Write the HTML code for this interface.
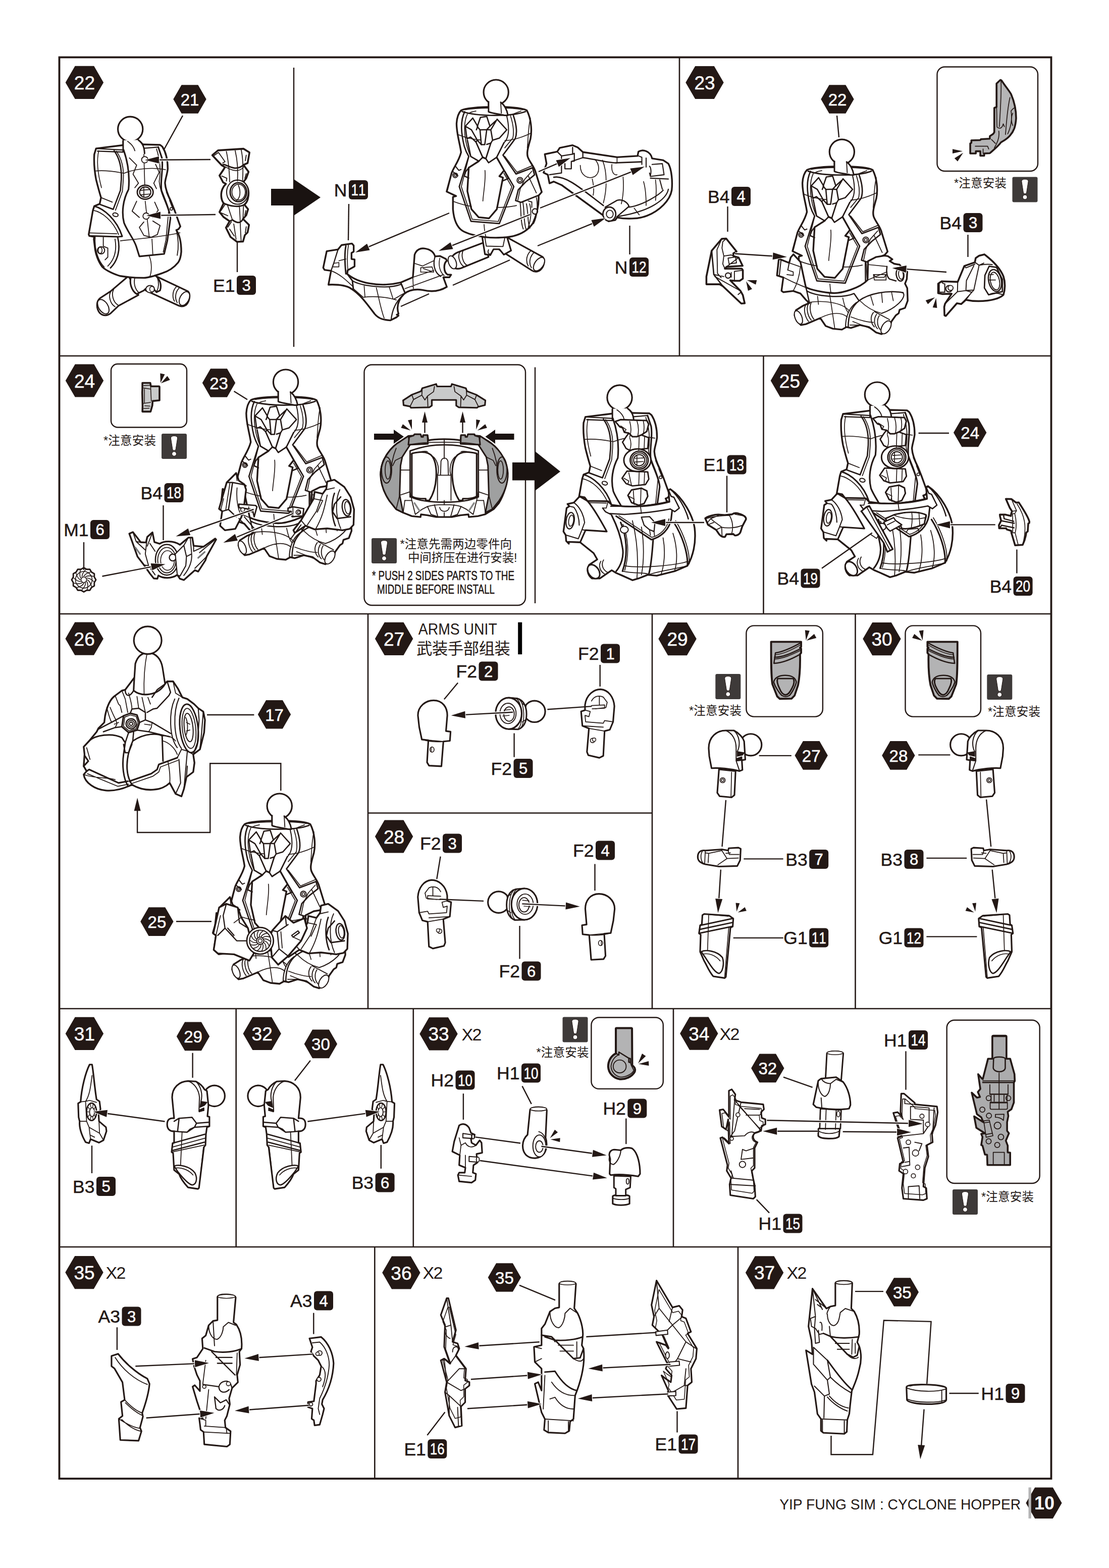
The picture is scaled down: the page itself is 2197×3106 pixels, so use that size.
<!DOCTYPE html>
<html><head><meta charset="utf-8"><title>Cyclone Hopper p10</title>
<style>html,body{margin:0;padding:0;background:#fff}svg{display:block}text{font-family:"Liberation Sans","Noto Sans CJK SC",sans-serif;stroke-width:0.5px}</style>
</head><body>
<svg width="2197" height="3106" viewBox="0 0 2197 3106">
<rect x="0" y="0" width="2197" height="3106" fill="#fff"/>
<rect x="117.5" y="113.5" width="1965.0" height="2815.5" fill="none" stroke="#231815" stroke-width="3.8"/>
<line x1="117.5" y1="705.0" x2="2082.5" y2="705.0" stroke="#231815" stroke-width="2.6" stroke-linecap="butt"/>
<line x1="117.5" y1="1216.0" x2="2082.5" y2="1216.0" stroke="#231815" stroke-width="2.6" stroke-linecap="butt"/>
<line x1="117.5" y1="1998.0" x2="2082.5" y2="1998.0" stroke="#231815" stroke-width="2.6" stroke-linecap="butt"/>
<line x1="117.5" y1="2470.0" x2="2082.5" y2="2470.0" stroke="#231815" stroke-width="2.6" stroke-linecap="butt"/>
<line x1="1346.0" y1="113.5" x2="1346.0" y2="705.0" stroke="#231815" stroke-width="2.6" stroke-linecap="butt"/>
<line x1="582.0" y1="134.0" x2="582.0" y2="687.0" stroke="#231815" stroke-width="2.4" stroke-linecap="butt"/>
<line x1="1512.5" y1="705.0" x2="1512.5" y2="1216.0" stroke="#231815" stroke-width="2.6" stroke-linecap="butt"/>
<line x1="1060.0" y1="727.5" x2="1060.0" y2="1195.0" stroke="#231815" stroke-width="2.4" stroke-linecap="butt"/>
<line x1="729.0" y1="1216.0" x2="729.0" y2="1998.0" stroke="#231815" stroke-width="2.6" stroke-linecap="butt"/>
<line x1="1292.0" y1="1216.0" x2="1292.0" y2="1998.0" stroke="#231815" stroke-width="2.6" stroke-linecap="butt"/>
<line x1="1694.5" y1="1216.0" x2="1694.5" y2="1998.0" stroke="#231815" stroke-width="2.6" stroke-linecap="butt"/>
<line x1="729.0" y1="1610.5" x2="1292.0" y2="1610.5" stroke="#231815" stroke-width="2.6" stroke-linecap="butt"/>
<line x1="467.7" y1="1998.0" x2="467.7" y2="2470.0" stroke="#231815" stroke-width="2.6" stroke-linecap="butt"/>
<line x1="818.8" y1="1998.0" x2="818.8" y2="2470.0" stroke="#231815" stroke-width="2.6" stroke-linecap="butt"/>
<line x1="1334.0" y1="1998.0" x2="1334.0" y2="2470.0" stroke="#231815" stroke-width="2.6" stroke-linecap="butt"/>
<line x1="742.3" y1="2470.0" x2="742.3" y2="2929.0" stroke="#231815" stroke-width="2.6" stroke-linecap="butt"/>
<line x1="1462.0" y1="2470.0" x2="1462.0" y2="2929.0" stroke="#231815" stroke-width="2.6" stroke-linecap="butt"/>
<g transform="translate(875.00,150.00) scale(0.17857) "><path d="M470,1850 L175,1960 C120,1985 80,2040 100,2090 C120,2140 170,2150 215,2135 L520,2010 Z" fill="#fff" stroke="#231815" stroke-width="17.7" stroke-linejoin="round" stroke-linecap="round"/><ellipse cx="118" cy="2070" rx="42" ry="75" transform="rotate(-20 118 2070)" fill="#fff" stroke="#231815" stroke-width="11.6"/><path d="M205,1950 C170,2000 200,2090 250,2120 M240,1935 C210,1990 235,2080 285,2105" fill="none" stroke="#231815" stroke-width="10.4" stroke-linejoin="round" stroke-linecap="round"/><path d="M720,1790 L1120,2010 C1150,2040 1140,2110 1100,2150 C1070,2180 1030,2180 1000,2160 L640,1930 Z" fill="#fff" stroke="#231815" stroke-width="17.7" stroke-linejoin="round" stroke-linecap="round"/><ellipse cx="1080" cy="2090" rx="48" ry="85" transform="rotate(35 1080 2090)" fill="#fff" stroke="#231815" stroke-width="11.6"/><path d="M985,1945 C940,1990 930,2060 960,2110 M1020,1965 C975,2010 965,2080 995,2130" fill="none" stroke="#231815" stroke-width="10.4" stroke-linejoin="round" stroke-linecap="round"/><path d="M450,1790 L725,1790 L770,1940 L690,1985 L640,1925 L575,1925 L540,1990 L480,1980 Z" fill="#fff" stroke="#231815" stroke-width="17.7" stroke-linejoin="round" stroke-linecap="round"/><path d="M480,1800 L495,1890 L680,1895 L700,1800 M520,1930 C505,1960 520,1985 545,1975" fill="none" stroke="#231815" stroke-width="10.4" stroke-linejoin="round" stroke-linecap="round"/><path d="M520,290 L520,400 L735,440 C725,380 700,330 655,295 Z" fill="#fff" stroke="#231815" stroke-width="16.5" stroke-linejoin="round" stroke-linecap="round"/><path d="M655,300 L660,410" fill="none" stroke="#231815" stroke-width="10.4" stroke-linejoin="round" stroke-linecap="round"/><circle cx="603" cy="183" r="138" fill="#fff" stroke="#231815" stroke-width="17.7"/><path d="M215,385 C300,335 850,330 945,385 C990,470 1005,600 985,700 C960,790 940,850 955,900 C975,960 1030,1010 1045,1080 L1110,1290 L1075,1330 C1080,1420 1060,1530 1010,1640 C960,1710 880,1760 790,1780 C700,1800 560,1800 480,1790 C380,1780 280,1750 230,1720 C170,1680 135,1600 125,1480 L125,1345 L160,1335 L55,1285 L110,1080 C130,1020 190,950 215,850 C205,760 165,650 165,530 C170,450 190,410 215,385 Z" fill="#fff" stroke="#231815" stroke-width="18.9" stroke-linejoin="round" stroke-linecap="round"/><path d="M228,398 C400,455 780,455 930,398" fill="none" stroke="#231815" stroke-width="15.3" stroke-linejoin="round" stroke-linecap="round"/><path d="M262,378 C400,352 800,350 900,378 M300,420 C320,400 360,395 380,392 M760,440 C800,420 860,400 880,392" fill="none" stroke="#231815" stroke-width="9.8" stroke-linejoin="round" stroke-linecap="round"/><path d="M520,290 L520,400 C560,420 640,425 700,440 L735,440 C725,380 700,330 655,295" fill="#fff" stroke="#231815" stroke-width="16.5" stroke-linejoin="round" stroke-linecap="round"/><path d="M655,300 L662,415" fill="none" stroke="#231815" stroke-width="10.4" stroke-linejoin="round" stroke-linecap="round"/><path d="M255,400 C215,480 205,600 250,780 C265,830 285,870 300,895 L195,1230 L325,1615 L640,1640 L800,1230 L700,1060" fill="none" stroke="#231815" stroke-width="15.3" stroke-linejoin="round" stroke-linecap="round"/><path d="M285,425 C250,500 240,600 275,760 C290,820 305,860 322,895 M300,905 L218,1230 L338,1592 L628,1617 L778,1232 L690,1082" fill="none" stroke="#231815" stroke-width="9.8" stroke-linejoin="round" stroke-linecap="round"/><path d="M795,440 C835,560 835,650 815,700 L680,880 L825,1090 L1010,1020" fill="none" stroke="#231815" stroke-width="15.3" stroke-linejoin="round" stroke-linecap="round"/><path d="M765,450 C800,560 800,640 790,690 L700,800 M700,895 L835,1070 L1000,1000" fill="none" stroke="#231815" stroke-width="9.8" stroke-linejoin="round" stroke-linecap="round"/><path d="M720,440 C760,600 740,700 690,745" fill="none" stroke="#231815" stroke-width="11.6" stroke-linejoin="round" stroke-linecap="round"/><path d="M1010,1030 L1030,1100 L930,1180 L850,1265 L820,1385 L880,1405 L1080,1325" fill="none" stroke="#231815" stroke-width="15.3" stroke-linejoin="round" stroke-linecap="round"/><path d="M1000,1060 L920,1150 L870,1260 L845,1380 M960,1110 L1050,1300" fill="none" stroke="#231815" stroke-width="9.8" stroke-linejoin="round" stroke-linecap="round"/><circle cx="868" cy="1160" r="32" fill="#fff" stroke="#231815" stroke-width="11.6"/><circle cx="868" cy="1160" r="16" fill="#fff" stroke="#231815" stroke-width="9.2"/><circle cx="150" cy="1105" r="26" fill="#fff" stroke="#231815" stroke-width="11.6"/><circle cx="150" cy="1105" r="12" fill="#fff" stroke="#231815" stroke-width="9.2"/><path d="M150,1000 L190,1050 L215,1040 M120,1060 L180,1110 M110,1085 L60,1285" fill="none" stroke="#231815" stroke-width="11.6" stroke-linejoin="round" stroke-linecap="round"/><path d="M870,1410 C885,1500 870,1620 905,1700 M940,1420 C965,1540 950,1640 980,1690 M900,1400 C920,1500 905,1600 935,1700 M960,1390 L1000,1400 L1000,1460" fill="none" stroke="#231815" stroke-width="10.4" stroke-linejoin="round" stroke-linecap="round"/><circle cx="1035" cy="1505" r="30" fill="#fff" stroke="#231815" stroke-width="11.6"/><path d="M975,1420 C1000,1500 990,1600 960,1680 M1050,1350 C1070,1450 1060,1560 1020,1640" fill="none" stroke="#231815" stroke-width="9.8" stroke-linejoin="round" stroke-linecap="round"/><path d="M172,650 C300,705 430,715 480,716 M700,720 C800,715 900,680 985,640 M130,1395 C220,1430 300,1445 330,1450 M610,1460 C700,1465 780,1450 830,1440 M480,1050 C492,1150 462,1300 457,1390 M470,1650 C475,1720 480,1760 492,1790 M985,470 C960,560 960,700 950,800" fill="none" stroke="#231815" stroke-width="9.2" stroke-linejoin="round" stroke-linecap="round"/><path d="M430,462 L500,452 L535,560 L500,598 L425,600 L395,565 Z M425,600 L440,765 L478,765 L500,598" fill="#fff" stroke="#231815" stroke-width="14.1" stroke-linejoin="round" stroke-linecap="round"/><path d="M345,470 L262,560 L280,700 L320,680 L380,735 L395,715 L440,765 M345,470 L400,562 L385,600 M262,560 L330,600 L395,715" fill="none" stroke="#231815" stroke-width="14.1" stroke-linejoin="round" stroke-linecap="round"/><path d="M615,482 L722,600 L640,692 L565,715 L545,748 L500,762 M615,482 L545,600 L500,598 M545,600 L565,715 M535,560 L600,500" fill="none" stroke="#231815" stroke-width="14.1" stroke-linejoin="round" stroke-linecap="round"/><path d="M380,735 L455,905 L412,948 L322,895 L285,715" fill="none" stroke="#231815" stroke-width="15.3" stroke-linejoin="round" stroke-linecap="round"/><path d="M545,748 L490,920 L520,965 L610,905 L690,745" fill="none" stroke="#231815" stroke-width="15.3" stroke-linejoin="round" stroke-linecap="round"/><path d="M455,905 L490,920 M412,948 L300,1020 L285,1280 L330,1480 L410,1570 L525,1582 L612,1480 L680,1130 L640,1115 L692,1050 L610,905" fill="none" stroke="#231815" stroke-width="18.9" stroke-linejoin="round" stroke-linecap="round"/><path d="M300,1020 L268,1062 L250,1112 L300,1135 M692,1050 L740,1140 L680,1165" fill="none" stroke="#231815" stroke-width="14.1" stroke-linejoin="round" stroke-linecap="round"/></g>
<g transform="translate(1560.18,268.03) scale(0.17857) "><path d="M520,290 L520,400 L735,440 C725,380 700,330 655,295 Z" fill="#fff" stroke="#231815" stroke-width="16.5" stroke-linejoin="round" stroke-linecap="round"/><path d="M655,300 L660,410" fill="none" stroke="#231815" stroke-width="10.4" stroke-linejoin="round" stroke-linecap="round"/><circle cx="603" cy="183" r="138" fill="#fff" stroke="#231815" stroke-width="17.7"/><path d="M215,385 C300,335 850,330 945,385 C990,470 1005,600 985,700 C960,790 940,850 955,900 C975,960 1030,1010 1045,1080 L1110,1290 L1075,1330 C1080,1420 1060,1530 1010,1640 C960,1710 880,1760 790,1780 C700,1800 560,1800 480,1790 C380,1780 280,1750 230,1720 C170,1680 135,1600 125,1480 L125,1345 L160,1335 L55,1285 L110,1080 C130,1020 190,950 215,850 C205,760 165,650 165,530 C170,450 190,410 215,385 Z" fill="#fff" stroke="#231815" stroke-width="18.9" stroke-linejoin="round" stroke-linecap="round"/><path d="M228,398 C400,455 780,455 930,398" fill="none" stroke="#231815" stroke-width="15.3" stroke-linejoin="round" stroke-linecap="round"/><path d="M262,378 C400,352 800,350 900,378 M300,420 C320,400 360,395 380,392 M760,440 C800,420 860,400 880,392" fill="none" stroke="#231815" stroke-width="9.8" stroke-linejoin="round" stroke-linecap="round"/><path d="M520,290 L520,400 C560,420 640,425 700,440 L735,440 C725,380 700,330 655,295" fill="#fff" stroke="#231815" stroke-width="16.5" stroke-linejoin="round" stroke-linecap="round"/><path d="M655,300 L662,415" fill="none" stroke="#231815" stroke-width="10.4" stroke-linejoin="round" stroke-linecap="round"/><path d="M255,400 C215,480 205,600 250,780 C265,830 285,870 300,895 L195,1230 L325,1615 L640,1640 L800,1230 L700,1060" fill="none" stroke="#231815" stroke-width="15.3" stroke-linejoin="round" stroke-linecap="round"/><path d="M285,425 C250,500 240,600 275,760 C290,820 305,860 322,895 M300,905 L218,1230 L338,1592 L628,1617 L778,1232 L690,1082" fill="none" stroke="#231815" stroke-width="9.8" stroke-linejoin="round" stroke-linecap="round"/><path d="M795,440 C835,560 835,650 815,700 L680,880 L825,1090 L1010,1020" fill="none" stroke="#231815" stroke-width="15.3" stroke-linejoin="round" stroke-linecap="round"/><path d="M765,450 C800,560 800,640 790,690 L700,800 M700,895 L835,1070 L1000,1000" fill="none" stroke="#231815" stroke-width="9.8" stroke-linejoin="round" stroke-linecap="round"/><path d="M720,440 C760,600 740,700 690,745" fill="none" stroke="#231815" stroke-width="11.6" stroke-linejoin="round" stroke-linecap="round"/><path d="M1010,1030 L1030,1100 L930,1180 L850,1265 L820,1385 L880,1405 L1080,1325" fill="none" stroke="#231815" stroke-width="15.3" stroke-linejoin="round" stroke-linecap="round"/><path d="M1000,1060 L920,1150 L870,1260 L845,1380 M960,1110 L1050,1300" fill="none" stroke="#231815" stroke-width="9.8" stroke-linejoin="round" stroke-linecap="round"/><circle cx="868" cy="1160" r="32" fill="#fff" stroke="#231815" stroke-width="11.6"/><circle cx="868" cy="1160" r="16" fill="#fff" stroke="#231815" stroke-width="9.2"/><circle cx="150" cy="1105" r="26" fill="#fff" stroke="#231815" stroke-width="11.6"/><circle cx="150" cy="1105" r="12" fill="#fff" stroke="#231815" stroke-width="9.2"/><path d="M150,1000 L190,1050 L215,1040 M120,1060 L180,1110 M110,1085 L60,1285" fill="none" stroke="#231815" stroke-width="11.6" stroke-linejoin="round" stroke-linecap="round"/><path d="M870,1410 C885,1500 870,1620 905,1700 M940,1420 C965,1540 950,1640 980,1690 M900,1400 C920,1500 905,1600 935,1700 M960,1390 L1000,1400 L1000,1460" fill="none" stroke="#231815" stroke-width="10.4" stroke-linejoin="round" stroke-linecap="round"/><circle cx="1035" cy="1505" r="30" fill="#fff" stroke="#231815" stroke-width="11.6"/><path d="M975,1420 C1000,1500 990,1600 960,1680 M1050,1350 C1070,1450 1060,1560 1020,1640" fill="none" stroke="#231815" stroke-width="9.8" stroke-linejoin="round" stroke-linecap="round"/><path d="M172,650 C300,705 430,715 480,716 M700,720 C800,715 900,680 985,640 M130,1395 C220,1430 300,1445 330,1450 M610,1460 C700,1465 780,1450 830,1440 M480,1050 C492,1150 462,1300 457,1390 M470,1650 C475,1720 480,1760 492,1790 M985,470 C960,560 960,700 950,800" fill="none" stroke="#231815" stroke-width="9.2" stroke-linejoin="round" stroke-linecap="round"/><path d="M430,462 L500,452 L535,560 L500,598 L425,600 L395,565 Z M425,600 L440,765 L478,765 L500,598" fill="#fff" stroke="#231815" stroke-width="14.1" stroke-linejoin="round" stroke-linecap="round"/><path d="M345,470 L262,560 L280,700 L320,680 L380,735 L395,715 L440,765 M345,470 L400,562 L385,600 M262,560 L330,600 L395,715" fill="none" stroke="#231815" stroke-width="14.1" stroke-linejoin="round" stroke-linecap="round"/><path d="M615,482 L722,600 L640,692 L565,715 L545,748 L500,762 M615,482 L545,600 L500,598 M545,600 L565,715 M535,560 L600,500" fill="none" stroke="#231815" stroke-width="14.1" stroke-linejoin="round" stroke-linecap="round"/><path d="M380,735 L455,905 L412,948 L322,895 L285,715" fill="none" stroke="#231815" stroke-width="15.3" stroke-linejoin="round" stroke-linecap="round"/><path d="M545,748 L490,920 L520,965 L610,905 L690,745" fill="none" stroke="#231815" stroke-width="15.3" stroke-linejoin="round" stroke-linecap="round"/><path d="M455,905 L490,920 M412,948 L300,1020 L285,1280 L330,1480 L410,1570 L525,1582 L612,1480 L680,1130 L640,1115 L692,1050 L610,905" fill="none" stroke="#231815" stroke-width="18.9" stroke-linejoin="round" stroke-linecap="round"/><path d="M300,1020 L268,1062 L250,1112 L300,1135 M692,1050 L740,1140 L680,1165" fill="none" stroke="#231815" stroke-width="14.1" stroke-linejoin="round" stroke-linecap="round"/></g>
<g transform="translate(1525.00,260.00) scale(0.17857) "><path d="M262,1365 L232,1400 L215,1460 L100,1415 L80,1600 L150,1622 L130,1770 L150,1785 L260,1772 L340,1800 L400,1870 L440,1905 L370,1935 L290,1985 L275,2040 L300,2105 L345,2150 L400,2140 L560,2072 L620,2160 L700,2190 L800,2200 L850,2172 L900,2182 L1000,2150 L1100,2172 L1180,2232 L1240,2250 L1320,2200 L1350,2110 L1400,2040 L1430,2020 L1440,1980 L1500,1960 L1530,1880 L1525,1740 L1500,1690 L1520,1640 L1525,1560 L1490,1540 L1440,1480 L1380,1470 L1330,1440 L1360,1420 L1310,1385 L1272,1380 L1180,1395 L1090,1440 L1085,1650 C1000,1740 800,1800 700,1795 C600,1790 450,1760 400,1730 L340,1450 Z" fill="#fff" stroke="#231815" stroke-width="18.9" stroke-linejoin="round" stroke-linecap="round"/><path d="M410,1770 C500,1830 800,1860 935,1800 L990,1880 M870,2170 C870,2050 900,1950 990,1880 C1100,1800 1300,1760 1480,1790 M400,1730 L410,1770 L440,1905 M1060,1450 L1062,1660" fill="none" stroke="#231815" stroke-width="14.1" stroke-linejoin="round" stroke-linecap="round"/><path d="M1470,1790 C1500,1800 1490,1850 1440,1900 C1380,1960 1300,2000 1240,2020 M840,2180 C840,2060 880,1960 960,1900" fill="none" stroke="#231815" stroke-width="11.6" stroke-linejoin="round" stroke-linecap="round"/><path d="M1160,2000 L1330,2090 M1150,2010 C1110,2060 1120,2130 1160,2170 M1185,2030 C1150,2080 1155,2150 1195,2190 M1215,2045 C1185,2090 1190,2160 1225,2200" fill="none" stroke="#231815" stroke-width="10.4" stroke-linejoin="round" stroke-linecap="round"/><ellipse cx="1290" cy="2175" rx="45" ry="80" transform="rotate(32 1290 2175)" fill="#fff" stroke="#231815" stroke-width="11.6"/><path d="M400,1925 C370,1970 390,2060 430,2110 M430,1912 C400,1960 420,2050 460,2095 M460,1900 C435,1950 450,2040 490,2085" fill="none" stroke="#231815" stroke-width="10.4" stroke-linejoin="round" stroke-linecap="round"/><ellipse cx="318" cy="2065" rx="38" ry="78" transform="rotate(-22 318 2065)" fill="#fff" stroke="#231815" stroke-width="11.6"/><path d="M150,1620 C300,1700 380,1720 410,1740 M215,1460 L330,1500 M200,1540 L260,1560 L260,1600 L190,1590 M1150,1590 L1290,1590 L1290,1650 L1160,1650 Z M1150,1590 L1180,1620 L1270,1620 L1290,1590" fill="none" stroke="#231815" stroke-width="9.8" stroke-linejoin="round" stroke-linecap="round"/><path d="M660,1790 C680,1900 700,2050 720,2180 M530,1830 L540,1920 M810,1850 C830,1950 850,1990 870,2010 M420,1900 C600,1870 800,1900 880,1990 M560,2070 C700,2000 800,2010 860,2060 M1240,1790 L1250,1900 M1350,1780 L1370,1880 M1000,1880 C1100,1980 1200,2010 1240,2020 M900,2060 C1000,2100 1100,2120 1150,2120 M1120,1830 L1150,1930 M260,1772 C300,1700 330,1600 340,1500 M1085,1650 L1300,1560 M1100,1480 L1300,1500 M920,2110 L1120,2190 M890,2150 L1000,2150" fill="none" stroke="#231815" stroke-width="9.2" stroke-linejoin="round" stroke-linecap="round"/><path d="M1300,1500 C1290,1560 1300,1620 1330,1640 L1400,1660" fill="none" stroke="#231815" stroke-width="14.1" stroke-linejoin="round" stroke-linecap="round"/><ellipse cx="1445" cy="1590" rx="42" ry="72" transform="rotate(-8 1445 1590)" fill="#fff" stroke="#231815" stroke-width="14.1"/><ellipse cx="1455" cy="1590" rx="26" ry="52" transform="rotate(-8 1455 1590)" fill="#fff" stroke="#231815" stroke-width="9.8"/><path d="M100,1415 L80,1600 M125,1425 L105,1605 M215,1460 L200,1540" fill="none" stroke="#231815" stroke-width="11.6" stroke-linejoin="round" stroke-linecap="round"/></g>
<g transform="translate(458.39,723.93) scale(0.17857) "><path d="M520,290 L520,400 L735,440 C725,380 700,330 655,295 Z" fill="#fff" stroke="#231815" stroke-width="16.5" stroke-linejoin="round" stroke-linecap="round"/><path d="M655,300 L660,410" fill="none" stroke="#231815" stroke-width="10.4" stroke-linejoin="round" stroke-linecap="round"/><circle cx="603" cy="183" r="138" fill="#fff" stroke="#231815" stroke-width="17.7"/><path d="M215,385 C300,335 850,330 945,385 C990,470 1005,600 985,700 C960,790 940,850 955,900 C975,960 1030,1010 1045,1080 L1110,1290 L1075,1330 C1080,1420 1060,1530 1010,1640 C960,1710 880,1760 790,1780 C700,1800 560,1800 480,1790 C380,1780 280,1750 230,1720 C170,1680 135,1600 125,1480 L125,1345 L160,1335 L55,1285 L110,1080 C130,1020 190,950 215,850 C205,760 165,650 165,530 C170,450 190,410 215,385 Z" fill="#fff" stroke="#231815" stroke-width="18.9" stroke-linejoin="round" stroke-linecap="round"/><path d="M228,398 C400,455 780,455 930,398" fill="none" stroke="#231815" stroke-width="15.3" stroke-linejoin="round" stroke-linecap="round"/><path d="M262,378 C400,352 800,350 900,378 M300,420 C320,400 360,395 380,392 M760,440 C800,420 860,400 880,392" fill="none" stroke="#231815" stroke-width="9.8" stroke-linejoin="round" stroke-linecap="round"/><path d="M520,290 L520,400 C560,420 640,425 700,440 L735,440 C725,380 700,330 655,295" fill="#fff" stroke="#231815" stroke-width="16.5" stroke-linejoin="round" stroke-linecap="round"/><path d="M655,300 L662,415" fill="none" stroke="#231815" stroke-width="10.4" stroke-linejoin="round" stroke-linecap="round"/><path d="M255,400 C215,480 205,600 250,780 C265,830 285,870 300,895 L195,1230 L325,1615 L640,1640 L800,1230 L700,1060" fill="none" stroke="#231815" stroke-width="15.3" stroke-linejoin="round" stroke-linecap="round"/><path d="M285,425 C250,500 240,600 275,760 C290,820 305,860 322,895 M300,905 L218,1230 L338,1592 L628,1617 L778,1232 L690,1082" fill="none" stroke="#231815" stroke-width="9.8" stroke-linejoin="round" stroke-linecap="round"/><path d="M795,440 C835,560 835,650 815,700 L680,880 L825,1090 L1010,1020" fill="none" stroke="#231815" stroke-width="15.3" stroke-linejoin="round" stroke-linecap="round"/><path d="M765,450 C800,560 800,640 790,690 L700,800 M700,895 L835,1070 L1000,1000" fill="none" stroke="#231815" stroke-width="9.8" stroke-linejoin="round" stroke-linecap="round"/><path d="M720,440 C760,600 740,700 690,745" fill="none" stroke="#231815" stroke-width="11.6" stroke-linejoin="round" stroke-linecap="round"/><path d="M1010,1030 L1030,1100 L930,1180 L850,1265 L820,1385 L880,1405 L1080,1325" fill="none" stroke="#231815" stroke-width="15.3" stroke-linejoin="round" stroke-linecap="round"/><path d="M1000,1060 L920,1150 L870,1260 L845,1380 M960,1110 L1050,1300" fill="none" stroke="#231815" stroke-width="9.8" stroke-linejoin="round" stroke-linecap="round"/><circle cx="868" cy="1160" r="32" fill="#fff" stroke="#231815" stroke-width="11.6"/><circle cx="868" cy="1160" r="16" fill="#fff" stroke="#231815" stroke-width="9.2"/><circle cx="150" cy="1105" r="26" fill="#fff" stroke="#231815" stroke-width="11.6"/><circle cx="150" cy="1105" r="12" fill="#fff" stroke="#231815" stroke-width="9.2"/><path d="M150,1000 L190,1050 L215,1040 M120,1060 L180,1110 M110,1085 L60,1285" fill="none" stroke="#231815" stroke-width="11.6" stroke-linejoin="round" stroke-linecap="round"/><path d="M870,1410 C885,1500 870,1620 905,1700 M940,1420 C965,1540 950,1640 980,1690 M900,1400 C920,1500 905,1600 935,1700 M960,1390 L1000,1400 L1000,1460" fill="none" stroke="#231815" stroke-width="10.4" stroke-linejoin="round" stroke-linecap="round"/><circle cx="1035" cy="1505" r="30" fill="#fff" stroke="#231815" stroke-width="11.6"/><path d="M975,1420 C1000,1500 990,1600 960,1680 M1050,1350 C1070,1450 1060,1560 1020,1640" fill="none" stroke="#231815" stroke-width="9.8" stroke-linejoin="round" stroke-linecap="round"/><path d="M172,650 C300,705 430,715 480,716 M700,720 C800,715 900,680 985,640 M130,1395 C220,1430 300,1445 330,1450 M610,1460 C700,1465 780,1450 830,1440 M480,1050 C492,1150 462,1300 457,1390 M470,1650 C475,1720 480,1760 492,1790 M985,470 C960,560 960,700 950,800" fill="none" stroke="#231815" stroke-width="9.2" stroke-linejoin="round" stroke-linecap="round"/><path d="M430,462 L500,452 L535,560 L500,598 L425,600 L395,565 Z M425,600 L440,765 L478,765 L500,598" fill="#fff" stroke="#231815" stroke-width="14.1" stroke-linejoin="round" stroke-linecap="round"/><path d="M345,470 L262,560 L280,700 L320,680 L380,735 L395,715 L440,765 M345,470 L400,562 L385,600 M262,560 L330,600 L395,715" fill="none" stroke="#231815" stroke-width="14.1" stroke-linejoin="round" stroke-linecap="round"/><path d="M615,482 L722,600 L640,692 L565,715 L545,748 L500,762 M615,482 L545,600 L500,598 M545,600 L565,715 M535,560 L600,500" fill="none" stroke="#231815" stroke-width="14.1" stroke-linejoin="round" stroke-linecap="round"/><path d="M380,735 L455,905 L412,948 L322,895 L285,715" fill="none" stroke="#231815" stroke-width="15.3" stroke-linejoin="round" stroke-linecap="round"/><path d="M545,748 L490,920 L520,965 L610,905 L690,745" fill="none" stroke="#231815" stroke-width="15.3" stroke-linejoin="round" stroke-linecap="round"/><path d="M455,905 L490,920 M412,948 L300,1020 L285,1280 L330,1480 L410,1570 L525,1582 L612,1480 L680,1130 L640,1115 L692,1050 L610,905" fill="none" stroke="#231815" stroke-width="18.9" stroke-linejoin="round" stroke-linecap="round"/><path d="M300,1020 L268,1062 L250,1112 L300,1135 M692,1050 L740,1140 L680,1165" fill="none" stroke="#231815" stroke-width="14.1" stroke-linejoin="round" stroke-linecap="round"/></g>
<g transform="translate(423.21,715.90) scale(0.17857) "><path d="M262,1365 L232,1400 L215,1460 L100,1415 L80,1600 L150,1622 L130,1770 L150,1785 L260,1772 L340,1800 L400,1870 L440,1905 L370,1935 L290,1985 L275,2040 L300,2105 L345,2150 L400,2140 L560,2072 L620,2160 L700,2190 L800,2200 L850,2172 L900,2182 L1000,2150 L1100,2172 L1180,2232 L1240,2250 L1320,2200 L1350,2110 L1400,2040 L1430,2020 L1440,1980 L1500,1960 L1530,1880 L1525,1740 L1500,1690 L1520,1640 L1525,1560 L1490,1540 L1440,1480 L1380,1470 L1330,1440 L1360,1420 L1310,1385 L1272,1380 L1180,1395 L1090,1440 L1085,1650 C1000,1740 800,1800 700,1795 C600,1790 450,1760 400,1730 L340,1450 Z" fill="#fff" stroke="#231815" stroke-width="18.9" stroke-linejoin="round" stroke-linecap="round"/><path d="M410,1770 C500,1830 800,1860 935,1800 L990,1880 M870,2170 C870,2050 900,1950 990,1880 C1100,1800 1300,1760 1480,1790 M400,1730 L410,1770 L440,1905 M1060,1450 L1062,1660" fill="none" stroke="#231815" stroke-width="14.1" stroke-linejoin="round" stroke-linecap="round"/><path d="M1470,1790 C1500,1800 1490,1850 1440,1900 C1380,1960 1300,2000 1240,2020 M840,2180 C840,2060 880,1960 960,1900" fill="none" stroke="#231815" stroke-width="11.6" stroke-linejoin="round" stroke-linecap="round"/><path d="M1160,2000 L1330,2090 M1150,2010 C1110,2060 1120,2130 1160,2170 M1185,2030 C1150,2080 1155,2150 1195,2190 M1215,2045 C1185,2090 1190,2160 1225,2200" fill="none" stroke="#231815" stroke-width="10.4" stroke-linejoin="round" stroke-linecap="round"/><ellipse cx="1290" cy="2175" rx="45" ry="80" transform="rotate(32 1290 2175)" fill="#fff" stroke="#231815" stroke-width="11.6"/><path d="M400,1925 C370,1970 390,2060 430,2110 M430,1912 C400,1960 420,2050 460,2095 M460,1900 C435,1950 450,2040 490,2085" fill="none" stroke="#231815" stroke-width="10.4" stroke-linejoin="round" stroke-linecap="round"/><ellipse cx="318" cy="2065" rx="38" ry="78" transform="rotate(-22 318 2065)" fill="#fff" stroke="#231815" stroke-width="11.6"/><path d="M150,1620 C300,1700 380,1720 410,1740 M215,1460 L330,1500 M200,1540 L260,1560 L260,1600 L190,1590 M1150,1590 L1290,1590 L1290,1650 L1160,1650 Z M1150,1590 L1180,1620 L1270,1620 L1290,1590" fill="none" stroke="#231815" stroke-width="9.8" stroke-linejoin="round" stroke-linecap="round"/><path d="M660,1790 C680,1900 700,2050 720,2180 M530,1830 L540,1920 M810,1850 C830,1950 850,1990 870,2010 M420,1900 C600,1870 800,1900 880,1990 M560,2070 C700,2000 800,2010 860,2060 M1240,1790 L1250,1900 M1350,1780 L1370,1880 M1000,1880 C1100,1980 1200,2010 1240,2020 M900,2060 C1000,2100 1100,2120 1150,2120 M1120,1830 L1150,1930 M260,1772 C300,1700 330,1600 340,1500 M1085,1650 L1300,1560 M1100,1480 L1300,1500 M920,2110 L1120,2190 M890,2150 L1000,2150" fill="none" stroke="#231815" stroke-width="9.2" stroke-linejoin="round" stroke-linecap="round"/><path d="M1300,1500 C1290,1560 1300,1620 1330,1640 L1400,1660" fill="none" stroke="#231815" stroke-width="14.1" stroke-linejoin="round" stroke-linecap="round"/><ellipse cx="1445" cy="1590" rx="42" ry="72" transform="rotate(-8 1445 1590)" fill="#fff" stroke="#231815" stroke-width="14.1"/><ellipse cx="1455" cy="1590" rx="26" ry="52" transform="rotate(-8 1455 1590)" fill="#fff" stroke="#231815" stroke-width="9.8"/><path d="M100,1415 L80,1600 M125,1425 L105,1605 M215,1460 L200,1540" fill="none" stroke="#231815" stroke-width="11.6" stroke-linejoin="round" stroke-linecap="round"/></g>
<g transform="translate(425.00,720.00) scale(0.17857) "><path d="M1250,1310 L1330,1290 L1440,1370 L1510,1480 L1548,1620 L1542,1790 L1500,1835 L1420,1850 L1250,1830 L1110,1840 L1010,1800 L890,1880 L875,1850 L960,1740 L1100,1500 L1110,1425 L1200,1445 L1240,1390 Z" fill="#fff" stroke="#231815" stroke-width="18.9" stroke-linejoin="round" stroke-linecap="round"/><ellipse cx="1465" cy="1600" rx="48" ry="92" transform="rotate(-8 1465 1600)" fill="#fff" stroke="#231815" stroke-width="14.1"/><ellipse cx="1475" cy="1600" rx="30" ry="70" transform="rotate(-8 1475 1600)" fill="#fff" stroke="#231815" stroke-width="10.4"/><path d="M1330,1440 C1290,1550 1300,1700 1340,1800 M1310,1645 L1360,1720 L1510,1700 M1310,1645 L1330,1560 L1400,1480" fill="none" stroke="#231815" stroke-width="15.3" stroke-linejoin="round" stroke-linecap="round"/><path d="M1390,1400 C1340,1500 1340,1700 1400,1830 M1200,1445 L1130,1640 L1030,1790 M1240,1400 L1330,1380 M1100,1500 L1200,1520 L1140,1650 M1250,1460 C1220,1600 1200,1700 1120,1840 M960,1740 L1010,1800" fill="none" stroke="#231815" stroke-width="10.4" stroke-linejoin="round" stroke-linecap="round"/><path d="M240,1215 L135,1320 L50,1612 L85,1640 L62,1800 L115,1850 L230,1835 L300,1700 L330,1560 L350,1400 L330,1340 L270,1300 Z" fill="#fff" stroke="#231815" stroke-width="18.9" stroke-linejoin="round" stroke-linecap="round"/><path d="M200,1320 L155,1620 L240,1700 M135,1320 L200,1320 L330,1345 M155,1620 L85,1640" fill="none" stroke="#231815" stroke-width="14.1" stroke-linejoin="round" stroke-linecap="round"/><path d="M250,1380 C240,1500 250,1600 300,1700 M100,1500 L70,1620 M170,1330 L125,1620 M240,1215 L250,1300" fill="none" stroke="#231815" stroke-width="9.8" stroke-linejoin="round" stroke-linecap="round"/><path d="M270,1560 L455,1575 L470,1590 L440,1700 L420,1620 L270,1600 Z" fill="#fff" stroke="#231815" stroke-width="15.3" stroke-linejoin="round" stroke-linecap="round"/><circle cx="312" cy="1622" r="22" fill="#fff" stroke="#231815" stroke-width="10.4"/><path d="M380,1590 L380,1640 L430,1650" fill="none" stroke="#231815" stroke-width="9.8" stroke-linejoin="round" stroke-linecap="round"/><path d="M815,1605 L870,1590 L990,1610 L980,1690 L860,1700 L850,1640 L815,1640 Z" fill="#fff" stroke="#231815" stroke-width="15.3" stroke-linejoin="round" stroke-linecap="round"/><circle cx="930" cy="1650" r="26" fill="#fff" stroke="#231815" stroke-width="10.4"/><circle cx="935" cy="1650" r="14" fill="#fff" stroke="#231815" stroke-width="8.0"/><path d="M870,1590 L870,1700" fill="none" stroke="#231815" stroke-width="9.8" stroke-linejoin="round" stroke-linecap="round"/><path d="M330,1700 L440,1830 M270,1720 L420,1870 M1010,1800 L880,1980 M960,1790 L850,1940" fill="none" stroke="#231815" stroke-width="11.6" stroke-linejoin="round" stroke-linecap="round"/></g>
<g transform="translate(446.07,1563.93) scale(0.17857) "><path d="M520,290 L520,400 L735,440 C725,380 700,330 655,295 Z" fill="#fff" stroke="#231815" stroke-width="16.5" stroke-linejoin="round" stroke-linecap="round"/><path d="M655,300 L660,410" fill="none" stroke="#231815" stroke-width="10.4" stroke-linejoin="round" stroke-linecap="round"/><circle cx="603" cy="183" r="138" fill="#fff" stroke="#231815" stroke-width="17.7"/><path d="M215,385 C300,335 850,330 945,385 C990,470 1005,600 985,700 C960,790 940,850 955,900 C975,960 1030,1010 1045,1080 L1110,1290 L1075,1330 C1080,1420 1060,1530 1010,1640 C960,1710 880,1760 790,1780 C700,1800 560,1800 480,1790 C380,1780 280,1750 230,1720 C170,1680 135,1600 125,1480 L125,1345 L160,1335 L55,1285 L110,1080 C130,1020 190,950 215,850 C205,760 165,650 165,530 C170,450 190,410 215,385 Z" fill="#fff" stroke="#231815" stroke-width="18.9" stroke-linejoin="round" stroke-linecap="round"/><path d="M228,398 C400,455 780,455 930,398" fill="none" stroke="#231815" stroke-width="15.3" stroke-linejoin="round" stroke-linecap="round"/><path d="M262,378 C400,352 800,350 900,378 M300,420 C320,400 360,395 380,392 M760,440 C800,420 860,400 880,392" fill="none" stroke="#231815" stroke-width="9.8" stroke-linejoin="round" stroke-linecap="round"/><path d="M520,290 L520,400 C560,420 640,425 700,440 L735,440 C725,380 700,330 655,295" fill="#fff" stroke="#231815" stroke-width="16.5" stroke-linejoin="round" stroke-linecap="round"/><path d="M655,300 L662,415" fill="none" stroke="#231815" stroke-width="10.4" stroke-linejoin="round" stroke-linecap="round"/><path d="M255,400 C215,480 205,600 250,780 C265,830 285,870 300,895 L195,1230 L325,1615 L640,1640 L800,1230 L700,1060" fill="none" stroke="#231815" stroke-width="15.3" stroke-linejoin="round" stroke-linecap="round"/><path d="M285,425 C250,500 240,600 275,760 C290,820 305,860 322,895 M300,905 L218,1230 L338,1592 L628,1617 L778,1232 L690,1082" fill="none" stroke="#231815" stroke-width="9.8" stroke-linejoin="round" stroke-linecap="round"/><path d="M795,440 C835,560 835,650 815,700 L680,880 L825,1090 L1010,1020" fill="none" stroke="#231815" stroke-width="15.3" stroke-linejoin="round" stroke-linecap="round"/><path d="M765,450 C800,560 800,640 790,690 L700,800 M700,895 L835,1070 L1000,1000" fill="none" stroke="#231815" stroke-width="9.8" stroke-linejoin="round" stroke-linecap="round"/><path d="M720,440 C760,600 740,700 690,745" fill="none" stroke="#231815" stroke-width="11.6" stroke-linejoin="round" stroke-linecap="round"/><path d="M1010,1030 L1030,1100 L930,1180 L850,1265 L820,1385 L880,1405 L1080,1325" fill="none" stroke="#231815" stroke-width="15.3" stroke-linejoin="round" stroke-linecap="round"/><path d="M1000,1060 L920,1150 L870,1260 L845,1380 M960,1110 L1050,1300" fill="none" stroke="#231815" stroke-width="9.8" stroke-linejoin="round" stroke-linecap="round"/><circle cx="868" cy="1160" r="32" fill="#fff" stroke="#231815" stroke-width="11.6"/><circle cx="868" cy="1160" r="16" fill="#fff" stroke="#231815" stroke-width="9.2"/><circle cx="150" cy="1105" r="26" fill="#fff" stroke="#231815" stroke-width="11.6"/><circle cx="150" cy="1105" r="12" fill="#fff" stroke="#231815" stroke-width="9.2"/><path d="M150,1000 L190,1050 L215,1040 M120,1060 L180,1110 M110,1085 L60,1285" fill="none" stroke="#231815" stroke-width="11.6" stroke-linejoin="round" stroke-linecap="round"/><path d="M870,1410 C885,1500 870,1620 905,1700 M940,1420 C965,1540 950,1640 980,1690 M900,1400 C920,1500 905,1600 935,1700 M960,1390 L1000,1400 L1000,1460" fill="none" stroke="#231815" stroke-width="10.4" stroke-linejoin="round" stroke-linecap="round"/><circle cx="1035" cy="1505" r="30" fill="#fff" stroke="#231815" stroke-width="11.6"/><path d="M975,1420 C1000,1500 990,1600 960,1680 M1050,1350 C1070,1450 1060,1560 1020,1640" fill="none" stroke="#231815" stroke-width="9.8" stroke-linejoin="round" stroke-linecap="round"/><path d="M172,650 C300,705 430,715 480,716 M700,720 C800,715 900,680 985,640 M130,1395 C220,1430 300,1445 330,1450 M610,1460 C700,1465 780,1450 830,1440 M480,1050 C492,1150 462,1300 457,1390 M470,1650 C475,1720 480,1760 492,1790 M985,470 C960,560 960,700 950,800" fill="none" stroke="#231815" stroke-width="9.2" stroke-linejoin="round" stroke-linecap="round"/><path d="M430,462 L500,452 L535,560 L500,598 L425,600 L395,565 Z M425,600 L440,765 L478,765 L500,598" fill="#fff" stroke="#231815" stroke-width="14.1" stroke-linejoin="round" stroke-linecap="round"/><path d="M345,470 L262,560 L280,700 L320,680 L380,735 L395,715 L440,765 M345,470 L400,562 L385,600 M262,560 L330,600 L395,715" fill="none" stroke="#231815" stroke-width="14.1" stroke-linejoin="round" stroke-linecap="round"/><path d="M615,482 L722,600 L640,692 L565,715 L545,748 L500,762 M615,482 L545,600 L500,598 M545,600 L565,715 M535,560 L600,500" fill="none" stroke="#231815" stroke-width="14.1" stroke-linejoin="round" stroke-linecap="round"/><path d="M380,735 L455,905 L412,948 L322,895 L285,715" fill="none" stroke="#231815" stroke-width="15.3" stroke-linejoin="round" stroke-linecap="round"/><path d="M545,748 L490,920 L520,965 L610,905 L690,745" fill="none" stroke="#231815" stroke-width="15.3" stroke-linejoin="round" stroke-linecap="round"/><path d="M455,905 L490,920 M412,948 L300,1020 L285,1280 L330,1480 L410,1570 L525,1582 L612,1480 L680,1130 L640,1115 L692,1050 L610,905" fill="none" stroke="#231815" stroke-width="18.9" stroke-linejoin="round" stroke-linecap="round"/><path d="M300,1020 L268,1062 L250,1112 L300,1135 M692,1050 L740,1140 L680,1165" fill="none" stroke="#231815" stroke-width="14.1" stroke-linejoin="round" stroke-linecap="round"/></g>
<g transform="translate(410.89,1555.90) scale(0.17857) "><path d="M262,1365 L232,1400 L215,1460 L100,1415 L80,1600 L150,1622 L130,1770 L150,1785 L260,1772 L340,1800 L400,1870 L440,1905 L370,1935 L290,1985 L275,2040 L300,2105 L345,2150 L400,2140 L560,2072 L620,2160 L700,2190 L800,2200 L850,2172 L900,2182 L1000,2150 L1100,2172 L1180,2232 L1240,2250 L1320,2200 L1350,2110 L1400,2040 L1430,2020 L1440,1980 L1500,1960 L1530,1880 L1525,1740 L1500,1690 L1520,1640 L1525,1560 L1490,1540 L1440,1480 L1380,1470 L1330,1440 L1360,1420 L1310,1385 L1272,1380 L1180,1395 L1090,1440 L1085,1650 C1000,1740 800,1800 700,1795 C600,1790 450,1760 400,1730 L340,1450 Z" fill="#fff" stroke="#231815" stroke-width="18.9" stroke-linejoin="round" stroke-linecap="round"/><path d="M410,1770 C500,1830 800,1860 935,1800 L990,1880 M870,2170 C870,2050 900,1950 990,1880 C1100,1800 1300,1760 1480,1790 M400,1730 L410,1770 L440,1905 M1060,1450 L1062,1660" fill="none" stroke="#231815" stroke-width="14.1" stroke-linejoin="round" stroke-linecap="round"/><path d="M1470,1790 C1500,1800 1490,1850 1440,1900 C1380,1960 1300,2000 1240,2020 M840,2180 C840,2060 880,1960 960,1900" fill="none" stroke="#231815" stroke-width="11.6" stroke-linejoin="round" stroke-linecap="round"/><path d="M1160,2000 L1330,2090 M1150,2010 C1110,2060 1120,2130 1160,2170 M1185,2030 C1150,2080 1155,2150 1195,2190 M1215,2045 C1185,2090 1190,2160 1225,2200" fill="none" stroke="#231815" stroke-width="10.4" stroke-linejoin="round" stroke-linecap="round"/><ellipse cx="1290" cy="2175" rx="45" ry="80" transform="rotate(32 1290 2175)" fill="#fff" stroke="#231815" stroke-width="11.6"/><path d="M400,1925 C370,1970 390,2060 430,2110 M430,1912 C400,1960 420,2050 460,2095 M460,1900 C435,1950 450,2040 490,2085" fill="none" stroke="#231815" stroke-width="10.4" stroke-linejoin="round" stroke-linecap="round"/><ellipse cx="318" cy="2065" rx="38" ry="78" transform="rotate(-22 318 2065)" fill="#fff" stroke="#231815" stroke-width="11.6"/><path d="M150,1620 C300,1700 380,1720 410,1740 M215,1460 L330,1500 M200,1540 L260,1560 L260,1600 L190,1590 M1150,1590 L1290,1590 L1290,1650 L1160,1650 Z M1150,1590 L1180,1620 L1270,1620 L1290,1590" fill="none" stroke="#231815" stroke-width="9.8" stroke-linejoin="round" stroke-linecap="round"/><path d="M660,1790 C680,1900 700,2050 720,2180 M530,1830 L540,1920 M810,1850 C830,1950 850,1990 870,2010 M420,1900 C600,1870 800,1900 880,1990 M560,2070 C700,2000 800,2010 860,2060 M1240,1790 L1250,1900 M1350,1780 L1370,1880 M1000,1880 C1100,1980 1200,2010 1240,2020 M900,2060 C1000,2100 1100,2120 1150,2120 M1120,1830 L1150,1930 M260,1772 C300,1700 330,1600 340,1500 M1085,1650 L1300,1560 M1100,1480 L1300,1500 M920,2110 L1120,2190 M890,2150 L1000,2150" fill="none" stroke="#231815" stroke-width="9.2" stroke-linejoin="round" stroke-linecap="round"/><path d="M1300,1500 C1290,1560 1300,1620 1330,1640 L1400,1660" fill="none" stroke="#231815" stroke-width="14.1" stroke-linejoin="round" stroke-linecap="round"/><ellipse cx="1445" cy="1590" rx="42" ry="72" transform="rotate(-8 1445 1590)" fill="#fff" stroke="#231815" stroke-width="14.1"/><ellipse cx="1455" cy="1590" rx="26" ry="52" transform="rotate(-8 1455 1590)" fill="#fff" stroke="#231815" stroke-width="9.8"/><path d="M100,1415 L80,1600 M125,1425 L105,1605 M215,1460 L200,1540" fill="none" stroke="#231815" stroke-width="11.6" stroke-linejoin="round" stroke-linecap="round"/></g>
<g transform="translate(412.68,1560.00) scale(0.17857) "><path d="M1250,1310 L1330,1290 L1440,1370 L1510,1480 L1548,1620 L1542,1790 L1500,1835 L1420,1850 L1250,1830 L1110,1840 L1010,1800 L890,1880 L875,1850 L960,1740 L1100,1500 L1110,1425 L1200,1445 L1240,1390 Z" fill="#fff" stroke="#231815" stroke-width="18.9" stroke-linejoin="round" stroke-linecap="round"/><ellipse cx="1465" cy="1600" rx="48" ry="92" transform="rotate(-8 1465 1600)" fill="#fff" stroke="#231815" stroke-width="14.1"/><ellipse cx="1475" cy="1600" rx="30" ry="70" transform="rotate(-8 1475 1600)" fill="#fff" stroke="#231815" stroke-width="10.4"/><path d="M1330,1440 C1290,1550 1300,1700 1340,1800 M1310,1645 L1360,1720 L1510,1700 M1310,1645 L1330,1560 L1400,1480" fill="none" stroke="#231815" stroke-width="15.3" stroke-linejoin="round" stroke-linecap="round"/><path d="M1390,1400 C1340,1500 1340,1700 1400,1830 M1200,1445 L1130,1640 L1030,1790 M1240,1400 L1330,1380 M1100,1500 L1200,1520 L1140,1650 M1250,1460 C1220,1600 1200,1700 1120,1840 M960,1740 L1010,1800" fill="none" stroke="#231815" stroke-width="10.4" stroke-linejoin="round" stroke-linecap="round"/><path d="M240,1215 L135,1320 L50,1612 L85,1640 L62,1800 L115,1850 L230,1835 L300,1700 L330,1560 L350,1400 L330,1340 L270,1300 Z" fill="#fff" stroke="#231815" stroke-width="18.9" stroke-linejoin="round" stroke-linecap="round"/><path d="M200,1320 L155,1620 L240,1700 M135,1320 L200,1320 L330,1345 M155,1620 L85,1640" fill="none" stroke="#231815" stroke-width="14.1" stroke-linejoin="round" stroke-linecap="round"/><path d="M250,1380 C240,1500 250,1600 300,1700 M100,1500 L70,1620 M170,1330 L125,1620 M240,1215 L250,1300" fill="none" stroke="#231815" stroke-width="9.8" stroke-linejoin="round" stroke-linecap="round"/></g>
<g transform="translate(410.00,1560.00) scale(0.17857) "><path d="M215,1290 L135,1330 L70,1620 L100,1640 L75,1800 L120,1840 L300,1850 L470,1920 L520,1840 L455,1560 L380,1440 L340,1330 Z" fill="#fff" stroke="#231815" stroke-width="18.9" stroke-linejoin="round" stroke-linecap="round"/><path d="M180,1420 L200,1560 L330,1700 L470,1700 M200,1560 L120,1640 M230,1560 L300,1640 M215,1290 L180,1420 M340,1330 L360,1500 L455,1560" fill="none" stroke="#231815" stroke-width="12.8" stroke-linejoin="round" stroke-linecap="round"/><path d="M230,1590 L295,1655 M150,1420 L100,1640 M380,1440 L300,1500" fill="none" stroke="#231815" stroke-width="9.8" stroke-linejoin="round" stroke-linecap="round"/><path d="M870,1425 L725,1585 L700,1650 L720,1885 L790,1965 L900,1870 L1045,1700 L1110,1560 L1080,1450 L960,1500 Z" fill="#fff" stroke="#231815" stroke-width="18.9" stroke-linejoin="round" stroke-linecap="round"/><path d="M780,1600 L800,1790 L900,1870 M725,1585 L780,1600 L900,1520 M800,1790 L720,1885 M940,1640 L1010,1590 L1025,1610 L955,1660 Z M870,1425 L880,1520" fill="none" stroke="#231815" stroke-width="12.8" stroke-linejoin="round" stroke-linecap="round"/><path d="M820,1600 L835,1780 M1045,1700 L960,1660" fill="none" stroke="#231815" stroke-width="9.8" stroke-linejoin="round" stroke-linecap="round"/><circle cx="590" cy="1700" r="148" fill="#fff" stroke="#231815" stroke-width="15.3"/><circle cx="590" cy="1700" r="118" fill="#fff" stroke="#231815" stroke-width="11.6"/><circle cx="590" cy="1700" r="40" fill="#fff" stroke="#231815" stroke-width="10.4"/><circle cx="590" cy="1700" r="22" fill="#fff" stroke="#231815" stroke-width="9.2"/><path d="M634,1700 Q670,1708 688,1754 M630,1719 Q658,1742 655,1791 M617,1734 Q633,1767 609,1810 M600,1743 Q600,1779 560,1808 M580,1743 Q565,1776 516,1784 M563,1734 Q534,1757 487,1743 M550,1719 Q515,1727 478,1694 M546,1700 Q510,1692 492,1646 M550,1681 Q522,1658 525,1609 M563,1666 Q547,1633 571,1590 M580,1657 Q580,1621 620,1592 M600,1657 Q615,1624 664,1616 M617,1666 Q646,1643 693,1657 M630,1681 Q665,1673 702,1706" fill="none" stroke="#231815" stroke-width="9.2" stroke-linejoin="round" stroke-linecap="round"/></g>
<g transform="translate(159.99,219.99) scale(0.17857) "><path d="M530,1830 L330,2000 L215,2075 C170,2110 170,2190 210,2240 C250,2280 300,2270 330,2245 L420,2160 L640,2040 Z" fill="#fff" stroke="#231815" stroke-width="17.7" stroke-linejoin="round" stroke-linecap="round"/><ellipse cx="250" cy="2170" rx="52" ry="88" transform="rotate(-32 250 2170)" fill="#fff" stroke="#231815" stroke-width="11.6"/><path d="M335,2000 C300,2050 330,2140 380,2170 M365,1980 C335,2030 360,2120 410,2150" fill="none" stroke="#231815" stroke-width="10.4" stroke-linejoin="round" stroke-linecap="round"/><path d="M830,1830 L1190,2000 C1220,2030 1210,2110 1170,2150 C1140,2170 1110,2170 1090,2160 L720,1990 Z" fill="#fff" stroke="#231815" stroke-width="17.7" stroke-linejoin="round" stroke-linecap="round"/><ellipse cx="1150" cy="2080" rx="50" ry="82" transform="rotate(28 1150 2080)" fill="#fff" stroke="#231815" stroke-width="11.6"/><path d="M1060,1950 C1020,1990 1010,2060 1040,2110 M1090,1965 C1050,2005 1040,2075 1070,2125" fill="none" stroke="#231815" stroke-width="10.4" stroke-linejoin="round" stroke-linecap="round"/><path d="M560,1835 C535,1900 560,1990 620,2030 L700,1990 C730,1950 800,1950 840,2010 L880,1990 C900,1930 880,1860 820,1820 Z" fill="#fff" stroke="#231815" stroke-width="17.7" stroke-linejoin="round" stroke-linecap="round"/><path d="M600,1850 C585,1910 600,1970 640,2010 M850,1850 C870,1900 865,1960 845,1995" fill="none" stroke="#231815" stroke-width="10.4" stroke-linejoin="round" stroke-linecap="round"/><ellipse cx="770" cy="1975" rx="48" ry="40" transform="rotate(0 770 1975)" fill="#fff" stroke="#231815" stroke-width="11.6"/><ellipse cx="790" cy="1975" rx="25" ry="30" transform="rotate(0 790 1975)" fill="#fff" stroke="#231815" stroke-width="9.2"/><path d="M470,330 L470,440 L720,420 C700,380 680,350 640,325 Z" fill="#fff" stroke="#231815" stroke-width="16.5" stroke-linejoin="round" stroke-linecap="round"/><path d="M520,340 C560,370 590,400 600,430" fill="none" stroke="#231815" stroke-width="10.4" stroke-linejoin="round" stroke-linecap="round"/><circle cx="550" cy="200" r="138" fill="#fff" stroke="#231815" stroke-width="17.7"/><path d="M170,415 L470,378 L680,370 L880,375 L905,395 C940,450 965,540 965,640 C960,700 935,760 935,800 C940,880 980,960 1000,1000 L1040,1100 L1105,1280 L1085,1310 L1060,1320 C1100,1380 1115,1450 1115,1560 C1110,1620 1095,1660 1080,1680 C1040,1730 980,1775 900,1800 C830,1825 760,1850 700,1850 C600,1850 500,1840 440,1830 C380,1815 280,1770 240,1730 C200,1680 170,1600 160,1540 L145,1420 L150,1395 L95,1385 L88,1370 L135,1100 L150,1055 L210,1030 L225,960 C200,880 180,800 170,760 C155,680 145,560 150,480 Z" fill="#fff" stroke="#231815" stroke-width="18.9" stroke-linejoin="round" stroke-linecap="round"/><path d="M470,325 L470,450 L705,450 C700,400 680,350 640,320 Z" fill="#fff" stroke="#fff" stroke-width="0.1" stroke-linejoin="round" stroke-linecap="round"/><path d="M470,328 L470,448 M640,322 C690,360 705,400 708,470" fill="none" stroke="#231815" stroke-width="16.5" stroke-linejoin="round" stroke-linecap="round"/><path d="M520,336 C570,370 590,400 600,440" fill="none" stroke="#231815" stroke-width="10.4" stroke-linejoin="round" stroke-linecap="round"/><path d="M170,415 L470,432 M705,412 L860,400 M185,445 L470,455" fill="none" stroke="#231815" stroke-width="12.8" stroke-linejoin="round" stroke-linecap="round"/><path d="M370,440 C430,520 455,640 450,760 L440,880 L360,1090 L210,1035" fill="none" stroke="#231815" stroke-width="15.3" stroke-linejoin="round" stroke-linecap="round"/><path d="M395,445 C455,530 480,640 472,760 L462,890 L385,1100 M225,960 L350,1010" fill="none" stroke="#231815" stroke-width="9.8" stroke-linejoin="round" stroke-linecap="round"/><path d="M200,440 C170,560 190,700 230,850" fill="none" stroke="#231815" stroke-width="9.2" stroke-linejoin="round" stroke-linecap="round"/><path d="M475,430 C520,560 545,720 530,870 C470,980 450,1120 480,1240 C520,1340 590,1420 615,1500 L650,1612 L925,1585 L960,1440 L995,1190 C990,1100 930,980 895,880 C880,760 920,640 900,520 L860,400" fill="none" stroke="#231815" stroke-width="17.7" stroke-linejoin="round" stroke-linecap="round"/><path d="M840,420 C880,540 890,660 870,780 C880,900 940,1000 975,1110 L945,1430 L915,1565" fill="none" stroke="#231815" stroke-width="9.8" stroke-linejoin="round" stroke-linecap="round"/><path d="M155,665 C300,650 420,680 480,690 C600,640 800,620 940,650 M440,1440 C600,1420 900,1400 1100,1350 M790,1420 L800,1600 M760,1610 C790,1680 790,1780 765,1840" fill="none" stroke="#231815" stroke-width="9.2" stroke-linejoin="round" stroke-linecap="round"/><path d="M150,1055 C250,1080 400,1200 460,1390 L410,1395 L95,1385" fill="none" stroke="#231815" stroke-width="16.5" stroke-linejoin="round" stroke-linecap="round"/><path d="M135,1100 C240,1120 360,1220 420,1370 M100,1352 L400,1362" fill="none" stroke="#231815" stroke-width="9.8" stroke-linejoin="round" stroke-linecap="round"/><ellipse cx="385" cy="1150" rx="30" ry="20" transform="rotate(15 385 1150)" fill="#fff" stroke="#231815" stroke-width="11.6"/><path d="M410,1400 C440,1520 420,1650 330,1740" fill="none" stroke="#231815" stroke-width="15.3" stroke-linejoin="round" stroke-linecap="round"/><path d="M380,1420 C400,1530 380,1640 300,1720 M250,1400 L250,1500 L300,1520 L300,1620 L270,1650 M160,1400 C150,1500 180,1650 260,1730" fill="none" stroke="#231815" stroke-width="10.4" stroke-linejoin="round" stroke-linecap="round"/><circle cx="225" cy="1545" r="40" fill="#fff" stroke="#231815" stroke-width="11.6"/><ellipse cx="215" cy="1545" rx="22" ry="35" transform="rotate(0 215 1545)" fill="#fff" stroke="#231815" stroke-width="9.2"/><path d="M1060,1320 C1080,1400 1090,1500 1070,1600 M985,990 L1020,1080 M950,900 L990,990" fill="none" stroke="#231815" stroke-width="10.4" stroke-linejoin="round" stroke-linecap="round"/><circle cx="1005" cy="1085" r="15" fill="#fff" stroke="#231815" stroke-width="9.2"/><path d="M700,480 L710,820 M715,1000 L760,1400" fill="none" stroke="#231815" stroke-width="9.2" stroke-linejoin="round" stroke-linecap="round"/><circle cx="710" cy="540" r="35" fill="#fff" stroke="#231815" stroke-width="10.4"/><circle cx="725" cy="1165" r="35" fill="#fff" stroke="#231815" stroke-width="10.4"/><ellipse cx="715" cy="900" rx="88" ry="78" transform="rotate(0 715 900)" fill="#fff" stroke="#231815" stroke-width="15.3"/><ellipse cx="715" cy="900" rx="62" ry="58" transform="rotate(0 715 900)" fill="#fff" stroke="#231815" stroke-width="11.6"/><path d="M660,880 L770,870 M660,930 L770,920 M700,845 L700,955" fill="none" stroke="#231815" stroke-width="9.2" stroke-linejoin="round" stroke-linecap="round"/><path d="M540,520 L620,600 L580,700 L640,800 L600,850 M830,590 L870,680 L810,800 L840,860 M620,1000 L570,1110 L650,1180 M820,1010 L860,1100 L800,1180 M700,1230 L650,1290 L700,1380 L780,1400 L850,1370 L880,1270 L800,1220" fill="none" stroke="#231815" stroke-width="10.4" stroke-linejoin="round" stroke-linecap="round"/></g>
<g transform="translate(1639.69,745.89) scale(0.17857) "><path d="M470,330 L470,440 L720,420 C700,380 680,350 640,325 Z" fill="#fff" stroke="#231815" stroke-width="16.5" stroke-linejoin="round" stroke-linecap="round"/><path d="M520,340 C560,370 590,400 600,430" fill="none" stroke="#231815" stroke-width="10.4" stroke-linejoin="round" stroke-linecap="round"/><circle cx="550" cy="200" r="138" fill="#fff" stroke="#231815" stroke-width="17.7"/><path d="M170,415 L470,378 L680,370 L880,375 L905,395 C940,450 965,540 965,640 C960,700 935,760 935,800 C940,880 980,960 1000,1000 L1040,1100 L1105,1280 L1085,1310 L1060,1320 C1100,1380 1115,1450 1115,1560 C1110,1620 1095,1660 1080,1680 C1040,1730 980,1775 900,1800 C830,1825 760,1850 700,1850 C600,1850 500,1840 440,1830 C380,1815 280,1770 240,1730 C200,1680 170,1600 160,1540 L145,1420 L150,1395 L95,1385 L88,1370 L135,1100 L150,1055 L210,1030 L225,960 C200,880 180,800 170,760 C155,680 145,560 150,480 Z" fill="#fff" stroke="#231815" stroke-width="18.9" stroke-linejoin="round" stroke-linecap="round"/><path d="M470,325 L470,450 L705,450 C700,400 680,350 640,320 Z" fill="#fff" stroke="#fff" stroke-width="0.1" stroke-linejoin="round" stroke-linecap="round"/><path d="M470,328 L470,448 M640,322 C690,360 705,400 708,470" fill="none" stroke="#231815" stroke-width="16.5" stroke-linejoin="round" stroke-linecap="round"/><path d="M520,336 C570,370 590,400 600,440" fill="none" stroke="#231815" stroke-width="10.4" stroke-linejoin="round" stroke-linecap="round"/><path d="M170,415 L470,432 M705,412 L860,400 M185,445 L470,455" fill="none" stroke="#231815" stroke-width="12.8" stroke-linejoin="round" stroke-linecap="round"/><path d="M370,440 C430,520 455,640 450,760 L440,880 L360,1090 L210,1035" fill="none" stroke="#231815" stroke-width="15.3" stroke-linejoin="round" stroke-linecap="round"/><path d="M395,445 C455,530 480,640 472,760 L462,890 L385,1100 M225,960 L350,1010" fill="none" stroke="#231815" stroke-width="9.8" stroke-linejoin="round" stroke-linecap="round"/><path d="M200,440 C170,560 190,700 230,850" fill="none" stroke="#231815" stroke-width="9.2" stroke-linejoin="round" stroke-linecap="round"/><path d="M475,430 C520,560 545,720 530,870 C470,980 450,1120 480,1240 C520,1340 590,1420 615,1500 L650,1612 L925,1585 L960,1440 L995,1190 C990,1100 930,980 895,880 C880,760 920,640 900,520 L860,400" fill="none" stroke="#231815" stroke-width="17.7" stroke-linejoin="round" stroke-linecap="round"/><path d="M840,420 C880,540 890,660 870,780 C880,900 940,1000 975,1110 L945,1430 L915,1565" fill="none" stroke="#231815" stroke-width="9.8" stroke-linejoin="round" stroke-linecap="round"/><path d="M155,665 C300,650 420,680 480,690 C600,640 800,620 940,650 M440,1440 C600,1420 900,1400 1100,1350 M790,1420 L800,1600 M760,1610 C790,1680 790,1780 765,1840" fill="none" stroke="#231815" stroke-width="9.2" stroke-linejoin="round" stroke-linecap="round"/><path d="M150,1055 C250,1080 400,1200 460,1390 L410,1395 L95,1385" fill="none" stroke="#231815" stroke-width="16.5" stroke-linejoin="round" stroke-linecap="round"/><path d="M135,1100 C240,1120 360,1220 420,1370 M100,1352 L400,1362" fill="none" stroke="#231815" stroke-width="9.8" stroke-linejoin="round" stroke-linecap="round"/><ellipse cx="385" cy="1150" rx="30" ry="20" transform="rotate(15 385 1150)" fill="#fff" stroke="#231815" stroke-width="11.6"/><path d="M410,1400 C440,1520 420,1650 330,1740" fill="none" stroke="#231815" stroke-width="15.3" stroke-linejoin="round" stroke-linecap="round"/><path d="M380,1420 C400,1530 380,1640 300,1720 M250,1400 L250,1500 L300,1520 L300,1620 L270,1650 M160,1400 C150,1500 180,1650 260,1730" fill="none" stroke="#231815" stroke-width="10.4" stroke-linejoin="round" stroke-linecap="round"/><circle cx="225" cy="1545" r="40" fill="#fff" stroke="#231815" stroke-width="11.6"/><ellipse cx="215" cy="1545" rx="22" ry="35" transform="rotate(0 215 1545)" fill="#fff" stroke="#231815" stroke-width="9.2"/><path d="M1060,1320 C1080,1400 1090,1500 1070,1600 M985,990 L1020,1080 M950,900 L990,990" fill="none" stroke="#231815" stroke-width="10.4" stroke-linejoin="round" stroke-linecap="round"/><circle cx="1005" cy="1085" r="15" fill="#fff" stroke="#231815" stroke-width="9.2"/><path d="M502,465 L562,445 L852,455 L872,495 L852,575 L792,615 L742,635 L692,635 L652,595 L602,585 L582,535 L552,525 Z" fill="#fff" stroke="#231815" stroke-width="16.5" stroke-linejoin="round" stroke-linecap="round"/><path d="M622,635 L582,695 L622,765 L662,785 L862,765 L872,645 L792,615 L742,635 L692,635 L652,595 Z" fill="#fff" stroke="#231815" stroke-width="15.3" stroke-linejoin="round" stroke-linecap="round"/><path d="M632,1015 L577,1095 L622,1155 L692,1180 L837,1165 L874,1105 L862,1025 Z" fill="#fff" stroke="#231815" stroke-width="15.3" stroke-linejoin="round" stroke-linecap="round"/><path d="M682,1225 L642,1285 L682,1365 L762,1395 L822,1375 L862,1295 L852,1235 L792,1205 Z" fill="#fff" stroke="#231815" stroke-width="16.5" stroke-linejoin="round" stroke-linecap="round"/><ellipse cx="747" cy="895" rx="150" ry="125" transform="rotate(0 747 895)" fill="#fff" stroke="#231815" stroke-width="16.5"/><circle cx="767" cy="895" r="100" fill="#fff" stroke="#231815" stroke-width="15.3"/><circle cx="767" cy="895" r="82" fill="#fff" stroke="#231815" stroke-width="10.4"/><circle cx="767" cy="895" r="62" fill="#fff" stroke="#231815" stroke-width="11.6"/><path d="M722,875 L812,870 M722,915 L812,910 M742,840 L742,950" fill="none" stroke="#231815" stroke-width="9.2" stroke-linejoin="round" stroke-linecap="round"/><path d="M662,465 C682,535 677,595 662,635 M742,457 C762,515 762,575 752,625 M812,457 C827,515 822,565 812,605 M562,515 L622,555 L602,585 M662,785 C682,735 677,685 662,645 M762,785 L767,635 M822,775 L827,635 M682,1175 L652,1035 M762,1175 L767,1025 M822,1170 L827,1030 M712,1385 L702,1235 M782,1390 L787,1210 M652,1295 L712,1325 L702,1365 M597,1095 L652,1125 L642,1155" fill="none" stroke="#231815" stroke-width="9.2" stroke-linejoin="round" stroke-linecap="round"/></g>
<g transform="translate(1615.04,954.10) scale(0.17857) "><path d="M245,130 L330,180 L560,185 L600,225 L720,240 C900,250 1100,230 1240,190 L1230,60 L1250,50 C1400,150 1500,350 1520,480 C1540,650 1500,800 1440,900 L1300,960 L1100,1010 L1000,1000 L900,1040 L830,1060 L720,1010 L650,980 L600,950 L470,1040 L380,1040 C330,1000 320,940 350,890 L440,830 L400,760 L250,640 L120,635 L125,655 L95,625 L90,560 L65,520 L100,260 L130,240 L110,215 L180,200 Z" fill="#fff" stroke="#231815" stroke-width="18.9" stroke-linejoin="round" stroke-linecap="round"/><path d="M245,130 L300,140 L330,180 C400,260 480,400 545,520 L310,505 L250,640" fill="none" stroke="#231815" stroke-width="17.7" stroke-linejoin="round" stroke-linecap="round"/><ellipse cx="140" cy="400" rx="45" ry="92" transform="rotate(8 140 400)" fill="#fff" stroke="#231815" stroke-width="12.8"/><ellipse cx="150" cy="400" rx="27" ry="62" transform="rotate(8 150 400)" fill="#fff" stroke="#231815" stroke-width="9.8"/><path d="M180,200 C240,240 290,330 300,420 L270,500 M130,240 L180,250 C220,300 240,380 240,450 M310,505 L270,500 L230,600 L95,560 M120,635 L250,640" fill="none" stroke="#231815" stroke-width="11.6" stroke-linejoin="round" stroke-linecap="round"/><path d="M330,180 L560,185 L600,225 M500,260 L530,300 L590,330 M590,240 L720,240 C800,250 1000,240 1240,190 M580,320 L740,330 C900,320 1100,300 1250,270" fill="none" stroke="#231815" stroke-width="14.1" stroke-linejoin="round" stroke-linecap="round"/><path d="M350,200 L540,205 M560,185 L540,260 L500,260 M920,245 L930,320" fill="none" stroke="#231815" stroke-width="9.8" stroke-linejoin="round" stroke-linecap="round"/><path d="M600,340 C640,420 700,560 720,700 C740,800 700,900 650,960 M700,420 C760,560 790,760 720,960 M1060,610 C1050,750 1040,900 1010,1000 M650,350 L1040,610 C1150,580 1240,500 1260,380 L1270,290 M1290,420 C1380,560 1450,760 1440,900" fill="none" stroke="#231815" stroke-width="17.7" stroke-linejoin="round" stroke-linecap="round"/><path d="M680,345 L1045,585 C1140,560 1215,490 1235,380 M1310,400 C1400,550 1470,740 1460,880 M725,440 C780,580 800,760 745,950" fill="none" stroke="#231815" stroke-width="9.8" stroke-linejoin="round" stroke-linecap="round"/><path d="M830,400 C880,600 900,800 880,1040 M930,470 C960,650 960,850 930,1000 M1170,590 C1200,750 1180,900 1150,990 M1280,540 C1330,700 1330,850 1300,950 M720,960 C850,990 1000,970 1010,1000 M1010,1000 C1100,960 1300,940 1440,900 M740,900 C900,930 1300,900 1450,850" fill="none" stroke="#231815" stroke-width="9.8" stroke-linejoin="round" stroke-linecap="round"/><path d="M1230,60 L1260,130 L1290,140 L1350,260 L1300,300 L1250,270 M1250,50 C1340,130 1420,260 1450,380" fill="none" stroke="#231815" stroke-width="14.1" stroke-linejoin="round" stroke-linecap="round"/><ellipse cx="740" cy="500" rx="44" ry="38" transform="rotate(0 740 500)" fill="#fff" stroke="#231815" stroke-width="11.6"/><ellipse cx="400" cy="965" rx="58" ry="85" transform="rotate(-35 400 965)" fill="#fff" stroke="#231815" stroke-width="16.5"/><path d="M480,850 C450,900 470,960 520,990 M510,835 C480,885 500,945 550,970" fill="none" stroke="#231815" stroke-width="10.4" stroke-linejoin="round" stroke-linecap="round"/><path d="M780,409 L870,369 C1000,329 1150,329 1230,369 L1210,469 C1100,519 1000,529 960,519 L940,469 L800,449 Z" fill="#fff" stroke="#231815" stroke-width="16.5" stroke-linejoin="round" stroke-linecap="round"/><path d="M1070,339 C1080,399 1075,459 1065,514 M870,369 C950,409 1100,429 1225,399 M1150,339 L1160,489" fill="none" stroke="#231815" stroke-width="9.2" stroke-linejoin="round" stroke-linecap="round"/><path d="M760,449 L870,399 L890,429 L960,479 L830,549 L800,519 Z" fill="#fff" stroke="#231815" stroke-width="14.1" stroke-linejoin="round" stroke-linecap="round"/><path d="M800,479 L880,439 M1010,559 L1030,529 L1140,519 L1150,549" fill="none" stroke="#231815" stroke-width="10.4" stroke-linejoin="round" stroke-linecap="round"/><path d="M510,329 L570,279 L600,269 L860,749 L800,779 L760,679 L520,339 Z" fill="#fff" stroke="#231815" stroke-width="17.7" stroke-linejoin="round" stroke-linecap="round"/><path d="M570,279 L830,759 M620,589 L680,629 L700,599" fill="none" stroke="#231815" stroke-width="10.4" stroke-linejoin="round" stroke-linecap="round"/></g>
<g transform="translate(1129.29,751.79) scale(0.17857) "><path d="M470,330 L470,440 L720,420 C700,380 680,350 640,325 Z" fill="#fff" stroke="#231815" stroke-width="16.5" stroke-linejoin="round" stroke-linecap="round"/><path d="M520,340 C560,370 590,400 600,430" fill="none" stroke="#231815" stroke-width="10.4" stroke-linejoin="round" stroke-linecap="round"/><circle cx="550" cy="200" r="138" fill="#fff" stroke="#231815" stroke-width="17.7"/><path d="M170,415 L470,378 L680,370 L880,375 L905,395 C940,450 965,540 965,640 C960,700 935,760 935,800 C940,880 980,960 1000,1000 L1040,1100 L1105,1280 L1085,1310 L1060,1320 C1100,1380 1115,1450 1115,1560 C1110,1620 1095,1660 1080,1680 C1040,1730 980,1775 900,1800 C830,1825 760,1850 700,1850 C600,1850 500,1840 440,1830 C380,1815 280,1770 240,1730 C200,1680 170,1600 160,1540 L145,1420 L150,1395 L95,1385 L88,1370 L135,1100 L150,1055 L210,1030 L225,960 C200,880 180,800 170,760 C155,680 145,560 150,480 Z" fill="#fff" stroke="#231815" stroke-width="18.9" stroke-linejoin="round" stroke-linecap="round"/><path d="M470,325 L470,450 L705,450 C700,400 680,350 640,320 Z" fill="#fff" stroke="#fff" stroke-width="0.1" stroke-linejoin="round" stroke-linecap="round"/><path d="M470,328 L470,448 M640,322 C690,360 705,400 708,470" fill="none" stroke="#231815" stroke-width="16.5" stroke-linejoin="round" stroke-linecap="round"/><path d="M520,336 C570,370 590,400 600,440" fill="none" stroke="#231815" stroke-width="10.4" stroke-linejoin="round" stroke-linecap="round"/><path d="M170,415 L470,432 M705,412 L860,400 M185,445 L470,455" fill="none" stroke="#231815" stroke-width="12.8" stroke-linejoin="round" stroke-linecap="round"/><path d="M370,440 C430,520 455,640 450,760 L440,880 L360,1090 L210,1035" fill="none" stroke="#231815" stroke-width="15.3" stroke-linejoin="round" stroke-linecap="round"/><path d="M395,445 C455,530 480,640 472,760 L462,890 L385,1100 M225,960 L350,1010" fill="none" stroke="#231815" stroke-width="9.8" stroke-linejoin="round" stroke-linecap="round"/><path d="M200,440 C170,560 190,700 230,850" fill="none" stroke="#231815" stroke-width="9.2" stroke-linejoin="round" stroke-linecap="round"/><path d="M475,430 C520,560 545,720 530,870 C470,980 450,1120 480,1240 C520,1340 590,1420 615,1500 L650,1612 L925,1585 L960,1440 L995,1190 C990,1100 930,980 895,880 C880,760 920,640 900,520 L860,400" fill="none" stroke="#231815" stroke-width="17.7" stroke-linejoin="round" stroke-linecap="round"/><path d="M840,420 C880,540 890,660 870,780 C880,900 940,1000 975,1110 L945,1430 L915,1565" fill="none" stroke="#231815" stroke-width="9.8" stroke-linejoin="round" stroke-linecap="round"/><path d="M155,665 C300,650 420,680 480,690 C600,640 800,620 940,650 M440,1440 C600,1420 900,1400 1100,1350 M790,1420 L800,1600 M760,1610 C790,1680 790,1780 765,1840" fill="none" stroke="#231815" stroke-width="9.2" stroke-linejoin="round" stroke-linecap="round"/><path d="M150,1055 C250,1080 400,1200 460,1390 L410,1395 L95,1385" fill="none" stroke="#231815" stroke-width="16.5" stroke-linejoin="round" stroke-linecap="round"/><path d="M135,1100 C240,1120 360,1220 420,1370 M100,1352 L400,1362" fill="none" stroke="#231815" stroke-width="9.8" stroke-linejoin="round" stroke-linecap="round"/><ellipse cx="385" cy="1150" rx="30" ry="20" transform="rotate(15 385 1150)" fill="#fff" stroke="#231815" stroke-width="11.6"/><path d="M410,1400 C440,1520 420,1650 330,1740" fill="none" stroke="#231815" stroke-width="15.3" stroke-linejoin="round" stroke-linecap="round"/><path d="M380,1420 C400,1530 380,1640 300,1720 M250,1400 L250,1500 L300,1520 L300,1620 L270,1650 M160,1400 C150,1500 180,1650 260,1730" fill="none" stroke="#231815" stroke-width="10.4" stroke-linejoin="round" stroke-linecap="round"/><circle cx="225" cy="1545" r="40" fill="#fff" stroke="#231815" stroke-width="11.6"/><ellipse cx="215" cy="1545" rx="22" ry="35" transform="rotate(0 215 1545)" fill="#fff" stroke="#231815" stroke-width="9.2"/><path d="M1060,1320 C1080,1400 1090,1500 1070,1600 M985,990 L1020,1080 M950,900 L990,990" fill="none" stroke="#231815" stroke-width="10.4" stroke-linejoin="round" stroke-linecap="round"/><circle cx="1005" cy="1085" r="15" fill="#fff" stroke="#231815" stroke-width="9.2"/><path d="M502,465 L562,445 L852,455 L872,495 L852,575 L792,615 L742,635 L692,635 L652,595 L602,585 L582,535 L552,525 Z" fill="#fff" stroke="#231815" stroke-width="16.5" stroke-linejoin="round" stroke-linecap="round"/><path d="M622,635 L582,695 L622,765 L662,785 L862,765 L872,645 L792,615 L742,635 L692,635 L652,595 Z" fill="#fff" stroke="#231815" stroke-width="15.3" stroke-linejoin="round" stroke-linecap="round"/><path d="M632,1015 L577,1095 L622,1155 L692,1180 L837,1165 L874,1105 L862,1025 Z" fill="#fff" stroke="#231815" stroke-width="15.3" stroke-linejoin="round" stroke-linecap="round"/><path d="M682,1225 L642,1285 L682,1365 L762,1395 L822,1375 L862,1295 L852,1235 L792,1205 Z" fill="#fff" stroke="#231815" stroke-width="16.5" stroke-linejoin="round" stroke-linecap="round"/><ellipse cx="747" cy="895" rx="150" ry="125" transform="rotate(0 747 895)" fill="#fff" stroke="#231815" stroke-width="16.5"/><circle cx="767" cy="895" r="100" fill="#fff" stroke="#231815" stroke-width="15.3"/><circle cx="767" cy="895" r="82" fill="#fff" stroke="#231815" stroke-width="10.4"/><circle cx="767" cy="895" r="62" fill="#fff" stroke="#231815" stroke-width="11.6"/><path d="M722,875 L812,870 M722,915 L812,910 M742,840 L742,950" fill="none" stroke="#231815" stroke-width="9.2" stroke-linejoin="round" stroke-linecap="round"/><path d="M662,465 C682,535 677,595 662,635 M742,457 C762,515 762,575 752,625 M812,457 C827,515 822,565 812,605 M562,515 L622,555 L602,585 M662,785 C682,735 677,685 662,645 M762,785 L767,635 M822,775 L827,635 M682,1175 L652,1035 M762,1175 L767,1025 M822,1170 L827,1030 M712,1385 L702,1235 M782,1390 L787,1210 M652,1295 L712,1325 L702,1365 M597,1095 L652,1125 L642,1155" fill="none" stroke="#231815" stroke-width="9.2" stroke-linejoin="round" stroke-linecap="round"/></g>
<g transform="translate(1104.64,960.00) scale(0.17857) "><path d="M245,130 L330,180 L560,185 L600,225 L720,240 C900,250 1100,230 1240,190 L1230,60 L1250,50 C1400,150 1500,350 1520,480 C1540,650 1500,800 1440,900 L1300,960 L1100,1010 L1000,1000 L900,1040 L830,1060 L720,1010 L650,980 L600,950 L470,1040 L380,1040 C330,1000 320,940 350,890 L440,830 L400,760 L250,640 L120,635 L125,655 L95,625 L90,560 L65,520 L100,260 L130,240 L110,215 L180,200 Z" fill="#fff" stroke="#231815" stroke-width="18.9" stroke-linejoin="round" stroke-linecap="round"/><path d="M245,130 L300,140 L330,180 C400,260 480,400 545,520 L310,505 L250,640" fill="none" stroke="#231815" stroke-width="17.7" stroke-linejoin="round" stroke-linecap="round"/><ellipse cx="140" cy="400" rx="45" ry="92" transform="rotate(8 140 400)" fill="#fff" stroke="#231815" stroke-width="12.8"/><ellipse cx="150" cy="400" rx="27" ry="62" transform="rotate(8 150 400)" fill="#fff" stroke="#231815" stroke-width="9.8"/><path d="M180,200 C240,240 290,330 300,420 L270,500 M130,240 L180,250 C220,300 240,380 240,450 M310,505 L270,500 L230,600 L95,560 M120,635 L250,640" fill="none" stroke="#231815" stroke-width="11.6" stroke-linejoin="round" stroke-linecap="round"/><path d="M330,180 L560,185 L600,225 M500,260 L530,300 L590,330 M590,240 L720,240 C800,250 1000,240 1240,190 M580,320 L740,330 C900,320 1100,300 1250,270" fill="none" stroke="#231815" stroke-width="14.1" stroke-linejoin="round" stroke-linecap="round"/><path d="M350,200 L540,205 M560,185 L540,260 L500,260 M920,245 L930,320" fill="none" stroke="#231815" stroke-width="9.8" stroke-linejoin="round" stroke-linecap="round"/><path d="M600,340 C640,420 700,560 720,700 C740,800 700,900 650,960 M700,420 C760,560 790,760 720,960 M1060,610 C1050,750 1040,900 1010,1000 M650,350 L1040,610 C1150,580 1240,500 1260,380 L1270,290 M1290,420 C1380,560 1450,760 1440,900" fill="none" stroke="#231815" stroke-width="17.7" stroke-linejoin="round" stroke-linecap="round"/><path d="M680,345 L1045,585 C1140,560 1215,490 1235,380 M1310,400 C1400,550 1470,740 1460,880 M725,440 C780,580 800,760 745,950" fill="none" stroke="#231815" stroke-width="9.8" stroke-linejoin="round" stroke-linecap="round"/><path d="M830,400 C880,600 900,800 880,1040 M930,470 C960,650 960,850 930,1000 M1170,590 C1200,750 1180,900 1150,990 M1280,540 C1330,700 1330,850 1300,950 M720,960 C850,990 1000,970 1010,1000 M1010,1000 C1100,960 1300,940 1440,900 M740,900 C900,930 1300,900 1450,850" fill="none" stroke="#231815" stroke-width="9.8" stroke-linejoin="round" stroke-linecap="round"/><path d="M1230,60 L1260,130 L1290,140 L1350,260 L1300,300 L1250,270 M1250,50 C1340,130 1420,260 1450,380" fill="none" stroke="#231815" stroke-width="14.1" stroke-linejoin="round" stroke-linecap="round"/><ellipse cx="740" cy="500" rx="44" ry="38" transform="rotate(0 740 500)" fill="#fff" stroke="#231815" stroke-width="11.6"/><ellipse cx="400" cy="965" rx="58" ry="85" transform="rotate(-35 400 965)" fill="#fff" stroke="#231815" stroke-width="16.5"/><path d="M480,850 C450,900 470,960 520,990 M510,835 C480,885 500,945 550,970" fill="none" stroke="#231815" stroke-width="10.4" stroke-linejoin="round" stroke-linecap="round"/><path d="M930,360 L1020,355 L1080,420 L1070,520 L1020,500 L960,450 Z" fill="#fff" stroke="#231815" stroke-width="12.8" stroke-linejoin="round" stroke-linecap="round"/><path d="M1020,500 L1030,560 M1070,520 L1075,570" fill="none" stroke="#231815" stroke-width="9.8" stroke-linejoin="round" stroke-linecap="round"/></g><g transform="translate(400.00,280.00) scale(0.09147) "><path d="M225,300 L350,195 L900,160 L1030,240 L990,470 L900,510 L1010,660 L960,800 L900,880 C990,960 1030,1080 1000,1220 C990,1290 960,1340 920,1370 L1000,1470 L960,1600 L890,1680 L1020,1810 L990,1970 L930,2030 L890,2170 L760,2175 L620,2070 L520,1870 L600,1730 L470,1640 L380,1530 L470,1340 C410,1260 400,1120 450,1020 C470,970 500,940 520,920 L460,890 L380,740 L500,560 L430,520 Z" fill="#fff" stroke="#231815" stroke-width="39.2" stroke-linejoin="round" stroke-linecap="round"/><ellipse cx="770" cy="1100" rx="235" ry="262" transform="rotate(0 770 1100)" fill="#fff" stroke="#231815" stroke-width="22.7"/><ellipse cx="790" cy="1100" rx="178" ry="205" transform="rotate(0 790 1100)" fill="#fff" stroke="#231815" stroke-width="32.2"/><ellipse cx="795" cy="1100" rx="145" ry="172" transform="rotate(0 795 1100)" fill="#fff" stroke="#231815" stroke-width="19.2"/><path d="M740,1290 C830,1230 850,1100 790,950" fill="none" stroke="#231815" stroke-width="19.2" stroke-linejoin="round" stroke-linecap="round"/><path d="M430,520 L480,500 C620,560 760,640 900,510 M470,1340 C600,1400 800,1440 920,1370 M600,1730 L660,1700 C740,1760 830,1800 890,1680" fill="none" stroke="#231815" stroke-width="32.2" stroke-linejoin="round" stroke-linecap="round"/><path d="M530,220 C590,500 600,800 600,880 M720,200 C780,450 780,700 770,860 M850,180 C900,400 890,700 880,860 M550,1370 L660,1700 M810,1390 C830,1600 830,1900 850,2160 M900,1380 L890,1680 M690,1790 L740,2120 M520,560 C640,620 780,690 900,560" fill="none" stroke="#231815" stroke-width="19.2" stroke-linejoin="round" stroke-linecap="round"/><path d="M260,310 L360,240 L500,440 L450,470 M400,730 L480,610 M430,750 L540,800 L530,860 M400,1520 L500,1370 M420,1550 L560,1610 M560,1860 L640,1740 M600,1900 L700,2050 M940,420 L960,300 M930,800 L960,700 M930,1600 L950,1500 M940,1980 L960,1850" fill="none" stroke="#231815" stroke-width="20.4" stroke-linejoin="round" stroke-linecap="round"/></g>
<g transform="translate(630.00,470.00) scale(0.17241) "><path d="M60,350 L100,160 L230,140 L270,90 L390,72 L410,95 L410,165 L385,180 L385,250 L420,255 L420,335 L340,380 L335,420 C450,520 700,580 950,520 L1090,460 L1110,200 C1130,140 1180,120 1230,130 C1290,140 1330,170 1345,220 L1400,215 L1470,250 L1480,270 C1440,300 1440,400 1490,430 L1530,430 L1510,460 L1440,460 L1480,570 C1400,620 1300,630 1200,605 C1100,590 1040,610 990,650 C920,720 900,800 925,880 L905,890 L925,900 L900,920 L830,955 C760,950 700,940 650,880 C560,760 480,650 380,590 C320,550 240,540 120,545 L150,385 L75,375 Z" fill="#fff" stroke="#231815" stroke-width="19.6" stroke-linejoin="round" stroke-linecap="round"/><path d="M335,420 L395,500 L405,590 M950,520 L1000,640 M320,100 C300,200 310,320 320,420" fill="none" stroke="#231815" stroke-width="17.1" stroke-linejoin="round" stroke-linecap="round"/><path d="M395,500 C500,560 800,600 955,540 M840,950 C850,850 880,760 960,680 M230,140 L180,300 L150,385 M1345,220 C1320,300 1330,400 1410,450" fill="none" stroke="#231815" stroke-width="13.3" stroke-linejoin="round" stroke-linecap="round"/><path d="M530,560 L540,690 M670,580 C700,700 720,820 760,930 M820,575 L860,700 M520,690 C650,670 800,690 900,720 M405,590 L520,690 M1000,640 C950,660 900,700 870,710 M180,300 L240,290 L240,340 L175,340 M240,270 L320,250 M350,90 C330,200 335,300 345,400 M1110,300 L1200,330 L1330,270 M1180,350 L1310,340 L1330,400 L1180,400 Z M1210,360 L1300,390 M1090,460 L1330,380 M1000,590 L1440,430 M1090,460 L1095,590 M1400,240 C1380,320 1400,400 1450,440 M150,385 C250,420 330,500 395,560" fill="none" stroke="#231815" stroke-width="9.5" stroke-linejoin="round" stroke-linecap="round"/></g>
<g transform="translate(1070.00,275.00) scale(0.16935) "><path d="M55,180 L200,150 L230,105 L380,75 L440,100 L500,155 L900,215 L1140,200 L1150,150 C1200,120 1290,140 1310,230 L1440,250 L1500,290 C1540,360 1550,500 1540,600 C1520,720 1400,840 1250,900 C1150,940 1000,940 900,920 L880,950 L800,965 L730,890 L250,540 L160,500 L110,520 L90,420 L40,395 L75,290 Z" fill="#fff" stroke="#231815" stroke-width="19.9" stroke-linejoin="round" stroke-linecap="round"/><path d="M200,150 L250,200 L380,180 L380,100 M380,180 L400,170 L400,260 L365,265 L365,350 L290,350 L290,290 M250,200 L250,400 L110,420 M365,265 L500,220 L500,155" fill="none" stroke="#231815" stroke-width="13.5" stroke-linejoin="round" stroke-linecap="round"/><path d="M500,220 C700,250 850,290 900,280 L1180,270 M160,450 C300,420 500,600 740,780 M250,540 L730,890" fill="none" stroke="#231815" stroke-width="16.1" stroke-linejoin="round" stroke-linecap="round"/><path d="M470,310 C470,430 560,480 640,440 C700,400 700,300 640,240 M840,300 C830,380 860,430 900,420 M730,250 C790,400 780,600 740,750 M970,440 C980,560 970,680 950,760 M1210,500 C1240,600 1240,700 1240,780 M1350,480 C1360,560 1360,650 1350,720 M610,470 C630,560 630,620 620,660 M900,215 L900,280 M1100,810 L1160,890" fill="none" stroke="#231815" stroke-width="9.7" stroke-linejoin="round" stroke-linecap="round"/><path d="M760,800 L900,720 C960,700 1020,740 1040,790 L900,910" fill="none" stroke="#231815" stroke-width="14.8" stroke-linejoin="round" stroke-linecap="round"/><ellipse cx="810" cy="880" rx="75" ry="82" transform="rotate(0 810 880)" fill="#fff" stroke="#231815" stroke-width="16.1"/><ellipse cx="815" cy="880" rx="40" ry="45" transform="rotate(0 815 880)" fill="#fff" stroke="#231815" stroke-width="11.0"/><path d="M1440,600 C1400,650 1200,780 1040,800 M1500,590 C1480,700 1300,850 900,910" fill="none" stroke="#231815" stroke-width="13.5" stroke-linejoin="round" stroke-linecap="round"/><path d="M1150,200 L1190,215 L1190,300 M1240,225 L1240,330 M1310,300 L1430,290 L1450,420 L1290,440 L1280,400 M1280,320 C1300,340 1300,400 1290,430 M1290,460 L1500,470 M1400,480 L1430,590" fill="none" stroke="#231815" stroke-width="12.3" stroke-linejoin="round" stroke-linecap="round"/></g>
<g transform="translate(1390.00,460.00) scale(0.10468) "><path d="M90,985 L90,840 L190,350 L380,125 L465,120 L660,365 L600,400 L600,450 L700,480 L775,635 L470,655 L440,690 L760,690 L780,720 L780,880 L720,920 L620,920 L540,910 L735,1110 L780,1190 L815,1345 L750,1350 L400,1020 L340,985 Z" fill="#fff" stroke="#231815" stroke-width="34.3" stroke-linejoin="round" stroke-linecap="round"/><path d="M190,350 L230,800 L400,1020" fill="none" stroke="#231815" stroke-width="26.0" stroke-linejoin="round" stroke-linecap="round"/><path d="M380,125 L290,330 L300,780 L370,860 M465,120 L400,180 L385,300 L420,450 L560,430 L600,450 M420,450 L400,600 L440,690 M500,490 L640,470 L660,580 L520,600 Z M230,800 L420,840 M250,840 L735,1110 M470,655 L700,480 M620,740 L780,720 M620,740 L620,920 M560,760 L560,850 M690,1180 L750,1130" fill="none" stroke="#231815" stroke-width="17.8" stroke-linejoin="round" stroke-linecap="round"/><circle cx="500" cy="820" r="50" fill="#fff" stroke="#231815" stroke-width="21.9"/></g>
<g transform="translate(1835.00,495.00) scale(0.10468) "><path d="M225,640 L290,595 L595,605 L720,305 L920,235 L935,155 L1000,110 L1100,85 C1250,200 1400,350 1460,500 C1500,620 1490,760 1460,850 C1350,960 1000,1000 750,945 L660,1025 L580,1010 L370,1250 L345,1240 L340,1080 L355,1020 L480,830 L310,835 L225,820 Z" fill="#fff" stroke="#231815" stroke-width="34.3" stroke-linejoin="round" stroke-linecap="round"/><path d="M1190,310 L1330,330 L1440,560 L1440,790 L1180,850 L1100,720 L1110,480 Z" fill="none" stroke="#231815" stroke-width="26.0" stroke-linejoin="round" stroke-linecap="round"/><ellipse cx="1300" cy="580" rx="120" ry="210" transform="rotate(-12 1300 580)" fill="#fff" stroke="#231815" stroke-width="24.0"/><ellipse cx="1300" cy="590" rx="85" ry="170" transform="rotate(-12 1300 590)" fill="#fff" stroke="#231815" stroke-width="17.8"/><path d="M1200,470 L1270,465 M1190,570 L1310,570" fill="none" stroke="#231815" stroke-width="15.7" stroke-linejoin="round" stroke-linecap="round"/><path d="M920,235 L1000,290 L1090,250 M1000,290 L900,760 L750,770 L760,580 L900,300 M720,305 L750,340 L920,270 M1000,290 C1100,270 1200,270 1250,280 M750,770 L590,790 L355,1020 M900,760 L660,1025 M750,770 L860,800 L750,945 M590,790 L595,605 M1460,850 C1300,800 1250,810 1180,850" fill="none" stroke="#231815" stroke-width="18.8" stroke-linejoin="round" stroke-linecap="round"/><path d="M245,650 L245,800 L350,800 L350,640 M300,620 L330,640" fill="none" stroke="#231815" stroke-width="19.9" stroke-linejoin="round" stroke-linecap="round"/><circle cx="430" cy="735" r="60" fill="#fff" stroke="#231815" stroke-width="21.9"/><circle cx="460" cy="720" r="48" fill="#fff" stroke="#231815" stroke-width="17.8"/></g>
<g transform="translate(1870.00,140.00) scale(0.11084) "><path d="M940,230 L1010,165 L1030,175 C1100,280 1180,380 1200,420 C1260,560 1290,700 1290,850 C1280,1000 1250,1080 1180,1160 C1120,1230 1050,1260 1020,1280 C980,1340 930,1380 820,1475 L720,1480 L720,1520 L650,1520 L650,1440 L570,1440 L570,1480 L470,1480 L470,1300 L490,1290 L490,1245 L650,1240 L660,1225 L820,1215 L820,1170 L880,1130 L900,1100 L900,665 L940,650 Z" fill="#b5b5b6" stroke="#231815" stroke-width="32.4" stroke-linejoin="round" stroke-linecap="round"/><path d="M1020,180 C1030,400 1010,700 990,1000 M1180,480 C1130,700 1120,900 1100,1140 M1140,1130 C1200,1000 1220,850 1200,720 C1230,680 1260,660 1280,660 M1230,760 C1200,820 1200,920 1230,980 M950,1010 C990,1040 1040,1040 1060,950 L1080,1000 M980,1080 C1000,1200 950,1300 900,1380 M850,1230 L920,1300 M560,1350 L780,1350 L800,1400 M700,1400 L700,1480 M940,650 C950,800 940,950 950,1010" fill="none" stroke="#231815" stroke-width="14.9" stroke-linejoin="round" stroke-linecap="round"/></g>
<g transform="translate(240.00,1030.00) scale(0.12932) "><path d="M125,210 L180,185 L300,340 L380,345 L400,260 L480,190 L510,340 L590,365 C650,320 800,310 900,380 L1030,270 L1090,270 L1110,395 L1260,410 L1440,285 L1455,300 L1310,560 L1290,620 L1180,790 L1130,770 L960,920 L900,900 L860,840 C780,900 640,900 570,850 L555,900 L500,895 L440,820 L350,690 L250,560 Z" fill="#fff" stroke="#231815" stroke-width="26.1" stroke-linejoin="round" stroke-linecap="round"/><ellipse cx="700" cy="610" rx="175" ry="235" transform="rotate(0 700 610)" fill="#fff" stroke="#231815" stroke-width="19.4"/><ellipse cx="700" cy="615" rx="140" ry="195" transform="rotate(0 700 615)" fill="#fff" stroke="#231815" stroke-width="14.4"/><ellipse cx="710" cy="620" rx="105" ry="150" transform="rotate(0 710 620)" fill="#fff" stroke="#231815" stroke-width="12.7"/><circle cx="790" cy="575" r="52" fill="#fff" stroke="#231815" stroke-width="17.7"/><path d="M180,185 L230,330 L370,460 M230,330 L340,350 M400,260 L370,520 L420,700 M480,190 L400,400 M440,360 L520,480 M350,690 L420,700 L520,840" fill="none" stroke="#231815" stroke-width="15.2" stroke-linejoin="round" stroke-linecap="round"/><path d="M215,420 L290,520 M1180,580 L1280,490" fill="none" stroke="#777" stroke-width="24.4" stroke-linejoin="round" stroke-linecap="round"/><path d="M830,520 L960,390 L1030,270 M960,390 L1000,560 L1080,520 L1060,280 M1000,560 L990,700 L900,860 M1080,520 C1090,650 1040,750 960,850 M1110,395 L1110,480 L1260,410 M1130,740 L1310,560 M1200,500 L1440,300 M860,840 L830,520" fill="none" stroke="#231815" stroke-width="15.2" stroke-linejoin="round" stroke-linecap="round"/><path d="M830,520 L960,390 L1000,560 L990,700 L900,860 L860,840 Z" fill="#fff" stroke="#231815" stroke-width="15.2" stroke-linejoin="round" stroke-linecap="round"/></g>
<g transform="translate(0.00,0.00) scale(1.00000) "><path d="M190.0,1148.5 L186.8,1154.1 L186.8,1160.5 L181.2,1163.7 L178.0,1169.3 L171.6,1169.3 L166.0,1172.5 L160.4,1169.3 L154.0,1169.3 L150.8,1163.7 L145.2,1160.5 L145.2,1154.1 L142.0,1148.5 L145.2,1142.9 L145.2,1136.5 L150.8,1133.3 L154.0,1127.7 L160.4,1127.7 L166.0,1124.5 L171.6,1127.7 L178.0,1127.7 L181.2,1133.3 L186.8,1136.5 L186.8,1142.9 Z" fill="#fff" stroke="#231815" stroke-width="2.9" stroke-linejoin="round" stroke-linecap="round"/><circle cx="166" cy="1148.5" r="16.5" fill="#fff" stroke="#231815" stroke-width="1.6"/><circle cx="166" cy="1148.5" r="5.5" fill="#fff" stroke="#231815" stroke-width="1.6"/><path d="M173.0,1148.5 Q178.6,1151.7 181.3,1161.4 M172.1,1152.0 Q175.3,1157.6 172.8,1167.3 M169.5,1154.6 Q169.5,1161.0 162.5,1168.2 M166.0,1155.5 Q162.8,1161.1 153.1,1163.8 M162.5,1154.6 Q156.9,1157.8 147.2,1155.3 M159.9,1152.0 Q153.5,1152.0 146.3,1145.0 M159.0,1148.5 Q153.4,1145.3 150.7,1135.6 M159.9,1145.0 Q156.7,1139.4 159.2,1129.7 M162.5,1142.4 Q162.5,1136.0 169.5,1128.8 M166.0,1141.5 Q169.2,1135.9 178.9,1133.2 M169.5,1142.4 Q175.1,1139.2 184.8,1141.7 M172.1,1145.0 Q178.5,1145.0 185.7,1152.0" fill="none" stroke="#231815" stroke-width="1.6" stroke-linejoin="round" stroke-linecap="round"/></g>
<g transform="translate(255.00,730.00) scale(0.06775) "><path d="M400,420 L630,420 L650,520 L880,520 Q900,520 900,545 L900,930 L700,950 L690,1080 L640,1260 L400,1260 L405,1100 L395,700 L400,580 Z" fill="#c9caca" stroke="#231815" stroke-width="53.0" stroke-linejoin="round" stroke-linecap="round"/><path d="M640,520 L660,950 M440,500 L620,490 M440,570 L640,600 M440,1020 L640,990 M470,1090 L620,1100 M440,1170 L600,1160 M460,600 L460,1000" fill="none" stroke="#231815" stroke-width="22.7" stroke-linejoin="round" stroke-linecap="round"/></g>
<g transform="translate(740.00,750.00) scale(0.17241) "><path d="M340,250 L440,185 L545,145 L560,110 L720,62 L730,90 L890,90 L900,62 L1060,110 L1075,145 L1180,185 L1285,250 L1280,305 L1200,325 L1190,335 L980,330 L950,310 L950,245 L670,245 L670,310 L640,330 L430,335 L420,320 L345,305 Z" fill="#c9caca" stroke="#231815" stroke-width="18.3" stroke-linejoin="round" stroke-linecap="round"/><path d="M560,110 L555,190 L590,245 L620,200 L690,150 L700,90 M440,185 L460,240 L420,320 M460,240 L555,190 M620,200 L625,330 M1065,110 L1070,190 L1035,245 L1005,200 L935,150 L925,90 M1185,185 L1165,240 L1205,320 M1165,240 L1070,190 M1005,200 L1000,330" fill="none" stroke="#231815" stroke-width="10.2" stroke-linejoin="round" stroke-linecap="round"/><path d="M400,660 L460,655 L470,640 L540,640 L550,670 L570,670 L570,650 L620,650 L630,710 C700,690 920,690 1000,710 L1005,650 L1050,650 L1060,670 L1080,670 L1085,640 L1160,640 L1165,655 L1220,660 L1320,720 C1440,800 1530,950 1540,1080 C1540,1200 1500,1330 1440,1430 L1380,1500 L1280,1560 L1200,1580 L1095,1590 L1090,1560 L1000,1570 L900,1590 L720,1590 L620,1570 L545,1560 L540,1590 L440,1580 L340,1540 L260,1500 L180,1400 C100,1280 70,1150 85,1050 C100,920 200,780 310,720 Z" fill="#fff" stroke="#231815" stroke-width="19.6" stroke-linejoin="round" stroke-linecap="round"/><path d="M400,660 L310,720 C200,780 100,920 85,1050 C70,1150 100,1280 180,1400 L260,1500 L340,1540 L300,1340 L310,1000 L330,900 L420,760 Z" fill="#9fa0a0" stroke="#231815" stroke-width="17.1" stroke-linejoin="round" stroke-linecap="round"/><path d="M1225,660 L1315,720 C1425,780 1525,920 1540,1050 C1555,1150 1525,1280 1445,1400 L1365,1500 L1285,1540 L1325,1340 L1315,1000 L1295,900 L1205,760 Z" fill="#9fa0a0" stroke="#231815" stroke-width="17.1" stroke-linejoin="round" stroke-linecap="round"/><path d="M410,670 L460,655 L470,640 L540,640 L550,670 L570,670 L570,650 L620,650 L625,750 L400,760 Z" fill="#9fa0a0" stroke="#231815" stroke-width="17.1" stroke-linejoin="round" stroke-linecap="round"/><path d="M1215,670 L1165,655 L1155,640 L1085,640 L1075,670 L1055,670 L1055,650 L1005,650 L1000,750 L1225,760 Z" fill="#9fa0a0" stroke="#231815" stroke-width="17.1" stroke-linejoin="round" stroke-linecap="round"/><path d="M260,800 C220,900 200,1000 200,1100 M330,900 L250,940 L220,1000 M300,1340 L360,1320 L420,1300 M340,1540 L360,1400 M260,1500 L300,1340 M1365,800 C1405,900 1425,1000 1425,1100 M1295,900 L1375,940 L1405,1000 M1325,1340 L1265,1320 L1205,1300 M1285,1540 L1265,1400 M1365,1500 L1325,1340" fill="none" stroke="#231815" stroke-width="10.2" stroke-linejoin="round" stroke-linecap="round"/><ellipse cx="150" cy="1050" rx="58" ry="150" transform="rotate(0 150 1050)" fill="none" stroke="#231815" stroke-width="12.1"/><ellipse cx="165" cy="1050" rx="32" ry="105" transform="rotate(0 165 1050)" fill="none" stroke="#231815" stroke-width="10.2"/><ellipse cx="1475" cy="1050" rx="58" ry="150" transform="rotate(0 1475 1050)" fill="none" stroke="#231815" stroke-width="12.1"/><ellipse cx="1460" cy="1050" rx="32" ry="105" transform="rotate(0 1460 1050)" fill="none" stroke="#231815" stroke-width="10.2"/><path d="M420,830 L420,1360 M1205,830 L1205,1360 M420,830 C600,770 700,760 812,760 C930,760 1030,770 1205,830" fill="none" stroke="#231815" stroke-width="15.8" stroke-linejoin="round" stroke-linecap="round"/><path d="M400,760 C600,720 1030,720 1225,760 M430,870 C550,830 600,830 620,840 M1195,870 C1075,830 1025,830 1005,840 M310,1050 L420,1050 M1205,1050 L1315,1050" fill="none" stroke="#231815" stroke-width="10.2" stroke-linejoin="round" stroke-linecap="round"/><path d="M440,860 C560,830 640,840 680,900 C740,1000 740,1250 640,1400 L600,1400 L600,1380 C520,1380 460,1370 440,1350 Z" fill="#fff" stroke="#231815" stroke-width="18.3" stroke-linejoin="round" stroke-linecap="round"/><path d="M1185,860 C1065,830 985,840 945,900 C885,1000 885,1250 985,1400 L1025,1400 L1025,1380 C1105,1380 1165,1370 1185,1350 Z" fill="#fff" stroke="#231815" stroke-width="18.3" stroke-linejoin="round" stroke-linecap="round"/><path d="M735,1110 L735,1400 M890,1110 L890,1400 M735,1110 L890,1110 M770,1110 L775,950 C790,900 840,900 855,950 L860,1110 M812,700 L812,920 M690,900 C740,950 760,1050 735,1110 M935,900 C885,950 865,1050 890,1110" fill="none" stroke="#231815" stroke-width="10.8" stroke-linejoin="round" stroke-linecap="round"/><path d="M430,1360 C600,1440 1030,1440 1200,1360" fill="none" stroke="#231815" stroke-width="17.1" stroke-linejoin="round" stroke-linecap="round"/><path d="M440,1400 L480,1560 L560,1500 L620,1470 L660,1560 M700,1450 L740,1590 M420,1300 L440,1400 M360,1400 L440,1400 M1185,1400 L1145,1560 L1065,1500 L1005,1470 L965,1560 M925,1450 L885,1590 M1205,1300 L1185,1400 M1265,1400 L1185,1400" fill="none" stroke="#231815" stroke-width="10.8" stroke-linejoin="round" stroke-linecap="round"/><path d="M620,1470 C700,1440 930,1440 1005,1470 M660,1560 L750,1590 L880,1590 L965,1560 M760,1480 C770,1540 860,1540 870,1480 M812,1400 L812,1450 M812,1540 L812,1590" fill="none" stroke="#231815" stroke-width="10.8" stroke-linejoin="round" stroke-linecap="round"/><path d="M470,1430 L530,1520 M1155,1430 L1095,1520" fill="none" stroke="#888" stroke-width="19.6" stroke-linejoin="round" stroke-linecap="round"/></g>
<g transform="translate(1385.00,1005.00) scale(0.06775) "><path d="M180,320 C250,260 450,210 560,210 L750,225 L960,205 C1020,160 1100,160 1180,190 C1300,220 1380,280 1370,350 L1260,560 L1210,720 C1180,800 1100,830 1040,820 L1000,780 L800,785 L760,860 C700,880 640,850 580,780 L500,660 L260,510 Z" fill="#fff" stroke="#231815" stroke-width="53.0" stroke-linejoin="round" stroke-linecap="round"/><path d="M200,330 C300,300 450,250 880,235 M340,330 L420,400 L660,580 C800,620 1100,600 1250,530 M890,240 C980,400 1000,600 950,780 M250,440 L340,330 M300,490 L430,440 M530,640 L660,580 L670,820 M340,330 L560,240 M1050,200 L1300,250" fill="none" stroke="#231815" stroke-width="25.9" stroke-linejoin="round" stroke-linecap="round"/></g>
<g transform="translate(1965.00,975.00) scale(0.05543) "><path d="M500,240 L700,245 L860,370 L960,365 C1150,650 1300,900 1340,1050 L1335,1100 L1300,1120 L1280,1400 L1230,1440 C1200,1650 1150,1780 1100,1880 L830,1900 L700,1460 L690,1380 L530,1330 L510,1290 L260,1290 L250,1180 L330,1020 L290,860 L285,800 L470,800 L680,850 L690,770 L720,680 L640,560 Z" fill="#fff" stroke="#231815" stroke-width="64.8" stroke-linejoin="round" stroke-linecap="round"/><path d="M700,245 L880,660 L820,760 L740,770 M880,660 L720,680 M900,420 C1150,800 1280,1200 1100,1880 M820,780 C880,1000 880,1300 830,1450 L940,1880 M740,1450 L830,1450 M740,770 L745,1450" fill="none" stroke="#231815" stroke-width="29.7" stroke-linejoin="round" stroke-linecap="round"/><path d="M420,840 L440,950 L780,1040 M330,1020 L800,1110 M350,1180 L790,1270 M300,1250 L350,1180" fill="none" stroke="#231815" stroke-width="45.3" stroke-linejoin="round" stroke-linecap="round"/></g>
<g transform="translate(155.00,1235.00) scale(0.16625) "><path d="M665,650 L560,790 L520,800 L440,860 C380,900 340,1000 320,1100 L310,1180 L240,1250 L220,1290 L130,1400 L65,1470 L75,1560 L65,1700 L100,1760 L65,1800 C80,1900 200,1980 330,1990 C450,2000 560,1960 640,1920 C700,1960 800,1990 900,1980 C980,1975 1050,1940 1090,1900 L1160,2030 L1230,2060 L1260,1970 L1290,1830 L1370,1770 L1385,1660 L1370,1560 L1450,1500 L1500,1300 L1510,1150 L1490,1050 L1430,1010 L1380,960 L1300,900 L1240,880 L1190,780 L1130,690 L1060,690 L1030,720 Z" fill="#fff" stroke="#231815" stroke-width="20.3" stroke-linejoin="round" stroke-linecap="round"/><path d="M665,700 L680,480 C710,380 770,350 830,350 C930,350 990,430 1005,530 L1035,720 C950,860 760,880 660,800 Z" fill="#fff" stroke="#231815" stroke-width="19.0" stroke-linejoin="round" stroke-linecap="round"/><path d="M820,355 C790,500 780,700 785,850" fill="none" stroke="#231815" stroke-width="9.9" stroke-linejoin="round" stroke-linecap="round"/><circle cx="828" cy="200" r="165" fill="#fff" stroke="#231815" stroke-width="19.0"/><path d="M560,790 C560,850 600,900 660,800 M1035,720 L940,790 L880,880 M1060,690 L1100,820 L1080,860 L940,1010 L890,1020 L820,1060" fill="none" stroke="#231815" stroke-width="15.1" stroke-linejoin="round" stroke-linecap="round"/><path d="M600,830 C620,900 640,960 640,1020 M700,870 L720,1010 M760,880 L800,1060 M830,880 L860,960 M440,860 L480,960 L500,980 L520,1060 M520,800 L560,900 L590,1060 M380,1000 C400,1050 420,1100 450,1150 M340,1000 C360,1080 380,1150 400,1180 M1130,690 L1160,830 L1240,880" fill="none" stroke="#231815" stroke-width="10.6" stroke-linejoin="round" stroke-linecap="round"/><path d="M130,1400 C200,1330 400,1300 520,1360 L560,1420 L540,1560 C520,1700 540,1850 590,1930 M650,1400 C800,1300 950,1310 1000,1340 L1010,1640 M640,1920 C560,1800 560,1600 650,1400" fill="none" stroke="#231815" stroke-width="17.7" stroke-linejoin="round" stroke-linecap="round"/><path d="M100,1760 L130,1740 L480,1900 L590,1880 M65,1700 L120,1640 L80,1580 M610,1880 L870,1790 L940,1740 L960,1680 L1180,1600" fill="none" stroke="#231815" stroke-width="19.0" stroke-linejoin="round" stroke-linecap="round"/><path d="M110,1790 L470,1940 L600,1915 M630,1910 L890,1820 L960,1770 L980,1710 L1190,1630 M1090,1900 C1100,1800 1080,1700 1070,1650 M65,1800 C200,1850 350,1830 440,1860 M100,1480 L140,1620 M1010,1400 C1080,1420 1150,1480 1180,1560 M1000,1340 C1060,1330 1120,1350 1160,1400" fill="none" stroke="#231815" stroke-width="10.6" stroke-linejoin="round" stroke-linecap="round"/><path d="M540,1100 L620,1070 L700,1090 L730,1180 L700,1270 L600,1300 L520,1230 Z" fill="#fff" stroke="#231815" stroke-width="19.0" stroke-linejoin="round" stroke-linecap="round"/><path d="M555,1115 L620,1090 L690,1108 L712,1180 L688,1255 L605,1280 L540,1225 Z" fill="none" stroke="#231815" stroke-width="9.9" stroke-linejoin="round" stroke-linecap="round"/><circle cx="630" cy="1195" r="60" fill="#fff" stroke="#231815" stroke-width="15.1"/><circle cx="630" cy="1195" r="40" fill="#fff" stroke="#231815" stroke-width="11.2"/><circle cx="630" cy="1195" r="20" fill="#fff" stroke="#231815" stroke-width="12.5"/><path d="M540,1100 L450,1150 L240,1260 M520,1230 L440,1240 L300,1290 M730,1180 L800,1150 L880,1180 L1100,1310 M700,1270 L840,1290 L1090,1350 M600,1300 L560,1420 M660,1290 L650,1400 M540,1440 L560,1540 L600,1540 L640,1440 M620,1070 L640,1020 L720,1010 L800,1060 L800,1150" fill="none" stroke="#231815" stroke-width="15.1" stroke-linejoin="round" stroke-linecap="round"/><path d="M450,1150 L460,1200 L440,1240 M880,1180 L870,1240 L840,1290 M790,1200 L860,1210 M480,1180 L430,1200" fill="none" stroke="#231815" stroke-width="10.6" stroke-linejoin="round" stroke-linecap="round"/><path d="M1150,900 C1080,1050 1080,1350 1180,1480 M1200,890 C1130,1050 1130,1350 1230,1490" fill="none" stroke="#231815" stroke-width="12.5" stroke-linejoin="round" stroke-linecap="round"/><ellipse cx="1320" cy="1250" rx="108" ry="290" transform="rotate(-6 1320 1250)" fill="#fff" stroke="#231815" stroke-width="17.7"/><ellipse cx="1320" cy="1250" rx="80" ry="240" transform="rotate(-6 1320 1250)" fill="#fff" stroke="#231815" stroke-width="11.2"/><ellipse cx="1315" cy="1240" rx="52" ry="170" transform="rotate(-6 1315 1240)" fill="#fff" stroke="#231815" stroke-width="12.5"/><path d="M1280,1120 C1310,1180 1310,1280 1280,1340 M1290,1180 L1330,1200 M1290,1280 L1330,1270" fill="none" stroke="#231815" stroke-width="10.6" stroke-linejoin="round" stroke-linecap="round"/><path d="M1430,1010 L1440,1150 L1420,1420 L1370,1560 M1490,1050 L1470,1300 L1450,1500 M1230,1500 L1300,1520 L1260,1970 M1180,1600 L1230,1500 M1200,1620 L1220,1900 L1160,2030 M1300,1520 L1370,1560 M1290,1830 L1300,1700" fill="none" stroke="#231815" stroke-width="12.5" stroke-linejoin="round" stroke-linecap="round"/></g><g transform="translate(815.00,1355.00) scale(0.25860) "><path d="M50,240 C50,170 110,125 170,125 C240,125 275,180 275,240 L265,360 L300,365 L295,435 L245,440 L230,630 L135,625 L120,600 L130,430 L80,425 L60,330 Z" fill="#fff" stroke="#231815" stroke-width="12.2" stroke-linejoin="round" stroke-linecap="round"/><path d="M80,425 C150,445 200,445 245,440 M130,430 L245,440" fill="none" stroke="#231815" stroke-width="6.8" stroke-linejoin="round" stroke-linecap="round"/><ellipse cx="158" cy="502" rx="16" ry="20" transform="rotate(0 158 502)" fill="#fff" stroke="#231815" stroke-width="6.4"/><path d="M152,485 L152,520" fill="none" stroke="#231815" stroke-width="5.5" stroke-linejoin="round" stroke-linecap="round"/></g>
<g transform="translate(815.00,1355.00) scale(0.25860) "><circle cx="943" cy="210" r="82" fill="#fff" stroke="#231815" stroke-width="12.2"/><path d="M790,108 C850,108 882,160 882,230 C882,290 860,330 820,347 L745,345 L745,105 Z" fill="#fff" stroke="#231815" stroke-width="11.4" stroke-linejoin="round" stroke-linecap="round"/><path d="M850,150 L880,170 M850,290 L880,270 M805,112 C850,140 860,300 820,340 M825,118 C868,150 872,300 838,335" fill="none" stroke="#231815" stroke-width="6.4" stroke-linejoin="round" stroke-linecap="round"/><ellipse cx="745" cy="225" rx="100" ry="120" transform="rotate(0 745 225)" fill="#fff" stroke="#231815" stroke-width="12.2"/><ellipse cx="740" cy="225" rx="62" ry="78" transform="rotate(0 740 225)" fill="#fff" stroke="#231815" stroke-width="7.2"/><ellipse cx="748" cy="230" rx="40" ry="55" transform="rotate(0 748 230)" fill="#fff" stroke="#231815" stroke-width="7.2"/><path d="M700,245 L750,240 M710,200 L760,195" fill="none" stroke="#231815" stroke-width="5.5" stroke-linejoin="round" stroke-linecap="round"/></g>
<g transform="translate(815.00,1355.00) scale(0.25860) "><path d="M1330,160 C1340,80 1400,40 1450,40 C1510,45 1550,100 1555,170 L1545,290 L1520,350 L1480,360 L1470,550 L1440,565 L1355,545 L1345,520 L1360,340 L1310,320 L1300,210 L1330,200 Z" fill="#fff" stroke="#231815" stroke-width="12.2" stroke-linejoin="round" stroke-linecap="round"/><path d="M1380,130 C1400,90 1440,85 1470,100 L1500,140 L1490,180 L1410,190 M1330,200 L1370,210 L1360,250 L1330,240 L1335,290 L1470,300 L1480,280 L1545,290 M1360,340 L1480,360 M1310,320 L1470,330 M1380,165 L1480,160 L1480,185 L1385,190 M1440,95 L1440,160" fill="none" stroke="#231815" stroke-width="6.8" stroke-linejoin="round" stroke-linecap="round"/><circle cx="1388" cy="432" r="17" fill="#fff" stroke="#231815" stroke-width="6.4"/><circle cx="1400" cy="426" r="13" fill="#fff" stroke="#231815" stroke-width="5.5"/></g>
<g transform="translate(2044.90,377.80) scale(-1,1)"><g transform="translate(815.00,1355.00) scale(0.25860) "><path d="M1330,160 C1340,80 1400,40 1450,40 C1510,45 1550,100 1555,170 L1545,290 L1520,350 L1480,360 L1470,550 L1440,565 L1355,545 L1345,520 L1360,340 L1310,320 L1300,210 L1330,200 Z" fill="#fff" stroke="#231815" stroke-width="12.2" stroke-linejoin="round" stroke-linecap="round"/><path d="M1380,130 C1400,90 1440,85 1470,100 L1500,140 L1490,180 L1410,190 M1330,200 L1370,210 L1360,250 L1330,240 L1335,290 L1470,300 L1480,280 L1545,290 M1360,340 L1480,360 M1310,320 L1470,330 M1380,165 L1480,160 L1480,185 L1385,190 M1440,95 L1440,160" fill="none" stroke="#231815" stroke-width="6.8" stroke-linejoin="round" stroke-linecap="round"/><circle cx="1388" cy="432" r="17" fill="#fff" stroke="#231815" stroke-width="6.4"/><circle cx="1400" cy="426" r="13" fill="#fff" stroke="#231815" stroke-width="5.5"/></g></g>
<g transform="translate(2045.60,383.30) scale(-1,1)"><g transform="translate(815.00,1355.00) scale(0.25860) "><path d="M50,240 C50,170 110,125 170,125 C240,125 275,180 275,240 L265,360 L300,365 L295,435 L245,440 L230,630 L135,625 L120,600 L130,430 L80,425 L60,330 Z" fill="#fff" stroke="#231815" stroke-width="12.2" stroke-linejoin="round" stroke-linecap="round"/><path d="M80,425 C150,445 200,445 245,440 M130,430 L245,440" fill="none" stroke="#231815" stroke-width="6.8" stroke-linejoin="round" stroke-linecap="round"/><ellipse cx="158" cy="502" rx="16" ry="20" transform="rotate(0 158 502)" fill="#fff" stroke="#231815" stroke-width="6.4"/><path d="M152,485 L152,520" fill="none" stroke="#231815" stroke-width="5.5" stroke-linejoin="round" stroke-linecap="round"/></g></g>
<g transform="translate(2046.70,377.80) scale(-1,1)"><g transform="translate(815.00,1355.00) scale(0.25860) "><circle cx="943" cy="210" r="82" fill="#fff" stroke="#231815" stroke-width="12.2"/><path d="M790,108 C850,108 882,160 882,230 C882,290 860,330 820,347 L745,345 L745,105 Z" fill="#fff" stroke="#231815" stroke-width="11.4" stroke-linejoin="round" stroke-linecap="round"/><path d="M850,150 L880,170 M850,290 L880,270 M805,112 C850,140 860,300 820,340 M825,118 C868,150 872,300 838,335" fill="none" stroke="#231815" stroke-width="6.4" stroke-linejoin="round" stroke-linecap="round"/><ellipse cx="745" cy="225" rx="100" ry="120" transform="rotate(0 745 225)" fill="#fff" stroke="#231815" stroke-width="12.2"/><ellipse cx="740" cy="225" rx="62" ry="78" transform="rotate(0 740 225)" fill="#fff" stroke="#231815" stroke-width="7.2"/><ellipse cx="748" cy="230" rx="40" ry="55" transform="rotate(0 748 230)" fill="#fff" stroke="#231815" stroke-width="7.2"/><path d="M700,245 L750,240 M710,200 L760,195" fill="none" stroke="#231815" stroke-width="5.5" stroke-linejoin="round" stroke-linecap="round"/></g></g>
<g transform="translate(1370.00,1430.00) scale(0.22650) "><circle cx="518" cy="200" r="95" fill="#fff" stroke="#231815" stroke-width="13.9"/><path d="M240,415 L225,620 L245,650 L350,660 L375,640 L385,430 Z" fill="#fff" stroke="#231815" stroke-width="13.9" stroke-linejoin="round" stroke-linecap="round"/><path d="M350,440 L345,655" fill="none" stroke="#231815" stroke-width="7.3" stroke-linejoin="round" stroke-linecap="round"/><circle cx="272" cy="510" r="22" fill="#fff" stroke="#231815" stroke-width="7.7"/><circle cx="272" cy="510" r="11" fill="#fff" stroke="#231815" stroke-width="6.3"/><path d="M150,230 C150,130 220,75 300,75 L370,75 C420,100 450,140 460,170 L470,330 L440,335 L445,420 L420,430 C340,410 240,400 175,405 L155,300 Z" fill="#fff" stroke="#231815" stroke-width="13.9" stroke-linejoin="round" stroke-linecap="round"/><path d="M300,75 C360,100 390,160 390,230 L390,340 L440,335 M390,340 L420,430 M370,75 C420,120 430,200 400,260" fill="none" stroke="#231815" stroke-width="9.2" stroke-linejoin="round" stroke-linecap="round"/><path d="M400,260 L460,270 L445,290 L400,300 Z M395,320 L440,305 L440,335 L395,340 Z" fill="#231815" stroke="#231815" stroke-width="7.3" stroke-linejoin="round" stroke-linecap="round"/></g>
<g transform="translate(1370.00,1430.00) scale(0.22650) "><path d="M55,1170 C60,1130 90,1120 120,1125 L265,1115 L320,1125 L325,1105 L410,1100 L430,1110 L425,1210 L400,1260 L240,1265 L120,1245 C70,1230 50,1210 55,1170 Z" fill="#fff" stroke="#231815" stroke-width="13.9" stroke-linejoin="round" stroke-linecap="round"/><path d="M120,1125 L115,1240 M120,1145 L150,1150 L145,1230 M150,1150 L265,1125 L310,1195 L230,1250 M310,1195 L410,1190 M320,1125 L330,1160 L415,1160 M95,1130 C75,1160 80,1210 100,1235 M300,1150 L340,1145" fill="none" stroke="#231815" stroke-width="7.7" stroke-linejoin="round" stroke-linecap="round"/></g>
<g transform="translate(1370.00,1430.00) scale(0.22650) "><path d="M95,1690 L110,1680 L330,1695 L365,1720 L360,1790 L340,1800 L300,2230 L290,2240 L190,2225 C150,2180 130,2120 110,2090 L75,2010 L80,1860 L65,1850 L75,1780 L90,1770 Z" fill="#fff" stroke="#231815" stroke-width="13.9" stroke-linejoin="round" stroke-linecap="round"/><path d="M75,1780 L355,1720 M70,1815 L355,1755 M68,1848 L350,1790" fill="none" stroke="#231815" stroke-width="12.0" stroke-linejoin="round" stroke-linecap="round"/><path d="M150,1690 L140,2000 M325,1800 L290,2230 M100,2030 C150,2020 210,2040 250,2090 M160,1685 L320,1700" fill="none" stroke="#231815" stroke-width="7.3" stroke-linejoin="round" stroke-linecap="round"/><path d="M85,2010 C120,1990 220,2000 270,2060 C290,2120 270,2190 240,2200 C200,2190 160,2120 120,2060 Z" fill="none" stroke="#231815" stroke-width="12.0" stroke-linejoin="round" stroke-linecap="round"/></g>
<g transform="translate(1500.00,1245.00) scale(0.08621) "><path d="M320,305 L1010,305 L1010,420 L985,440 L1010,460 L1010,560 L985,590 C990,800 980,1100 940,1300 L860,1540 L790,1610 L520,1615 L460,1560 L350,1280 C320,1100 320,800 320,305 Z" fill="#b3b3b4" stroke="#231815" stroke-width="44.1" stroke-linejoin="round" stroke-linecap="round"/><path d="M420,560 C600,540 800,440 1000,330 M400,660 C600,660 800,560 1005,460 M385,800 C600,790 800,700 990,590 M420,560 L385,800" fill="none" stroke="#231815" stroke-width="29.1" stroke-linejoin="round" stroke-linecap="round"/><path d="M430,600 C600,590 800,490 1005,370 M410,700 C600,690 800,600 1005,500" fill="none" stroke="#231815" stroke-width="19.1" stroke-linejoin="round" stroke-linecap="round"/><path d="M380,1230 C400,1120 520,1075 640,1075 C770,1075 880,1120 900,1230 C880,1330 800,1480 740,1540 C690,1570 620,1570 570,1540 C500,1480 410,1330 380,1230 Z" fill="none" stroke="#231815" stroke-width="29.1" stroke-linejoin="round" stroke-linecap="round"/><path d="M470,1150 L830,1150 C860,1200 850,1280 800,1370 C760,1450 720,1520 650,1525 C590,1520 540,1450 510,1370 C470,1290 450,1200 470,1150 Z" fill="none" stroke="#231815" stroke-width="34.1" stroke-linejoin="round" stroke-linecap="round"/></g>
<g transform="translate(3391.50,0.00) scale(-1,1)"><g transform="translate(1370.00,1430.00) scale(0.22650) "><circle cx="518" cy="200" r="95" fill="#fff" stroke="#231815" stroke-width="13.9"/><path d="M240,415 L225,620 L245,650 L350,660 L375,640 L385,430 Z" fill="#fff" stroke="#231815" stroke-width="13.9" stroke-linejoin="round" stroke-linecap="round"/><path d="M350,440 L345,655" fill="none" stroke="#231815" stroke-width="7.3" stroke-linejoin="round" stroke-linecap="round"/><circle cx="272" cy="510" r="22" fill="#fff" stroke="#231815" stroke-width="7.7"/><circle cx="272" cy="510" r="11" fill="#fff" stroke="#231815" stroke-width="6.3"/><path d="M150,230 C150,130 220,75 300,75 L370,75 C420,100 450,140 460,170 L470,330 L440,335 L445,420 L420,430 C340,410 240,400 175,405 L155,300 Z" fill="#fff" stroke="#231815" stroke-width="13.9" stroke-linejoin="round" stroke-linecap="round"/><path d="M300,75 C360,100 390,160 390,230 L390,340 L440,335 M390,340 L420,430 M370,75 C420,120 430,200 400,260" fill="none" stroke="#231815" stroke-width="9.2" stroke-linejoin="round" stroke-linecap="round"/><path d="M400,260 L460,270 L445,290 L400,300 Z M395,320 L440,305 L440,335 L395,340 Z" fill="#231815" stroke="#231815" stroke-width="7.3" stroke-linejoin="round" stroke-linecap="round"/></g></g>
<g transform="translate(3391.50,0.00) scale(-1,1)"><g transform="translate(1370.00,1430.00) scale(0.22650) "><path d="M55,1170 C60,1130 90,1120 120,1125 L265,1115 L320,1125 L325,1105 L410,1100 L430,1110 L425,1210 L400,1260 L240,1265 L120,1245 C70,1230 50,1210 55,1170 Z" fill="#fff" stroke="#231815" stroke-width="13.9" stroke-linejoin="round" stroke-linecap="round"/><path d="M120,1125 L115,1240 M120,1145 L150,1150 L145,1230 M150,1150 L265,1125 L310,1195 L230,1250 M310,1195 L410,1190 M320,1125 L330,1160 L415,1160 M95,1130 C75,1160 80,1210 100,1235 M300,1150 L340,1145" fill="none" stroke="#231815" stroke-width="7.7" stroke-linejoin="round" stroke-linecap="round"/></g></g>
<g transform="translate(3391.50,0.00) scale(-1,1)"><g transform="translate(1370.00,1430.00) scale(0.22650) "><path d="M95,1690 L110,1680 L330,1695 L365,1720 L360,1790 L340,1800 L300,2230 L290,2240 L190,2225 C150,2180 130,2120 110,2090 L75,2010 L80,1860 L65,1850 L75,1780 L90,1770 Z" fill="#fff" stroke="#231815" stroke-width="13.9" stroke-linejoin="round" stroke-linecap="round"/><path d="M75,1780 L355,1720 M70,1815 L355,1755 M68,1848 L350,1790" fill="none" stroke="#231815" stroke-width="12.0" stroke-linejoin="round" stroke-linecap="round"/><path d="M150,1690 L140,2000 M325,1800 L290,2230 M100,2030 C150,2020 210,2040 250,2090 M160,1685 L320,1700" fill="none" stroke="#231815" stroke-width="7.3" stroke-linejoin="round" stroke-linecap="round"/><path d="M85,2010 C120,1990 220,2000 270,2060 C290,2120 270,2190 240,2200 C200,2190 160,2120 120,2060 Z" fill="none" stroke="#231815" stroke-width="12.0" stroke-linejoin="round" stroke-linecap="round"/></g></g>
<g transform="translate(3424.40,0.00) scale(-1,1)"><g transform="translate(1500.00,1245.00) scale(0.08621) "><path d="M320,305 L1010,305 L1010,420 L985,440 L1010,460 L1010,560 L985,590 C990,800 980,1100 940,1300 L860,1540 L790,1610 L520,1615 L460,1560 L350,1280 C320,1100 320,800 320,305 Z" fill="#b3b3b4" stroke="#231815" stroke-width="44.1" stroke-linejoin="round" stroke-linecap="round"/><path d="M420,560 C600,540 800,440 1000,330 M400,660 C600,660 800,560 1005,460 M385,800 C600,790 800,700 990,590 M420,560 L385,800" fill="none" stroke="#231815" stroke-width="29.1" stroke-linejoin="round" stroke-linecap="round"/><path d="M430,600 C600,590 800,490 1005,370 M410,700 C600,690 800,600 1005,500" fill="none" stroke="#231815" stroke-width="19.1" stroke-linejoin="round" stroke-linecap="round"/><path d="M380,1230 C400,1120 520,1075 640,1075 C770,1075 880,1120 900,1230 C880,1330 800,1480 740,1540 C690,1570 620,1570 570,1540 C500,1480 410,1330 380,1230 Z" fill="none" stroke="#231815" stroke-width="29.1" stroke-linejoin="round" stroke-linecap="round"/><path d="M470,1150 L830,1150 C860,1200 850,1280 800,1370 C760,1450 720,1520 650,1525 C590,1520 540,1450 510,1370 C470,1290 450,1200 470,1150 Z" fill="none" stroke="#231815" stroke-width="34.1" stroke-linejoin="round" stroke-linecap="round"/></g></g>
<g transform="translate(140.00,2095.00) scale(0.19704) "><path d="M190,70 L215,70 C230,150 240,300 260,420 L290,440 L300,520 L280,560 L285,640 L355,700 L360,740 L330,830 L285,855 L200,820 L185,860 L150,850 C110,780 85,700 90,640 L80,600 L75,460 L100,445 C110,300 150,150 190,70 Z" fill="#fff" stroke="#231815" stroke-width="16.0" stroke-linejoin="round" stroke-linecap="round"/><path d="M215,180 C200,300 190,380 150,440 M100,445 L150,440 L160,640 L90,640 M150,440 L190,430 L260,450 M160,640 L185,700 L200,820 M185,700 L290,760 L330,830 M285,640 L290,760 M240,800 L200,780" fill="none" stroke="#231815" stroke-width="8.9" stroke-linejoin="round" stroke-linecap="round"/><ellipse cx="210" cy="545" rx="50" ry="88" transform="rotate(0 210 545)" fill="#fff" stroke="#231815" stroke-width="13.8"/><ellipse cx="215" cy="548" rx="25" ry="45" transform="rotate(0 215 548)" fill="#fff" stroke="#231815" stroke-width="9.4"/><path d="M243,546 L257,545 M237,577 L248,593 M222,595 L225,623 M204,595 L197,623 M189,577 L174,593 M183,546 L165,545 M189,515 L174,497 M204,497 L197,467 M222,497 L225,467 M237,515 L248,497" fill="none" stroke="#231815" stroke-width="7.3" stroke-linejoin="round" stroke-linecap="round"/></g>
<g transform="translate(936.30,0.00) scale(-1,1)"><g transform="translate(140.00,2095.00) scale(0.19704) "><path d="M190,70 L215,70 C230,150 240,300 260,420 L290,440 L300,520 L280,560 L285,640 L355,700 L360,740 L330,830 L285,855 L200,820 L185,860 L150,850 C110,780 85,700 90,640 L80,600 L75,460 L100,445 C110,300 150,150 190,70 Z" fill="#fff" stroke="#231815" stroke-width="16.0" stroke-linejoin="round" stroke-linecap="round"/><path d="M215,180 C200,300 190,380 150,440 M100,445 L150,440 L160,640 L90,640 M150,440 L190,430 L260,450 M160,640 L185,700 L200,820 M185,700 L290,760 L330,830 M285,640 L290,760 M240,800 L200,780" fill="none" stroke="#231815" stroke-width="8.9" stroke-linejoin="round" stroke-linecap="round"/><ellipse cx="210" cy="545" rx="50" ry="88" transform="rotate(0 210 545)" fill="#fff" stroke="#231815" stroke-width="13.8"/><ellipse cx="215" cy="548" rx="25" ry="45" transform="rotate(0 215 548)" fill="#fff" stroke="#231815" stroke-width="9.4"/><path d="M243,546 L257,545 M237,577 L248,593 M222,595 L225,623 M204,595 L197,623 M189,577 L174,593 M183,546 L165,545 M189,515 L174,497 M204,497 L197,467 M222,497 L225,467 M237,515 L248,497" fill="none" stroke="#231815" stroke-width="7.3" stroke-linejoin="round" stroke-linecap="round"/></g></g>
<g transform="translate(140.00,2095.00) scale(0.19704) "><circle cx="1445" cy="385" r="105" fill="#fff" stroke="#231815" stroke-width="16.0"/><path d="M1020,400 C1020,300 1090,240 1180,235 L1260,240 C1300,260 1330,290 1345,320 L1370,335 L1385,480 L1375,590 L1395,595 L1395,690 L1370,700 L1360,770 L1355,880 L1340,900 L1290,1310 L1280,1320 L1180,1305 C1130,1250 1100,1200 1090,1170 L1040,1130 L1030,960 L1015,950 L1025,860 L1040,855 L1040,740 C1000,745 970,720 970,670 C970,620 1000,605 1040,610 Z" fill="#fff" stroke="#231815" stroke-width="16.0" stroke-linejoin="round" stroke-linecap="round"/><path d="M1180,235 C1250,260 1290,330 1295,400 L1290,540 L1340,530 M1260,240 C1310,290 1330,370 1310,440" fill="none" stroke="#231815" stroke-width="10.5" stroke-linejoin="round" stroke-linecap="round"/><path d="M1310,440 L1370,450 L1345,480 L1300,500 Z M1295,525 L1340,505 L1340,530 L1292,545 Z" fill="#231815" stroke="#231815" stroke-width="8.4" stroke-linejoin="round" stroke-linecap="round"/><path d="M1040,640 L1090,610 L1220,600 L1265,660 L1245,700 L1170,750 L1090,745 L1040,740 M1090,610 L1075,740 M1265,660 L1390,650 M1245,700 L1385,690 M1170,750 L1200,720 L1245,700" fill="none" stroke="#231815" stroke-width="12.7" stroke-linejoin="round" stroke-linecap="round"/><path d="M1025,860 L1350,770 M1018,935 L1345,850" fill="none" stroke="#231815" stroke-width="12.7" stroke-linejoin="round" stroke-linecap="round"/><path d="M1020,900 L1350,810 M1015,950 L1340,880 M1120,750 L1105,1080 M1335,900 L1290,1310 M1060,1110 C1110,1100 1190,1130 1230,1180 M1040,740 L1040,860" fill="none" stroke="#231815" stroke-width="8.9" stroke-linejoin="round" stroke-linecap="round"/><path d="M1040,1090 C1080,1070 1200,1090 1250,1160 C1280,1220 1260,1280 1220,1280 C1180,1270 1120,1200 1080,1150 Z" fill="none" stroke="#231815" stroke-width="12.7" stroke-linejoin="round" stroke-linecap="round"/></g>
<g transform="translate(936.30,0.00) scale(-1,1)"><g transform="translate(140.00,2095.00) scale(0.19704) "><circle cx="1445" cy="385" r="105" fill="#fff" stroke="#231815" stroke-width="16.0"/><path d="M1020,400 C1020,300 1090,240 1180,235 L1260,240 C1300,260 1330,290 1345,320 L1370,335 L1385,480 L1375,590 L1395,595 L1395,690 L1370,700 L1360,770 L1355,880 L1340,900 L1290,1310 L1280,1320 L1180,1305 C1130,1250 1100,1200 1090,1170 L1040,1130 L1030,960 L1015,950 L1025,860 L1040,855 L1040,740 C1000,745 970,720 970,670 C970,620 1000,605 1040,610 Z" fill="#fff" stroke="#231815" stroke-width="16.0" stroke-linejoin="round" stroke-linecap="round"/><path d="M1180,235 C1250,260 1290,330 1295,400 L1290,540 L1340,530 M1260,240 C1310,290 1330,370 1310,440" fill="none" stroke="#231815" stroke-width="10.5" stroke-linejoin="round" stroke-linecap="round"/><path d="M1310,440 L1370,450 L1345,480 L1300,500 Z M1295,525 L1340,505 L1340,530 L1292,545 Z" fill="#231815" stroke="#231815" stroke-width="8.4" stroke-linejoin="round" stroke-linecap="round"/><path d="M1040,640 L1090,610 L1220,600 L1265,660 L1245,700 L1170,750 L1090,745 L1040,740 M1090,610 L1075,740 M1265,660 L1390,650 M1245,700 L1385,690 M1170,750 L1200,720 L1245,700" fill="none" stroke="#231815" stroke-width="12.7" stroke-linejoin="round" stroke-linecap="round"/><path d="M1025,860 L1350,770 M1018,935 L1345,850" fill="none" stroke="#231815" stroke-width="12.7" stroke-linejoin="round" stroke-linecap="round"/><path d="M1020,900 L1350,810 M1015,950 L1340,880 M1120,750 L1105,1080 M1335,900 L1290,1310 M1060,1110 C1110,1100 1190,1130 1230,1180 M1040,740 L1040,860" fill="none" stroke="#231815" stroke-width="8.9" stroke-linejoin="round" stroke-linecap="round"/><path d="M1040,1090 C1080,1070 1200,1090 1250,1160 C1280,1220 1260,1280 1220,1280 C1180,1270 1120,1200 1080,1150 Z" fill="none" stroke="#231815" stroke-width="12.7" stroke-linejoin="round" stroke-linecap="round"/></g></g>
<g transform="translate(885.00,2180.00) scale(0.24631) "><path d="M45,410 L60,330 L100,200 C130,180 160,190 180,220 L195,260 L225,275 L220,300 L195,310 L200,340 L235,360 L265,320 L280,340 L285,420 L240,430 L245,500 L215,520 L210,580 L235,590 L230,640 L200,660 L100,650 L90,600 L100,580 L145,580 L150,540 L100,520 L105,440 Z" fill="#fff" stroke="#231815" stroke-width="12.8" stroke-linejoin="round" stroke-linecap="round"/><path d="M105,440 L115,360 L150,340 C170,380 210,380 235,360 M115,360 L100,300 M150,540 L150,440 M100,600 L200,610" fill="none" stroke="#231815" stroke-width="7.1" stroke-linejoin="round" stroke-linecap="round"/><path d="M130,265 L200,275 L200,305 L130,300 Z" fill="#fff" stroke="#231815" stroke-width="8.4" stroke-linejoin="round" stroke-linecap="round"/><ellipse cx="212" cy="290" rx="10" ry="18" transform="rotate(0 212 290)" fill="#fff" stroke="#231815" stroke-width="7.6"/><path d="M180,450 L245,455 L245,495 L180,490 Z" fill="#fff" stroke="#231815" stroke-width="8.4" stroke-linejoin="round" stroke-linecap="round"/><ellipse cx="250" cy="475" rx="12" ry="20" transform="rotate(0 250 475)" fill="#fff" stroke="#231815" stroke-width="7.6"/></g>
<g transform="translate(885.00,2180.00) scale(0.24631) "><path d="M670,75 C680,45 800,45 805,80 L795,300 C810,340 805,400 780,430 C750,470 680,475 640,440 C600,400 600,320 650,275 Z" fill="#fff" stroke="#231815" stroke-width="12.8" stroke-linejoin="round" stroke-linecap="round"/><ellipse cx="738" cy="68" rx="66" ry="16" transform="rotate(0 738 68)" fill="#fff" stroke="#231815" stroke-width="7.1"/><ellipse cx="745" cy="365" rx="52" ry="88" transform="rotate(0 745 365)" fill="#fff" stroke="#231815" stroke-width="8.4"/><ellipse cx="745" cy="370" rx="30" ry="46" transform="rotate(0 745 370)" fill="#fff" stroke="#231815" stroke-width="7.6"/><path d="M740,250 C760,255 780,270 790,300" fill="none" stroke="#231815" stroke-width="7.1" stroke-linejoin="round" stroke-linecap="round"/></g>
<g transform="translate(885.00,2180.00) scale(0.24631) "><path d="M1335,770 C1335,755 1470,755 1470,770 L1470,830 C1440,845 1360,845 1335,830 Z" fill="#fff" stroke="#231815" stroke-width="12.8" stroke-linejoin="round" stroke-linecap="round"/><path d="M1335,785 C1370,800 1440,800 1470,785" fill="none" stroke="#231815" stroke-width="7.1" stroke-linejoin="round" stroke-linecap="round"/><path d="M1345,605 L1345,700 L1360,710 L1360,765 L1440,765 L1440,715 L1475,700 L1480,610 Z" fill="#fff" stroke="#231815" stroke-width="11.9" stroke-linejoin="round" stroke-linecap="round"/><ellipse cx="1455" cy="650" rx="11" ry="22" transform="rotate(0 1455 650)" fill="#fff" stroke="#231815" stroke-width="7.1"/><path d="M1310,590 L1315,470 L1310,450 C1300,420 1320,395 1350,395 L1400,400 C1420,380 1460,375 1490,385 C1540,420 1555,520 1555,590 L1540,610 C1480,600 1380,590 1320,600 Z" fill="#fff" stroke="#231815" stroke-width="12.8" stroke-linejoin="round" stroke-linecap="round"/><path d="M1310,450 C1300,480 1310,510 1340,515 C1370,500 1400,440 1400,400" fill="none" stroke="#231815" stroke-width="8.4" stroke-linejoin="round" stroke-linecap="round"/></g>
<g transform="translate(1180.00,2020.00) scale(0.08006) "><path d="M500,220 Q500,205 520,205 L880,205 Q900,205 900,225 L905,1130 C960,1160 990,1220 970,1280 C900,1420 720,1480 600,1470 C440,1450 320,1320 310,1160 C310,1000 400,880 500,835 Z" fill="#b3b3b4" stroke="#231815" stroke-width="50.2" stroke-linejoin="round" stroke-linecap="round"/><circle cx="595" cy="1155" r="160" fill="none" stroke="#231815" stroke-width="23.3"/><path d="M500,835 L575,870 L575,800 L820,950 L860,960 L860,1060 L820,1050 L820,950" fill="none" stroke="#231815" stroke-width="31.3" stroke-linejoin="round" stroke-linecap="round"/><path d="M575,870 C480,900 400,1000 380,1150 C390,1300 500,1400 620,1420 C760,1420 900,1340 940,1260 M860,1060 C880,1150 920,1200 940,1240" fill="none" stroke="#231815" stroke-width="23.3" stroke-linejoin="round" stroke-linecap="round"/></g>
<g transform="translate(1410.00,2070.00) scale(0.28329) "><path d="M120,320 L140,310 L165,345 L160,385 L205,400 L360,415 L365,450 L345,470 L350,510 L375,520 L375,555 L350,565 L345,600 L300,615 C280,640 290,670 320,680 L300,720 L300,860 L280,880 L290,935 L300,980 L305,1060 L290,1075 L130,1050 L125,975 L135,930 L105,880 L110,840 L60,650 L75,645 L120,690 L115,520 L100,590 L70,570 L55,455 L80,450 L120,500 Z" fill="#fff" stroke="#231815" stroke-width="11.1" stroke-linejoin="round" stroke-linecap="round"/><path transform="translate(215.0,692.5) scale(0.9) translate(-215.0,-692.5)" d="M120,320 L140,310 L165,345 L160,385 L205,400 L360,415 L365,450 L345,470 L350,510 L375,520 L375,555 L350,565 L345,600 L300,615 C280,640 290,670 320,680 L300,720 L300,860 L280,880 L290,935 L300,980 L305,1060 L290,1075 L130,1050 L125,975 L135,930 L105,880 L110,840 L60,650 L75,645 L120,690 L115,520 L100,590 L70,570 L55,455 L80,450 L120,500 Z" fill="none" stroke="#231815" stroke-width="6.0" stroke-linejoin="round"/><path d="M160,385 L345,600 M205,400 L160,600 L130,640 M230,445 L335,450 M240,490 L330,490 M130,640 L230,635 C250,610 280,600 300,615 M300,720 L240,740 L215,730 L205,800 L290,790 M135,930 L290,945 M130,975 L305,985 M135,880 L150,930 M160,385 L140,640 M185,420 L340,590" fill="none" stroke="#231815" stroke-width="6.6" stroke-linejoin="round" stroke-linecap="round"/><circle cx="183" cy="488" r="14" fill="#fff" stroke="#231815" stroke-width="5.8"/><circle cx="140" cy="655" r="12" fill="#fff" stroke="#231815" stroke-width="5.8"/><circle cx="215" cy="835" r="22" fill="#fff" stroke="#231815" stroke-width="6.6"/></g>
<g transform="translate(1410.00,2070.00) scale(0.28329) "><path d="M1325,340 L1345,340 L1420,405 L1420,415 L1575,430 L1580,470 L1565,560 L1540,620 L1545,680 L1505,700 L1515,780 L1490,860 L1480,990 L1500,1000 L1505,1075 L1480,1085 L1340,1075 L1330,1000 L1340,900 L1310,880 L1315,830 L1340,820 L1300,650 L1325,640 L1290,540 L1270,475 L1300,470 L1330,500 L1320,470 Z" fill="#fff" stroke="#231815" stroke-width="11.1" stroke-linejoin="round" stroke-linecap="round"/><path transform="translate(1425.0,712.5) scale(0.9) translate(-1425.0,-712.5)" d="M1325,340 L1345,340 L1420,405 L1420,415 L1575,430 L1580,470 L1565,560 L1540,620 L1545,680 L1505,700 L1515,780 L1490,860 L1480,990 L1500,1000 L1505,1075 L1480,1085 L1340,1075 L1330,1000 L1340,900 L1310,880 L1315,830 L1340,820 L1300,650 L1325,640 L1290,540 L1270,475 L1300,470 L1330,500 L1320,470 Z" fill="none" stroke="#231815" stroke-width="6.0" stroke-linejoin="round"/><path d="M1350,380 L1350,410 L1420,415 M1390,430 L1390,520 L1480,525 M1390,430 L1520,440 L1520,560 L1480,620 L1300,640 M1480,525 L1480,620 M1555,440 L1545,620 M1340,720 L1380,715 L1385,840 L1330,850 M1350,820 L1380,815 M1420,680 L1470,690 L1450,740 M1375,990 L1450,985 L1455,1075 M1375,990 L1375,1075" fill="none" stroke="#231815" stroke-width="6.6" stroke-linejoin="round" stroke-linecap="round"/><circle cx="1470" cy="498" r="15" fill="#fff" stroke="#231815" stroke-width="5.8"/><circle cx="1375" cy="680" r="16" fill="#fff" stroke="#231815" stroke-width="5.8"/><circle cx="1425" cy="755" r="22" fill="#fff" stroke="#231815" stroke-width="5.8"/><circle cx="1440" cy="855" r="16" fill="#fff" stroke="#231815" stroke-width="5.8"/><circle cx="1355" cy="885" r="16" fill="#fff" stroke="#231815" stroke-width="5.8"/><circle cx="1410" cy="915" r="15" fill="#fff" stroke="#231815" stroke-width="5.8"/><circle cx="1510" cy="555" r="16" fill="#fff" stroke="#231815" stroke-width="5.8"/></g>
<g transform="translate(1410.00,2070.00) scale(0.28329) "><path d="M745,590 C745,570 890,570 895,590 L890,640 C870,660 760,660 745,635 Z" fill="#fff" stroke="#231815" stroke-width="11.1" stroke-linejoin="round" stroke-linecap="round"/><path d="M745,600 C780,625 860,625 895,600" fill="none" stroke="#231815" stroke-width="6.2" stroke-linejoin="round" stroke-linecap="round"/><path d="M760,445 L755,585 L900,585 L905,455 Z" fill="#fff" stroke="#231815" stroke-width="9.6" stroke-linejoin="round" stroke-linecap="round"/><path d="M800,450 L795,590 M870,455 L865,590" fill="none" stroke="#231815" stroke-width="6.2" stroke-linejoin="round" stroke-linecap="round"/><ellipse cx="885" cy="483" rx="11" ry="20" transform="rotate(0 885 483)" fill="#fff" stroke="#231815" stroke-width="5.8"/><path d="M805,60 C810,40 915,40 920,60 L905,250 L795,250 Z" fill="#fff" stroke="#231815" stroke-width="10.4" stroke-linejoin="round" stroke-linecap="round"/><ellipse cx="862" cy="55" rx="56" ry="13" transform="rotate(0 862 55)" fill="#fff" stroke="#231815" stroke-width="5.8"/><path d="M710,415 L745,250 L765,235 L870,225 L920,260 C950,300 970,360 970,420 L960,445 C900,455 800,450 730,435 Z" fill="#fff" stroke="#231815" stroke-width="11.1" stroke-linejoin="round" stroke-linecap="round"/><path d="M745,250 C740,300 760,350 790,360 C820,350 830,300 830,270 L870,240 L920,260 M765,235 C780,260 800,270 830,270 M765,370 L770,440" fill="none" stroke="#231815" stroke-width="7.0" stroke-linejoin="round" stroke-linecap="round"/></g>
<g transform="translate(1900.00,2040.00) scale(0.12195) "><path d="M540,110 Q540,95 560,95 L750,95 Q770,95 770,110 L770,470 L830,470 L900,720 L905,830 L890,855 L890,1180 L850,1290 L790,1330 L800,1400 L780,1500 L780,1640 L810,1680 L760,1800 L790,1880 L790,1990 L830,1995 L830,2195 L460,2195 L455,2030 L420,2025 L380,1880 L360,1870 L380,1740 L360,1690 L420,1680 L280,1590 L245,1405 L395,1500 L360,1420 L290,1370 L205,1020 L290,1100 L340,1090 L305,1010 L345,960 L310,720 L370,790 L385,800 L470,470 L540,470 Z" fill="#acacad" stroke="#231815" stroke-width="29.4" stroke-linejoin="round" stroke-linecap="round"/><path d="M560,470 C560,430 740,430 750,470 L750,620 C740,700 570,700 555,620 Z M385,855 L890,855 M500,1045 L795,1045" fill="none" stroke="#231815" stroke-width="20.6" stroke-linejoin="round" stroke-linecap="round"/><path d="M650,700 L650,1290 M385,830 L900,830 M500,890 L500,1040 M795,890 L795,1040 M520,1060 L520,1160 M570,1060 L570,1160 M730,1060 L730,1160 M780,1060 L780,1160 M505,1185 L785,1185 L785,1270 Q785,1290 760,1290 L530,1290 Q505,1290 505,1270 Z M505,1175 L785,1175 M590,1375 L730,1370 L720,1470 C690,1440 640,1420 590,1420 Z M400,1480 L490,1465 L550,1720 L440,1745 Z M410,1510 L500,1495 M430,1700 L540,1680 M555,2195 L555,1990 L735,1990 L735,2195 M550,110 L760,110" fill="none" stroke="#231815" stroke-width="14.4" stroke-linejoin="round" stroke-linecap="round"/><circle cx="480" cy="1110" r="40" fill="none" stroke="#231815" stroke-width="14.4"/><circle cx="800" cy="1110" r="40" fill="none" stroke="#231815" stroke-width="14.4"/><circle cx="378" cy="1295" r="42" fill="none" stroke="#231815" stroke-width="14.4"/><circle cx="485" cy="1395" r="42" fill="none" stroke="#231815" stroke-width="14.4"/><circle cx="625" cy="1555" r="55" fill="none" stroke="#231815" stroke-width="14.4"/><circle cx="680" cy="1740" r="45" fill="none" stroke="#231815" stroke-width="14.4"/><circle cx="480" cy="1810" r="42" fill="none" stroke="#231815" stroke-width="14.4"/><circle cx="620" cy="1870" r="42" fill="none" stroke="#231815" stroke-width="14.4"/></g>
<g transform="translate(205.00,2550.00) scale(0.28944) "><path d="M55,470 L100,455 C150,520 230,590 300,625 L315,660 C310,720 290,790 265,860 L270,885 L250,960 L260,985 L240,1050 L115,1045 L105,900 L130,880 L120,785 L145,770 L130,650 L75,555 L55,540 Z" fill="#fff" stroke="#231815" stroke-width="10.9" stroke-linejoin="round" stroke-linecap="round"/><path d="M80,480 C130,560 210,630 300,665 M145,770 C180,810 230,850 265,860 M150,790 C190,830 230,860 262,875 M105,900 C150,930 210,960 250,965 M125,905 C160,940 210,975 255,985" fill="none" stroke="#231815" stroke-width="6.4" stroke-linejoin="round" stroke-linecap="round"/></g>
<g transform="translate(205.00,2550.00) scale(0.28944) "><path d="M780,65 C790,40 900,45 905,70 L890,240 L910,255 C940,300 950,360 945,420 L930,440 L935,530 L915,600 L920,650 L880,690 L860,760 L865,800 L845,880 L830,910 L835,960 L870,985 L865,1075 L845,1090 L690,1075 L685,990 L665,975 L655,895 L680,900 L640,780 L610,680 L625,670 L660,710 L660,640 L640,600 L620,540 L610,490 L640,480 L680,420 L675,350 L700,330 L720,260 L750,230 L780,225 Z" fill="#fff" stroke="#231815" stroke-width="10.9" stroke-linejoin="round" stroke-linecap="round"/><ellipse cx="842" cy="62" rx="60" ry="13" transform="rotate(0 842 62)" fill="#fff" stroke="#231815" stroke-width="5.7"/><path d="M720,260 C720,320 750,360 780,355 C810,340 820,290 820,270 L855,240 L905,260 M750,230 L760,400" fill="none" stroke="#231815" stroke-width="6.8" stroke-linejoin="round" stroke-linecap="round"/><path d="M690,415 L760,440 C830,450 900,440 945,420" fill="none" stroke="#231815" stroke-width="10.2" stroke-linejoin="round" stroke-linecap="round"/><path d="M740,440 L900,600 M770,480 L880,480 M780,520 L880,520 M680,665 L790,680 C800,640 850,630 870,660 L880,690 M790,680 C790,720 830,730 860,700 M760,750 L800,790 L840,770 L860,800 M760,750 L770,830 C790,850 820,840 830,810" fill="none" stroke="#231815" stroke-width="7.9" stroke-linejoin="round" stroke-linecap="round"/><path d="M915,450 L910,600 M700,500 L680,660 M720,700 L700,900 M690,950 L840,960 L845,1000 M690,990 L865,1000 M655,895 L700,910 L700,950" fill="none" stroke="#231815" stroke-width="6.1" stroke-linejoin="round" stroke-linecap="round"/><circle cx="690" cy="680" r="12" fill="#fff" stroke="#231815" stroke-width="5.7"/><circle cx="855" cy="660" r="14" fill="#fff" stroke="#231815" stroke-width="5.7"/></g>
<g transform="translate(205.00,2550.00) scale(0.28944) "><path d="M1410,350 L1490,340 C1540,380 1570,450 1575,520 C1570,640 1530,720 1500,770 L1495,800 L1510,830 L1500,870 L1480,940 L1445,945 L1440,910 L1425,900 L1430,830 L1400,820 L1400,785 L1440,780 L1455,660 L1455,640 L1480,600 L1490,540 L1470,500 L1440,470 L1420,440 L1430,410 Z" fill="#fff" stroke="#231815" stroke-width="10.9" stroke-linejoin="round" stroke-linecap="round"/><path d="M1430,380 L1480,375 C1520,410 1545,470 1545,530 C1540,620 1510,700 1480,760 M1490,540 C1520,560 1530,600 1500,680 M1480,760 L1470,830 L1480,870" fill="none" stroke="#231815" stroke-width="6.4" stroke-linejoin="round" stroke-linecap="round"/><circle cx="1480" cy="450" r="16" fill="#fff" stroke="#231815" stroke-width="6.4"/><circle cx="1465" cy="455" r="12" fill="#fff" stroke="#231815" stroke-width="5.7"/><circle cx="1475" cy="630" r="14" fill="#fff" stroke="#231815" stroke-width="6.4"/><circle cx="1420" cy="800" r="12" fill="#fff" stroke="#231815" stroke-width="6.4"/></g>
<g transform="translate(860.00,2525.00) scale(0.33256) "><path d="M75,140 L85,140 L130,330 L110,400 L140,410 L150,440 L130,480 L190,560 L185,630 L210,640 L210,660 L185,680 L185,760 L160,785 L165,900 L125,910 L90,840 L65,700 L75,640 L40,510 L60,500 L95,530 L60,430 L65,300 L40,240 Z" fill="#fff" stroke="#231815" stroke-width="9.5" stroke-linejoin="round" stroke-linecap="round"/><path transform="translate(125.0,525.0) scale(0.86) translate(-125.0,-525.0)" d="M75,140 L85,140 L130,330 L110,400 L140,410 L150,440 L130,480 L190,560 L185,630 L210,640 L210,660 L185,680 L185,760 L160,785 L165,900 L125,910 L90,840 L65,700 L75,640 L40,510 L60,500 L95,530 L60,430 L65,300 L40,240 Z" fill="none" stroke="#231815" stroke-width="5.4" stroke-linejoin="round"/><path d="M75,140 L100,300 L70,310 M100,300 L110,400 M65,310 C60,340 70,370 95,380 M95,530 L130,480 M60,500 L75,640 L160,690 L185,680 M75,640 L150,560 L190,560 M90,720 L160,785 M65,700 L90,720 L90,840 M150,440 C130,420 110,430 110,460 M140,790 L145,900" fill="none" stroke="#231815" stroke-width="5.6" stroke-linejoin="round" stroke-linecap="round"/></g>
<g transform="translate(860.00,2525.00) scale(0.33256) "><path d="M745,55 C750,35 840,35 845,55 L835,200 L855,230 C880,280 890,340 885,370 L880,420 L890,440 C900,520 880,620 840,720 L835,790 L830,860 L810,875 L805,930 L780,945 L680,940 L655,925 L660,860 L640,820 L600,650 L620,640 L640,690 L640,560 L600,520 L595,430 L640,420 L640,320 L660,295 L690,220 L720,200 L745,195 Z" fill="#fff" stroke="#231815" stroke-width="9.5" stroke-linejoin="round" stroke-linecap="round"/><ellipse cx="795" cy="50" rx="48" ry="11" transform="rotate(0 795 50)" fill="#fff" stroke="#231815" stroke-width="4.9"/><path d="M690,220 C690,280 720,320 745,315 C770,300 780,250 780,230 L810,200 L855,230" fill="none" stroke="#231815" stroke-width="5.9" stroke-linejoin="round" stroke-linecap="round"/><path d="M660,370 L720,390 C780,395 850,385 885,370 M640,360 L700,370 L830,500 L870,495 L890,440 M660,580 L720,575 C760,640 800,680 850,690" fill="none" stroke="#231815" stroke-width="8.8" stroke-linejoin="round" stroke-linecap="round"/><path d="M700,370 L720,400 M830,500 C860,520 880,520 890,500 M740,420 L830,420 M750,455 L830,455 M850,400 L850,490 M700,640 C740,700 790,720 835,720 M690,740 L720,730 C750,780 790,800 830,800 M660,600 L650,800 M660,860 L830,870 M680,870 L680,940 M800,875 L800,935 M600,430 L640,440 M600,520 L640,500" fill="none" stroke="#231815" stroke-width="5.6" stroke-linejoin="round" stroke-linecap="round"/></g>
<g transform="translate(860.00,2525.00) scale(0.33256) "><path d="M1325,35 L1420,195 L1460,185 L1480,210 L1475,250 L1500,260 L1530,340 L1510,350 L1565,440 L1560,500 L1530,560 L1535,640 L1510,660 L1500,795 L1445,800 L1390,715 L1395,690 L1355,600 L1380,620 L1410,640 L1415,600 L1380,560 L1390,530 L1370,490 L1325,400 L1380,420 L1395,440 L1360,360 L1300,300 L1310,250 L1295,180 Z" fill="#fff" stroke="#231815" stroke-width="9.5" stroke-linejoin="round" stroke-linecap="round"/><path transform="translate(1430.0,417.5) scale(0.86) translate(-1430.0,-417.5)" d="M1325,35 L1420,195 L1460,185 L1480,210 L1475,250 L1500,260 L1530,340 L1510,350 L1565,440 L1560,500 L1530,560 L1535,640 L1510,660 L1500,795 L1445,800 L1390,715 L1395,690 L1355,600 L1380,620 L1410,640 L1415,600 L1380,560 L1390,530 L1370,490 L1325,400 L1380,420 L1395,440 L1360,360 L1300,300 L1310,250 L1295,180 Z" fill="none" stroke="#231815" stroke-width="5.4" stroke-linejoin="round"/><path d="M1325,35 L1340,200 L1420,300 L1480,250 M1340,200 L1310,250 M1420,195 L1400,280 M1420,300 L1500,400 L1560,440 M1500,400 L1450,500 L1530,520 M1450,500 L1420,540 M1500,560 L1490,660 L1420,700 M1490,660 L1510,660 M1360,360 L1420,300" fill="none" stroke="#231815" stroke-width="5.6" stroke-linejoin="round" stroke-linecap="round"/><path d="M1320,340 L1390,330 L1392,355 L1322,362 Z M1400,520 L1460,515 L1462,540 L1402,545 Z M1390,700 L1440,695 L1440,720 L1392,722 Z" fill="#fff" stroke="#231815" stroke-width="6.2" stroke-linejoin="round" stroke-linecap="round"/><ellipse cx="1390" cy="480" rx="11" ry="20" transform="rotate(0 1390 480)" fill="#fff" stroke="#231815" stroke-width="5.6"/></g>
<g transform="translate(1580.00,2525.00) scale(0.19704) "><path d="M380,85 C385,55 545,55 550,85 L540,340 L570,370 C610,440 625,520 620,600 L610,640 L600,680 C640,740 650,850 620,950 C600,1050 560,1130 545,1170 L530,1300 L520,1400 L500,1460 L495,1580 L470,1600 L260,1590 L235,1570 L235,1450 L200,1400 L170,1180 L140,1100 L85,760 L150,800 L140,660 L110,520 L150,140 L290,340 L330,320 L380,310 Z" fill="#fff" stroke="#231815" stroke-width="16.0" stroke-linejoin="round" stroke-linecap="round"/><ellipse cx="465" cy="80" rx="82" ry="18" transform="rotate(0 465 80)" fill="#fff" stroke="#231815" stroke-width="8.4"/><path d="M300,400 C300,460 330,520 370,510 C420,490 420,420 430,380 L480,340 L570,370 M330,320 C300,360 290,400 300,400 M320,520 L330,620" fill="none" stroke="#231815" stroke-width="10.0" stroke-linejoin="round" stroke-linecap="round"/><path d="M330,620 C400,640 520,640 615,625 M260,590 L330,620 L500,800 L560,830 L600,810 L620,720 M300,860 C400,1000 480,1100 540,1150" fill="none" stroke="#231815" stroke-width="14.9" stroke-linejoin="round" stroke-linecap="round"/><path d="M380,690 L520,690 M400,750 L520,750 M550,650 L545,800 M580,690 L580,790 M500,800 C540,850 590,850 610,830" fill="none" stroke="#231815" stroke-width="9.4" stroke-linejoin="round" stroke-linecap="round"/><path d="M150,140 L180,420 L130,440 L140,520 L180,540 L220,600 L260,590 M150,140 L250,350 M180,250 L280,330 M200,300 L240,330 M180,420 L170,540 L180,690 L220,680 L210,560 M225,480 C240,470 250,500 245,560" fill="none" stroke="#231815" stroke-width="10.0" stroke-linejoin="round" stroke-linecap="round"/><path d="M160,730 L300,860 L330,1030 L300,1060 L160,900 Z M300,1060 L320,1200 L270,1220 L170,1120 M330,1030 C400,1100 470,1150 535,1185 M320,1220 C380,1290 450,1330 510,1340 M270,1220 L265,1440 M300,1230 C360,1300 440,1350 500,1370 M235,1450 L500,1460 M250,1460 L250,1580 M470,1470 L470,1590" fill="none" stroke="#231815" stroke-width="10.5" stroke-linejoin="round" stroke-linecap="round"/></g>
<g transform="translate(1580.00,2525.00) scale(0.19704) "><path d="M1095,1130 C1100,1090 1480,1100 1495,1140 L1495,1260 C1480,1320 1130,1310 1100,1260 Z" fill="#fff" stroke="#231815" stroke-width="16.0" stroke-linejoin="round" stroke-linecap="round"/><path d="M1100,1140 C1200,1180 1400,1180 1490,1150 M1130,1120 C1200,1100 1400,1100 1470,1125 M1100,1250 C1200,1290 1400,1290 1490,1260 M1450,1160 L1450,1290" fill="none" stroke="#231815" stroke-width="9.4" stroke-linejoin="round" stroke-linecap="round"/></g>
<polygon points="129.7,163.4 148.6,130.8 186.2,130.8 205.1,163.4 186.2,196.0 148.6,196.0" fill="#231815" stroke="none" stroke-width="0"/>
<text x="167.4" y="176.9" font-size="37" fill="#fff" stroke="#fff" text-anchor="middle">22</text>
<polygon points="343.3,196.5 359.6,168.2 392.4,168.2 408.7,196.5 392.4,224.8 359.6,224.8" fill="#231815" stroke="none" stroke-width="0"/>
<text x="376" y="208.7" font-size="33" fill="#fff" stroke="#fff" text-anchor="middle">21</text>
<line x1="362.0" y1="229.0" x2="325.0" y2="296.0" stroke="#231815" stroke-width="2.4" stroke-linecap="butt"/>
<rect x="469.0" y="546.0" width="38" height="38" rx="6" fill="#231815"/>
<text transform="translate(479.38,576.20) scale(1.000,1)" font-size="31" fill="#fff" stroke="#fff" stroke-width="0.45">3</text>
<text transform="translate(422.08,577.50) scale(1.000,1)" font-size="35.5" fill="#231815" stroke="#231815" stroke-width="0.45">E</text>
<text transform="translate(445.76,577.50) scale(1.000,1)" font-size="35.5" fill="#231815" stroke="#231815" stroke-width="0.45">1</text>
<line x1="470.0" y1="478.0" x2="470.0" y2="539.0" stroke="#231815" stroke-width="2.4" stroke-linecap="butt"/>
<rect x="691.0" y="357.0" width="38" height="38" rx="6" fill="#231815"/>
<text transform="translate(695.52,387.20) scale(0.840,1)" font-size="31" fill="#fff" stroke="#fff" stroke-width="0.45">1</text>
<text transform="translate(710.00,387.20) scale(0.840,1)" font-size="31" fill="#fff" stroke="#fff" stroke-width="0.45">1</text>
<text transform="translate(661.86,388.50) scale(1.000,1)" font-size="35.5" fill="#231815" stroke="#231815" stroke-width="0.45">N</text>
<line x1="691.0" y1="404.0" x2="690.0" y2="476.0" stroke="#231815" stroke-width="2.4" stroke-linecap="butt"/>
<rect x="1247.0" y="510.0" width="38" height="38" rx="6" fill="#231815"/>
<text transform="translate(1251.52,540.20) scale(0.840,1)" font-size="31" fill="#fff" stroke="#fff" stroke-width="0.45">1</text>
<text transform="translate(1266.00,540.20) scale(0.840,1)" font-size="31" fill="#fff" stroke="#fff" stroke-width="0.45">2</text>
<text transform="translate(1217.86,541.50) scale(1.000,1)" font-size="35.5" fill="#231815" stroke="#231815" stroke-width="0.45">N</text>
<line x1="1247.5" y1="447.0" x2="1247.5" y2="504.0" stroke="#231815" stroke-width="2.4" stroke-linecap="butt"/>
<polygon points="537.0,374.0 582.0,374.0 582.0,355.0 635.0,391.0 582.0,427.0 582.0,407.0 537.0,407.0" fill="#1a1311" stroke="none" stroke-width="0"/>
<line x1="417.0" y1="316.0" x2="313.0" y2="316.8" stroke="#fff" stroke-width="5.6" stroke-linecap="butt"/>
<line x1="417.0" y1="316.0" x2="313.0" y2="316.8" stroke="#231815" stroke-width="2.4" stroke-linecap="butt"/>
<polygon points="287.0,317.0 314.9,309.8 315.1,323.8" fill="#231815" stroke="#fff" stroke-width="2.2"/>
<polygon points="287.0,317.0 314.9,309.8 315.1,323.8" fill="#231815" stroke="none" stroke-width="0"/>
<line x1="427.0" y1="425.0" x2="316.0" y2="426.6" stroke="#fff" stroke-width="5.6" stroke-linecap="butt"/>
<line x1="427.0" y1="425.0" x2="316.0" y2="426.6" stroke="#231815" stroke-width="2.4" stroke-linecap="butt"/>
<polygon points="290.0,427.0 317.9,419.6 318.1,433.6" fill="#231815" stroke="#fff" stroke-width="2.2"/>
<polygon points="290.0,427.0 317.9,419.6 318.1,433.6" fill="#231815" stroke="none" stroke-width="0"/>
<line x1="890.0" y1="422.0" x2="728.0" y2="489.9" stroke="#fff" stroke-width="5.6" stroke-linecap="butt"/>
<line x1="890.0" y1="422.0" x2="728.0" y2="489.9" stroke="#231815" stroke-width="2.4" stroke-linecap="butt"/>
<polygon points="704.0,500.0 727.1,482.7 732.5,495.6" fill="#231815" stroke="#fff" stroke-width="2.2"/>
<polygon points="704.0,500.0 727.1,482.7 732.5,495.6" fill="#231815" stroke="none" stroke-width="0"/>
<line x1="1050.0" y1="425.0" x2="893.2" y2="487.4" stroke="#fff" stroke-width="5.6" stroke-linecap="butt"/>
<line x1="1050.0" y1="425.0" x2="893.2" y2="487.4" stroke="#231815" stroke-width="2.4" stroke-linecap="butt"/>
<polygon points="869.0,497.0 892.4,480.1 897.6,493.2" fill="#231815" stroke="#fff" stroke-width="2.2"/>
<polygon points="869.0,497.0 892.4,480.1 897.6,493.2" fill="#231815" stroke="none" stroke-width="0"/>
<line x1="1067.0" y1="340.0" x2="1106.1" y2="323.2" stroke="#fff" stroke-width="5.6" stroke-linecap="butt"/>
<line x1="1067.0" y1="340.0" x2="1106.1" y2="323.2" stroke="#231815" stroke-width="2.4" stroke-linecap="butt"/>
<polygon points="1130.0,313.0 1107.0,330.5 1101.5,317.6" fill="#231815" stroke="#fff" stroke-width="2.2"/>
<polygon points="1130.0,313.0 1107.0,330.5 1101.5,317.6" fill="#231815" stroke="none" stroke-width="0"/>
<line x1="1070.0" y1="412.0" x2="1252.8" y2="339.6" stroke="#fff" stroke-width="5.6" stroke-linecap="butt"/>
<line x1="1070.0" y1="412.0" x2="1252.8" y2="339.6" stroke="#231815" stroke-width="2.4" stroke-linecap="butt"/>
<polygon points="1277.0,330.0 1253.5,346.8 1248.4,333.8" fill="#231815" stroke="#fff" stroke-width="2.2"/>
<polygon points="1277.0,330.0 1253.5,346.8 1248.4,333.8" fill="#231815" stroke="none" stroke-width="0"/>
<line x1="1065.0" y1="487.0" x2="1175.9" y2="441.8" stroke="#fff" stroke-width="5.6" stroke-linecap="butt"/>
<line x1="1065.0" y1="487.0" x2="1175.9" y2="441.8" stroke="#231815" stroke-width="2.4" stroke-linecap="butt"/>
<polygon points="1200.0,432.0 1176.7,449.0 1171.4,436.1" fill="#231815" stroke="#fff" stroke-width="2.2"/>
<polygon points="1200.0,432.0 1176.7,449.0 1171.4,436.1" fill="#231815" stroke="none" stroke-width="0"/>
<line x1="897.0" y1="565.0" x2="1010.0" y2="515.0" stroke="#231815" stroke-width="2.4" stroke-linecap="butt"/>
<line x1="794.0" y1="607.0" x2="850.0" y2="582.0" stroke="#231815" stroke-width="2.4" stroke-linecap="butt"/>
<polygon points="1358.3,163.5 1377.2,130.9 1414.8,130.9 1433.7,163.5 1414.8,196.1 1377.2,196.1" fill="#231815" stroke="none" stroke-width="0"/>
<text x="1396" y="177" font-size="37" fill="#fff" stroke="#fff" text-anchor="middle">23</text>
<polygon points="1626.3,196.5 1642.7,168.2 1675.3,168.2 1691.7,196.5 1675.3,224.8 1642.7,224.8" fill="#231815" stroke="none" stroke-width="0"/>
<text x="1659" y="208.7" font-size="33" fill="#fff" stroke="#fff" text-anchor="middle">22</text>
<line x1="1658.0" y1="229.0" x2="1662.0" y2="272.0" stroke="#231815" stroke-width="2.4" stroke-linecap="butt"/>
<rect x="1856.5" y="132.5" width="199.5" height="206.5" rx="15" fill="none" stroke="#231815" stroke-width="2.4"/>
<text x="1890" y="370.5" font-size="23.5" fill="#231815" textLength="104">*注意安装</text>
<rect x="2005.5" y="350.5" width="50" height="50" rx="3" fill="#3e3a39"/>
<path d="M2023.9,359.5 Q2023.9,355.0 2030.5,355.0 Q2037.1,355.0 2037.1,359.5 L2033.5,382.5 Q2030.5,385.5 2027.5,382.5 Z" fill="#fff" stroke="#231815" stroke-width="1"/>
<circle cx="2030.5" cy="390.5" r="4.4" fill="#fff" stroke="#231815" stroke-width="1"/>
<rect x="1449.0" y="370.0" width="38" height="38" rx="6" fill="#231815"/>
<text transform="translate(1459.38,400.20) scale(1.000,1)" font-size="31" fill="#fff" stroke="#fff" stroke-width="0.45">4</text>
<text transform="translate(1402.08,401.50) scale(1.000,1)" font-size="35.5" fill="#231815" stroke="#231815" stroke-width="0.45">B</text>
<text transform="translate(1425.76,401.50) scale(1.000,1)" font-size="35.5" fill="#231815" stroke="#231815" stroke-width="0.45">4</text>
<line x1="1441.5" y1="409.0" x2="1441.5" y2="459.0" stroke="#231815" stroke-width="2.4" stroke-linecap="butt"/>
<rect x="1908.5" y="422.0" width="38" height="38" rx="6" fill="#231815"/>
<text transform="translate(1918.88,452.20) scale(1.000,1)" font-size="31" fill="#fff" stroke="#fff" stroke-width="0.45">3</text>
<text transform="translate(1861.58,453.50) scale(1.000,1)" font-size="35.5" fill="#231815" stroke="#231815" stroke-width="0.45">B</text>
<text transform="translate(1885.26,453.50) scale(1.000,1)" font-size="35.5" fill="#231815" stroke="#231815" stroke-width="0.45">4</text>
<line x1="1917.5" y1="465.0" x2="1917.5" y2="509.0" stroke="#231815" stroke-width="2.4" stroke-linecap="butt"/>
<line x1="1456.0" y1="502.5" x2="1533.1" y2="507.4" stroke="#fff" stroke-width="5.6" stroke-linecap="butt"/>
<line x1="1456.0" y1="502.5" x2="1533.1" y2="507.4" stroke="#231815" stroke-width="2.4" stroke-linecap="butt"/>
<polygon points="1559.0,509.0 1530.6,514.2 1531.5,500.3" fill="#231815" stroke="#fff" stroke-width="2.2"/>
<polygon points="1559.0,509.0 1530.6,514.2 1531.5,500.3" fill="#231815" stroke="none" stroke-width="0"/>
<line x1="1875.0" y1="539.0" x2="1793.4" y2="532.9" stroke="#fff" stroke-width="5.6" stroke-linecap="butt"/>
<line x1="1875.0" y1="539.0" x2="1793.4" y2="532.9" stroke="#231815" stroke-width="2.4" stroke-linecap="butt"/>
<polygon points="1767.5,531.0 1795.9,526.1 1794.9,540.1" fill="#231815" stroke="#fff" stroke-width="2.2"/>
<polygon points="1767.5,531.0 1795.9,526.1 1794.9,540.1" fill="#231815" stroke="none" stroke-width="0"/>
<polygon points="129.8,754.0 148.7,721.4 186.3,721.4 205.2,754.0 186.3,786.6 148.7,786.6" fill="#231815" stroke="none" stroke-width="0"/>
<text x="167.5" y="767.5" font-size="37" fill="#fff" stroke="#fff" text-anchor="middle">24</text>
<rect x="220.0" y="721.0" width="150.0" height="125.5" rx="13" fill="none" stroke="#231815" stroke-width="2.4"/>
<text x="205" y="880.5" font-size="23.5" fill="#231815" textLength="104">*注意安装</text>
<rect x="320.0" y="859.0" width="50" height="50" rx="3" fill="#3e3a39"/>
<path d="M338.4,868.0 Q338.4,863.5 345.0,863.5 Q351.6,863.5 351.6,868.0 L348.0,891.0 Q345.0,894.0 342.0,891.0 Z" fill="#fff" stroke="#231815" stroke-width="1"/>
<circle cx="345.0" cy="899.0" r="4.4" fill="#fff" stroke="#231815" stroke-width="1"/>
<polygon points="400.8,758.5 417.1,730.2 449.9,730.2 466.2,758.5 449.9,786.8 417.1,786.8" fill="#231815" stroke="none" stroke-width="0"/>
<text x="433.5" y="770.7" font-size="33" fill="#fff" stroke="#fff" text-anchor="middle">23</text>
<line x1="463.5" y1="775.0" x2="490.0" y2="791.5" stroke="#231815" stroke-width="2.4" stroke-linecap="butt"/>
<rect x="325.5" y="957.0" width="38" height="38" rx="6" fill="#231815"/>
<text transform="translate(330.02,987.20) scale(0.840,1)" font-size="31" fill="#fff" stroke="#fff" stroke-width="0.45">1</text>
<text transform="translate(344.50,987.20) scale(0.840,1)" font-size="31" fill="#fff" stroke="#fff" stroke-width="0.45">8</text>
<text transform="translate(278.58,988.50) scale(1.000,1)" font-size="35.5" fill="#231815" stroke="#231815" stroke-width="0.45">B</text>
<text transform="translate(302.26,988.50) scale(1.000,1)" font-size="35.5" fill="#231815" stroke="#231815" stroke-width="0.45">4</text>
<line x1="323.5" y1="1001.0" x2="323.5" y2="1070.0" stroke="#231815" stroke-width="2.4" stroke-linecap="butt"/>
<rect x="179.0" y="1030.0" width="38" height="38" rx="6" fill="#231815"/>
<text transform="translate(189.38,1060.20) scale(1.000,1)" font-size="31" fill="#fff" stroke="#fff" stroke-width="0.45">6</text>
<text transform="translate(126.18,1061.50) scale(1.000,1)" font-size="35.5" fill="#231815" stroke="#231815" stroke-width="0.45">M</text>
<text transform="translate(155.76,1061.50) scale(1.000,1)" font-size="35.5" fill="#231815" stroke="#231815" stroke-width="0.45">1</text>
<line x1="166.0" y1="1074.0" x2="166.0" y2="1129.0" stroke="#231815" stroke-width="2.4" stroke-linecap="butt"/>
<line x1="502.5" y1="1009.0" x2="373.1" y2="1054.0" stroke="#fff" stroke-width="5.6" stroke-linecap="butt"/>
<line x1="502.5" y1="1009.0" x2="373.1" y2="1054.0" stroke="#231815" stroke-width="2.4" stroke-linecap="butt"/>
<polygon points="348.5,1062.5 372.7,1046.7 377.2,1059.9" fill="#231815" stroke="#fff" stroke-width="2.2"/>
<polygon points="348.5,1062.5 372.7,1046.7 377.2,1059.9" fill="#231815" stroke="none" stroke-width="0"/>
<line x1="580.0" y1="1017.5" x2="466.5" y2="1065.0" stroke="#fff" stroke-width="5.6" stroke-linecap="butt"/>
<line x1="580.0" y1="1017.5" x2="466.5" y2="1065.0" stroke="#231815" stroke-width="2.4" stroke-linecap="butt"/>
<polygon points="442.5,1075.0 465.6,1057.7 471.0,1070.7" fill="#231815" stroke="#fff" stroke-width="2.2"/>
<polygon points="442.5,1075.0 465.6,1057.7 471.0,1070.7" fill="#231815" stroke="none" stroke-width="0"/>
<line x1="202.5" y1="1141.5" x2="302.0" y2="1122.4" stroke="#fff" stroke-width="5.6" stroke-linecap="butt"/>
<line x1="202.5" y1="1141.5" x2="302.0" y2="1122.4" stroke="#231815" stroke-width="2.4" stroke-linecap="butt"/>
<polygon points="327.5,1117.5 301.3,1129.7 298.7,1115.9" fill="#231815" stroke="#fff" stroke-width="2.2"/>
<polygon points="327.5,1117.5 301.3,1129.7 298.7,1115.9" fill="#231815" stroke="none" stroke-width="0"/>
<rect x="721.5" y="722.5" width="319.5" height="476.5" rx="15" fill="none" stroke="#231815" stroke-width="2.4"/>
<rect x="736.0" y="1066.0" width="50" height="50" rx="3" fill="#3e3a39"/>
<path d="M754.4,1075.0 Q754.4,1070.5 761.0,1070.5 Q767.6,1070.5 767.6,1075.0 L764.0,1098.0 Q761.0,1101.0 758.0,1098.0 Z" fill="#fff" stroke="#231815" stroke-width="1"/>
<circle cx="761.0" cy="1106.0" r="4.4" fill="#fff" stroke="#231815" stroke-width="1"/>
<text x="792.5" y="1085.5" font-size="23.5" fill="#231815" textLength="221.5">*注意先需两边零件向</text>
<text x="808" y="1112.5" font-size="23.5" fill="#231815" textLength="216.5">中间挤压在进行安装!</text>
<text x="737" y="1149" font-size="26.5" fill="#231815" stroke="#231815" stroke-width="0.5" textLength="282" lengthAdjust="spacingAndGlyphs">* PUSH 2 SIDES PARTS TO THE</text>
<text x="747" y="1176" font-size="26.5" fill="#231815" stroke="#231815" stroke-width="0.5" textLength="233" lengthAdjust="spacingAndGlyphs">MIDDLE BEFORE INSTALL</text>
<line x1="841.5" y1="857.5" x2="841.5" y2="835.0" stroke="#231815" stroke-width="2.4" stroke-linecap="butt"/>
<polygon points="841.5,815.0 847.0,837.0 836.0,837.0" fill="#231815" stroke="none" stroke-width="0"/>
<line x1="916.5" y1="857.5" x2="916.5" y2="835.0" stroke="#231815" stroke-width="2.4" stroke-linecap="butt"/>
<polygon points="916.5,815.0 922.0,837.0 911.0,837.0" fill="#231815" stroke="none" stroke-width="0"/>
<polygon points="741.0,859.0 780.0,859.0 780.0,851.0 800.0,865.0 780.0,879.0 780.0,871.0 741.0,871.0" fill="#1a1311" stroke="none" stroke-width="0"/>
<polygon points="1018.5,859.0 981.0,859.0 981.0,851.0 961.5,865.0 981.0,879.0 981.0,871.0 1018.5,871.0" fill="#1a1311" stroke="none" stroke-width="0"/>
<polygon points="1015.0,916.0 1060.0,916.0 1060.0,894.0 1110.0,934.0 1060.0,972.0 1060.0,951.5 1015.0,951.5" fill="#1a1311" stroke="none" stroke-width="0"/>
<rect x="1440.5" y="901.5" width="38" height="38" rx="6" fill="#231815"/>
<text transform="translate(1445.02,931.70) scale(0.840,1)" font-size="31" fill="#fff" stroke="#fff" stroke-width="0.45">1</text>
<text transform="translate(1459.50,931.70) scale(0.840,1)" font-size="31" fill="#fff" stroke="#fff" stroke-width="0.45">3</text>
<text transform="translate(1393.58,933.00) scale(1.000,1)" font-size="35.5" fill="#231815" stroke="#231815" stroke-width="0.45">E</text>
<text transform="translate(1417.26,933.00) scale(1.000,1)" font-size="35.5" fill="#231815" stroke="#231815" stroke-width="0.45">1</text>
<line x1="1440.0" y1="942.5" x2="1440.0" y2="1015.0" stroke="#231815" stroke-width="2.4" stroke-linecap="butt"/>
<line x1="1395.0" y1="1035.0" x2="1316.0" y2="1035.0" stroke="#fff" stroke-width="5.6" stroke-linecap="butt"/>
<line x1="1395.0" y1="1035.0" x2="1316.0" y2="1035.0" stroke="#231815" stroke-width="2.4" stroke-linecap="butt"/>
<polygon points="1290.0,1035.0 1318.0,1028.0 1318.0,1042.0" fill="#231815" stroke="#fff" stroke-width="2.2"/>
<polygon points="1290.0,1035.0 1318.0,1028.0 1318.0,1042.0" fill="#231815" stroke="none" stroke-width="0"/>
<polygon points="1526.7,754.0 1545.6,721.4 1583.2,721.4 1602.1,754.0 1583.2,786.6 1545.6,786.6" fill="#231815" stroke="none" stroke-width="0"/>
<text x="1564.4" y="767.5" font-size="37" fill="#fff" stroke="#fff" text-anchor="middle">25</text>
<polygon points="1889.0,857.0 1905.4,828.7 1938.0,828.7 1954.4,857.0 1938.0,885.3 1905.4,885.3" fill="#231815" stroke="none" stroke-width="0"/>
<text x="1921.7" y="869.2" font-size="33" fill="#fff" stroke="#fff" text-anchor="middle">24</text>
<line x1="1819.6" y1="858.0" x2="1880.0" y2="858.0" stroke="#231815" stroke-width="2.4" stroke-linecap="butt"/>
<line x1="1971.7" y1="1039.4" x2="1880.0" y2="1039.4" stroke="#fff" stroke-width="5.6" stroke-linecap="butt"/>
<line x1="1971.7" y1="1039.4" x2="1880.0" y2="1039.4" stroke="#231815" stroke-width="2.4" stroke-linecap="butt"/>
<polygon points="1854.0,1039.4 1882.0,1032.4 1882.0,1046.4" fill="#231815" stroke="#fff" stroke-width="2.2"/>
<polygon points="1854.0,1039.4 1882.0,1032.4 1882.0,1046.4" fill="#231815" stroke="none" stroke-width="0"/>
<rect x="1586.5" y="1126.5" width="38" height="38" rx="6" fill="#231815"/>
<text transform="translate(1591.02,1156.70) scale(0.840,1)" font-size="31" fill="#fff" stroke="#fff" stroke-width="0.45">1</text>
<text transform="translate(1605.50,1156.70) scale(0.840,1)" font-size="31" fill="#fff" stroke="#fff" stroke-width="0.45">9</text>
<text transform="translate(1539.58,1158.00) scale(1.000,1)" font-size="35.5" fill="#231815" stroke="#231815" stroke-width="0.45">B</text>
<text transform="translate(1563.26,1158.00) scale(1.000,1)" font-size="35.5" fill="#231815" stroke="#231815" stroke-width="0.45">4</text>
<line x1="1628.0" y1="1125.8" x2="1727.8" y2="1055.6" stroke="#231815" stroke-width="2.4" stroke-linecap="butt"/>
<rect x="2007.6" y="1142.0" width="38" height="38" rx="6" fill="#231815"/>
<text transform="translate(2012.12,1172.20) scale(0.840,1)" font-size="31" fill="#fff" stroke="#fff" stroke-width="0.45">2</text>
<text transform="translate(2026.60,1172.20) scale(0.840,1)" font-size="31" fill="#fff" stroke="#fff" stroke-width="0.45">0</text>
<text transform="translate(1960.68,1173.50) scale(1.000,1)" font-size="35.5" fill="#231815" stroke="#231815" stroke-width="0.45">B</text>
<text transform="translate(1984.36,1173.50) scale(1.000,1)" font-size="35.5" fill="#231815" stroke="#231815" stroke-width="0.45">4</text>
<line x1="2014.4" y1="1088.5" x2="2014.4" y2="1135.6" stroke="#231815" stroke-width="2.4" stroke-linecap="butt"/>
<polygon points="129.5,1265.2 148.3,1232.6 186.0,1232.6 204.9,1265.2 186.0,1297.8 148.3,1297.8" fill="#231815" stroke="none" stroke-width="0"/>
<text x="167.2" y="1278.7" font-size="37" fill="#fff" stroke="#fff" text-anchor="middle">26</text>
<polygon points="510.8,1415.3 527.1,1387.0 559.9,1387.0 576.2,1415.3 559.9,1443.6 527.1,1443.6" fill="#231815" stroke="none" stroke-width="0"/>
<text x="543.5" y="1427.5" font-size="33" fill="#fff" stroke="#fff" text-anchor="middle">17</text>
<line x1="410.0" y1="1416.0" x2="503.4" y2="1416.0" stroke="#231815" stroke-width="2.4" stroke-linecap="butt"/>
<path d="M556.3,1566.2 V1512.2 H416.2 V1649 H272.1 V1604" fill="none" stroke="#231815" stroke-width="2.4"/>
<polygon points="272.1,1580.2 278.6,1606.2 265.6,1606.2" fill="#231815" stroke="none" stroke-width="0"/>
<polygon points="278.2,1825.6 294.5,1797.3 327.2,1797.3 343.6,1825.6 327.2,1853.9 294.5,1853.9" fill="#231815" stroke="none" stroke-width="0"/>
<text x="310.9" y="1837.8" font-size="33" fill="#fff" stroke="#fff" text-anchor="middle">25</text>
<line x1="349.0" y1="1825.2" x2="419.0" y2="1825.2" stroke="#231815" stroke-width="2.4" stroke-linecap="butt"/>
<polygon points="742.9,1265.3 761.8,1232.7 799.5,1232.7 818.3,1265.3 799.5,1297.9 761.8,1297.9" fill="#231815" stroke="none" stroke-width="0"/>
<text x="780.6" y="1278.8" font-size="37" fill="#fff" stroke="#fff" text-anchor="middle">27</text>
<text x="828.8" y="1257" font-size="31" fill="#231815" textLength="156" lengthAdjust="spacingAndGlyphs">ARMS UNIT</text>
<text x="825" y="1295.5" font-size="31.4" fill="#231815" textLength="186">武装手部组装</text>
<rect x="1026.2" y="1232.7" width="8" height="63.5" fill="#000"/>
<rect x="1190.0" y="1275.5" width="38" height="38" rx="6" fill="#231815"/>
<text transform="translate(1200.38,1305.70) scale(1.000,1)" font-size="31" fill="#fff" stroke="#fff" stroke-width="0.45">1</text>
<text transform="translate(1145.07,1307.00) scale(1.000,1)" font-size="35.5" fill="#231815" stroke="#231815" stroke-width="0.45">F</text>
<text transform="translate(1166.76,1307.00) scale(1.000,1)" font-size="35.5" fill="#231815" stroke="#231815" stroke-width="0.45">2</text>
<line x1="1188.7" y1="1317.0" x2="1188.7" y2="1359.9" stroke="#231815" stroke-width="2.4" stroke-linecap="butt"/>
<rect x="948.5" y="1310.5" width="38" height="38" rx="6" fill="#231815"/>
<text transform="translate(958.88,1340.70) scale(1.000,1)" font-size="31" fill="#fff" stroke="#fff" stroke-width="0.45">2</text>
<text transform="translate(903.57,1342.00) scale(1.000,1)" font-size="35.5" fill="#231815" stroke="#231815" stroke-width="0.45">F</text>
<text transform="translate(925.26,1342.00) scale(1.000,1)" font-size="35.5" fill="#231815" stroke="#231815" stroke-width="0.45">2</text>
<line x1="907.1" y1="1352.6" x2="879.9" y2="1385.3" stroke="#231815" stroke-width="2.4" stroke-linecap="butt"/>
<rect x="1017.5" y="1503.0" width="38" height="38" rx="6" fill="#231815"/>
<text transform="translate(1027.88,1533.20) scale(1.000,1)" font-size="31" fill="#fff" stroke="#fff" stroke-width="0.45">5</text>
<text transform="translate(972.57,1534.50) scale(1.000,1)" font-size="35.5" fill="#231815" stroke="#231815" stroke-width="0.45">F</text>
<text transform="translate(994.26,1534.50) scale(1.000,1)" font-size="35.5" fill="#231815" stroke="#231815" stroke-width="0.45">2</text>
<line x1="1018.6" y1="1452.5" x2="1018.6" y2="1499.7" stroke="#231815" stroke-width="2.4" stroke-linecap="butt"/>
<line x1="1172.3" y1="1399.1" x2="1084.4" y2="1405.3" stroke="#231815" stroke-width="2.4" stroke-linecap="butt"/>
<line x1="1016.1" y1="1410.7" x2="919.7" y2="1415.9" stroke="#fff" stroke-width="5.6" stroke-linecap="butt"/>
<line x1="1016.1" y1="1410.7" x2="919.7" y2="1415.9" stroke="#231815" stroke-width="2.4" stroke-linecap="butt"/>
<polygon points="893.7,1417.3 921.3,1408.8 922.0,1422.8" fill="#231815" stroke="#fff" stroke-width="2.2"/>
<polygon points="893.7,1417.3 921.3,1408.8 922.0,1422.8" fill="#231815" stroke="none" stroke-width="0"/>
<polygon points="742.9,1657.0 761.8,1624.4 799.5,1624.4 818.3,1657.0 799.5,1689.6 761.8,1689.6" fill="#231815" stroke="none" stroke-width="0"/>
<text x="780.6" y="1670.5" font-size="37" fill="#fff" stroke="#fff" text-anchor="middle">28</text>
<rect x="877.0" y="1651.5" width="38" height="38" rx="6" fill="#231815"/>
<text transform="translate(887.38,1681.70) scale(1.000,1)" font-size="31" fill="#fff" stroke="#fff" stroke-width="0.45">3</text>
<text transform="translate(832.07,1683.00) scale(1.000,1)" font-size="35.5" fill="#231815" stroke="#231815" stroke-width="0.45">F</text>
<text transform="translate(853.76,1683.00) scale(1.000,1)" font-size="35.5" fill="#231815" stroke="#231815" stroke-width="0.45">2</text>
<line x1="872.6" y1="1696.6" x2="865.3" y2="1741.3" stroke="#231815" stroke-width="2.4" stroke-linecap="butt"/>
<rect x="1180.0" y="1665.5" width="38" height="38" rx="6" fill="#231815"/>
<text transform="translate(1190.38,1695.70) scale(1.000,1)" font-size="31" fill="#fff" stroke="#fff" stroke-width="0.45">4</text>
<text transform="translate(1135.07,1697.00) scale(1.000,1)" font-size="35.5" fill="#231815" stroke="#231815" stroke-width="0.45">F</text>
<text transform="translate(1156.76,1697.00) scale(1.000,1)" font-size="35.5" fill="#231815" stroke="#231815" stroke-width="0.45">2</text>
<line x1="1178.5" y1="1711.5" x2="1178.5" y2="1764.2" stroke="#231815" stroke-width="2.4" stroke-linecap="butt"/>
<rect x="1033.5" y="1904.5" width="38" height="38" rx="6" fill="#231815"/>
<text transform="translate(1043.88,1934.70) scale(1.000,1)" font-size="31" fill="#fff" stroke="#fff" stroke-width="0.45">6</text>
<text transform="translate(988.57,1936.00) scale(1.000,1)" font-size="35.5" fill="#231815" stroke="#231815" stroke-width="0.45">F</text>
<text transform="translate(1010.26,1936.00) scale(1.000,1)" font-size="35.5" fill="#231815" stroke="#231815" stroke-width="0.45">2</text>
<line x1="1029.5" y1="1834.0" x2="1029.5" y2="1899.4" stroke="#231815" stroke-width="2.4" stroke-linecap="butt"/>
<line x1="870.8" y1="1781.3" x2="958.0" y2="1784.9" stroke="#231815" stroke-width="2.4" stroke-linecap="butt"/>
<line x1="1034.3" y1="1790.4" x2="1122.7" y2="1794.6" stroke="#fff" stroke-width="5.6" stroke-linecap="butt"/>
<line x1="1034.3" y1="1790.4" x2="1122.7" y2="1794.6" stroke="#231815" stroke-width="2.4" stroke-linecap="butt"/>
<polygon points="1148.7,1795.8 1120.4,1801.5 1121.1,1787.5" fill="#231815" stroke="#fff" stroke-width="2.2"/>
<polygon points="1148.7,1795.8 1120.4,1801.5 1121.1,1787.5" fill="#231815" stroke="none" stroke-width="0"/>
<polygon points="1304.4,1265.6 1323.2,1233.0 1360.9,1233.0 1379.8,1265.6 1360.9,1298.2 1323.2,1298.2" fill="#231815" stroke="none" stroke-width="0"/>
<text x="1342.1" y="1279.1" font-size="37" fill="#fff" stroke="#fff" text-anchor="middle">29</text>
<rect x="1478.4" y="1239.4" width="151.5" height="180.2" rx="15" fill="none" stroke="#231815" stroke-width="2.4"/>
<rect x="1417.3" y="1335.0" width="50" height="50" rx="3" fill="#3e3a39"/>
<path d="M1435.7,1344.0 Q1435.7,1339.5 1442.3,1339.5 Q1448.9,1339.5 1448.9,1344.0 L1445.3,1367.0 Q1442.3,1370.0 1439.3,1367.0 Z" fill="#fff" stroke="#231815" stroke-width="1"/>
<circle cx="1442.3" cy="1375.0" r="4.4" fill="#fff" stroke="#231815" stroke-width="1"/>
<text x="1365" y="1415.5" font-size="23.5" fill="#231815" textLength="104">*注意安装</text>
<polygon points="1574.5,1496.4 1590.9,1468.1 1623.5,1468.1 1639.9,1496.4 1623.5,1524.7 1590.9,1524.7" fill="#231815" stroke="none" stroke-width="0"/>
<text x="1607.2" y="1508.6" font-size="33" fill="#fff" stroke="#fff" text-anchor="middle">27</text>
<line x1="1503.7" y1="1496.9" x2="1567.8" y2="1496.9" stroke="#231815" stroke-width="2.4" stroke-linecap="butt"/>
<line x1="1438.0" y1="1584.8" x2="1430.5" y2="1677.2" stroke="#231815" stroke-width="2.4" stroke-linecap="butt"/>
<line x1="1427.9" y1="1722.6" x2="1424.1" y2="1782.5" stroke="#fff" stroke-width="5.6" stroke-linecap="butt"/>
<line x1="1427.9" y1="1722.6" x2="1424.1" y2="1782.5" stroke="#231815" stroke-width="2.4" stroke-linecap="butt"/>
<polygon points="1422.4,1808.4 1417.2,1780.0 1431.2,1780.9" fill="#231815" stroke="#fff" stroke-width="2.2"/>
<polygon points="1422.4,1808.4 1417.2,1780.0 1431.2,1780.9" fill="#231815" stroke="none" stroke-width="0"/>
<rect x="1603.2" y="1683.0" width="38" height="38" rx="6" fill="#231815"/>
<text transform="translate(1613.58,1713.20) scale(1.000,1)" font-size="31" fill="#fff" stroke="#fff" stroke-width="0.45">7</text>
<text transform="translate(1556.28,1714.50) scale(1.000,1)" font-size="35.5" fill="#231815" stroke="#231815" stroke-width="0.45">B</text>
<text transform="translate(1579.96,1714.50) scale(1.000,1)" font-size="35.5" fill="#231815" stroke="#231815" stroke-width="0.45">3</text>
<line x1="1473.4" y1="1701.4" x2="1551.6" y2="1701.4" stroke="#231815" stroke-width="2.4" stroke-linecap="butt"/>
<rect x="1603.2" y="1838.5" width="38" height="38" rx="6" fill="#231815"/>
<text transform="translate(1607.72,1868.70) scale(0.840,1)" font-size="31" fill="#fff" stroke="#fff" stroke-width="0.45">1</text>
<text transform="translate(1622.20,1868.70) scale(0.840,1)" font-size="31" fill="#fff" stroke="#fff" stroke-width="0.45">1</text>
<text transform="translate(1552.34,1870.00) scale(1.000,1)" font-size="35.5" fill="#231815" stroke="#231815" stroke-width="0.45">G</text>
<text transform="translate(1579.96,1870.00) scale(1.000,1)" font-size="35.5" fill="#231815" stroke="#231815" stroke-width="0.45">1</text>
<line x1="1452.7" y1="1857.9" x2="1551.6" y2="1857.9" stroke="#231815" stroke-width="2.4" stroke-linecap="butt"/>
<polygon points="1709.3,1265.6 1728.2,1233.0 1765.8,1233.0 1784.7,1265.6 1765.8,1298.2 1728.2,1298.2" fill="#231815" stroke="none" stroke-width="0"/>
<text x="1747" y="1279.1" font-size="37" fill="#fff" stroke="#fff" text-anchor="middle">30</text>
<rect x="1793.5" y="1239.4" width="149.5" height="180.2" rx="15" fill="none" stroke="#231815" stroke-width="2.4"/>
<rect x="1955.3" y="1336.0" width="50" height="50" rx="3" fill="#3e3a39"/>
<path d="M1973.7,1345.0 Q1973.7,1340.5 1980.3,1340.5 Q1986.9,1340.5 1986.9,1345.0 L1983.3,1368.0 Q1980.3,1371.0 1977.3,1368.0 Z" fill="#fff" stroke="#231815" stroke-width="1"/>
<circle cx="1980.3" cy="1376.0" r="4.4" fill="#fff" stroke="#231815" stroke-width="1"/>
<text x="1957" y="1418" font-size="23.5" fill="#231815" textLength="104">*注意安装</text>
<polygon points="1747.2,1496.4 1763.6,1468.1 1796.2,1468.1 1812.6,1496.4 1796.2,1524.7 1763.6,1524.7" fill="#231815" stroke="none" stroke-width="0"/>
<text x="1779.9" y="1508.6" font-size="33" fill="#fff" stroke="#fff" text-anchor="middle">28</text>
<line x1="1819.3" y1="1495.4" x2="1882.4" y2="1495.4" stroke="#231815" stroke-width="2.4" stroke-linecap="butt"/>
<line x1="1954.1" y1="1583.7" x2="1963.2" y2="1677.2" stroke="#231815" stroke-width="2.4" stroke-linecap="butt"/>
<line x1="1965.7" y1="1722.6" x2="1971.7" y2="1782.5" stroke="#fff" stroke-width="5.6" stroke-linecap="butt"/>
<line x1="1965.7" y1="1722.6" x2="1971.7" y2="1782.5" stroke="#231815" stroke-width="2.4" stroke-linecap="butt"/>
<polygon points="1974.3,1808.4 1964.5,1781.2 1978.5,1779.8" fill="#231815" stroke="#fff" stroke-width="2.2"/>
<polygon points="1974.3,1808.4 1964.5,1781.2 1978.5,1779.8" fill="#231815" stroke="none" stroke-width="0"/>
<rect x="1791.5" y="1683.0" width="38" height="38" rx="6" fill="#231815"/>
<text transform="translate(1801.88,1713.20) scale(1.000,1)" font-size="31" fill="#fff" stroke="#fff" stroke-width="0.45">8</text>
<text transform="translate(1744.58,1714.50) scale(1.000,1)" font-size="35.5" fill="#231815" stroke="#231815" stroke-width="0.45">B</text>
<text transform="translate(1768.26,1714.50) scale(1.000,1)" font-size="35.5" fill="#231815" stroke="#231815" stroke-width="0.45">3</text>
<line x1="1835.4" y1="1699.9" x2="1915.2" y2="1699.9" stroke="#231815" stroke-width="2.4" stroke-linecap="butt"/>
<rect x="1791.5" y="1838.5" width="38" height="38" rx="6" fill="#231815"/>
<text transform="translate(1796.02,1868.70) scale(0.840,1)" font-size="31" fill="#fff" stroke="#fff" stroke-width="0.45">1</text>
<text transform="translate(1810.50,1868.70) scale(0.840,1)" font-size="31" fill="#fff" stroke="#fff" stroke-width="0.45">2</text>
<text transform="translate(1740.64,1870.00) scale(1.000,1)" font-size="35.5" fill="#231815" stroke="#231815" stroke-width="0.45">G</text>
<text transform="translate(1768.26,1870.00) scale(1.000,1)" font-size="35.5" fill="#231815" stroke="#231815" stroke-width="0.45">1</text>
<line x1="1835.4" y1="1855.4" x2="1935.4" y2="1855.4" stroke="#231815" stroke-width="2.4" stroke-linecap="butt"/>
<polygon points="129.7,2047.4 148.6,2014.8 186.2,2014.8 205.1,2047.4 186.2,2080.0 148.6,2080.0" fill="#231815" stroke="none" stroke-width="0"/>
<text x="167.4" y="2060.9" font-size="37" fill="#fff" stroke="#fff" text-anchor="middle">31</text>
<polygon points="349.8,2052.9 366.1,2024.6 398.9,2024.6 415.2,2052.9 398.9,2081.2 366.1,2081.2" fill="#231815" stroke="none" stroke-width="0"/>
<text x="382.5" y="2065.1" font-size="33" fill="#fff" stroke="#fff" text-anchor="middle">29</text>
<line x1="381.6" y1="2085.7" x2="381.6" y2="2134.9" stroke="#231815" stroke-width="2.4" stroke-linecap="butt"/>
<line x1="182.0" y1="2269.3" x2="182.0" y2="2324.0" stroke="#231815" stroke-width="2.4" stroke-linecap="butt"/>
<rect x="191.0" y="2331.0" width="38" height="38" rx="6" fill="#231815"/>
<text transform="translate(201.38,2361.20) scale(1.000,1)" font-size="31" fill="#fff" stroke="#fff" stroke-width="0.45">5</text>
<text transform="translate(144.08,2362.50) scale(1.000,1)" font-size="35.5" fill="#231815" stroke="#231815" stroke-width="0.45">B</text>
<text transform="translate(167.76,2362.50) scale(1.000,1)" font-size="35.5" fill="#231815" stroke="#231815" stroke-width="0.45">3</text>
<line x1="326.5" y1="2221.5" x2="210.1" y2="2205.5" stroke="#fff" stroke-width="5.6" stroke-linecap="butt"/>
<line x1="326.5" y1="2221.5" x2="210.1" y2="2205.5" stroke="#231815" stroke-width="2.4" stroke-linecap="butt"/>
<polygon points="184.3,2201.9 213.0,2198.8 211.1,2212.7" fill="#231815" stroke="#fff" stroke-width="2.2"/>
<polygon points="184.3,2201.9 213.0,2198.8 211.1,2212.7" fill="#231815" stroke="none" stroke-width="0"/>
<polygon points="481.5,2047.4 500.4,2014.8 538.1,2014.8 556.9,2047.4 538.1,2080.0 500.4,2080.0" fill="#231815" stroke="none" stroke-width="0"/>
<text x="519.2" y="2060.9" font-size="37" fill="#fff" stroke="#fff" text-anchor="middle">32</text>
<polygon points="602.7,2067.9 619.0,2039.6 651.8,2039.6 668.1,2067.9 651.8,2096.2 619.0,2096.2" fill="#231815" stroke="none" stroke-width="0"/>
<text x="635.4" y="2080.1" font-size="33" fill="#fff" stroke="#fff" text-anchor="middle">30</text>
<line x1="614.9" y1="2100.7" x2="583.9" y2="2140.4" stroke="#231815" stroke-width="2.4" stroke-linecap="butt"/>
<line x1="609.4" y1="2221.5" x2="726.7" y2="2205.4" stroke="#fff" stroke-width="5.6" stroke-linecap="butt"/>
<line x1="609.4" y1="2221.5" x2="726.7" y2="2205.4" stroke="#231815" stroke-width="2.4" stroke-linecap="butt"/>
<polygon points="752.5,2201.9 725.7,2212.6 723.8,2198.8" fill="#231815" stroke="#fff" stroke-width="2.2"/>
<polygon points="752.5,2201.9 725.7,2212.6 723.8,2198.8" fill="#231815" stroke="none" stroke-width="0"/>
<line x1="754.8" y1="2268.0" x2="754.8" y2="2314.9" stroke="#231815" stroke-width="2.4" stroke-linecap="butt"/>
<rect x="743.6" y="2323.5" width="38" height="38" rx="6" fill="#231815"/>
<text transform="translate(753.98,2353.70) scale(1.000,1)" font-size="31" fill="#fff" stroke="#fff" stroke-width="0.45">6</text>
<text transform="translate(696.68,2355.00) scale(1.000,1)" font-size="35.5" fill="#231815" stroke="#231815" stroke-width="0.45">B</text>
<text transform="translate(720.36,2355.00) scale(1.000,1)" font-size="35.5" fill="#231815" stroke="#231815" stroke-width="0.45">3</text>
<polygon points="831.3,2047.9 850.1,2015.3 887.9,2015.3 906.7,2047.9 887.9,2080.5 850.1,2080.5" fill="#231815" stroke="none" stroke-width="0"/>
<text x="869" y="2061.4" font-size="37" fill="#fff" stroke="#fff" text-anchor="middle">33</text>
<text x="914.5" y="2061.3" font-size="34" fill="#231815" textLength="40">X2</text>
<rect x="1114.5" y="2014.5" width="50" height="50" rx="3" fill="#3e3a39"/>
<path d="M1132.9,2023.5 Q1132.9,2019.0 1139.5,2019.0 Q1146.1,2019.0 1146.1,2023.5 L1142.5,2046.5 Q1139.5,2049.5 1136.5,2046.5 Z" fill="#fff" stroke="#231815" stroke-width="1"/>
<circle cx="1139.5" cy="2054.5" r="4.4" fill="#fff" stroke="#231815" stroke-width="1"/>
<text x="1062.5" y="2093.3" font-size="23.5" fill="#231815" textLength="104">*注意安装</text>
<rect x="1171.4" y="2015.5" width="142.4" height="141.4" rx="15" fill="none" stroke="#231815" stroke-width="2.4"/>
<rect x="902.5" y="2120.5" width="38" height="38" rx="6" fill="#231815"/>
<text transform="translate(907.02,2150.70) scale(0.840,1)" font-size="31" fill="#fff" stroke="#fff" stroke-width="0.45">1</text>
<text transform="translate(921.50,2150.70) scale(0.840,1)" font-size="31" fill="#fff" stroke="#fff" stroke-width="0.45">0</text>
<text transform="translate(853.62,2152.00) scale(1.000,1)" font-size="35.5" fill="#231815" stroke="#231815" stroke-width="0.45">H</text>
<text transform="translate(879.26,2152.00) scale(1.000,1)" font-size="35.5" fill="#231815" stroke="#231815" stroke-width="0.45">2</text>
<line x1="917.9" y1="2166.2" x2="917.9" y2="2217.9" stroke="#231815" stroke-width="2.4" stroke-linecap="butt"/>
<rect x="1033.0" y="2106.5" width="38" height="38" rx="6" fill="#231815"/>
<text transform="translate(1037.52,2136.70) scale(0.840,1)" font-size="31" fill="#fff" stroke="#fff" stroke-width="0.45">1</text>
<text transform="translate(1052.00,2136.70) scale(0.840,1)" font-size="31" fill="#fff" stroke="#fff" stroke-width="0.45">0</text>
<text transform="translate(984.12,2138.00) scale(1.000,1)" font-size="35.5" fill="#231815" stroke="#231815" stroke-width="0.45">H</text>
<text transform="translate(1009.76,2138.00) scale(1.000,1)" font-size="35.5" fill="#231815" stroke="#231815" stroke-width="0.45">1</text>
<line x1="1034.5" y1="2151.4" x2="1052.8" y2="2186.9" stroke="#231815" stroke-width="2.4" stroke-linecap="butt"/>
<rect x="1243.3" y="2176.5" width="38" height="38" rx="6" fill="#231815"/>
<text transform="translate(1253.68,2206.70) scale(1.000,1)" font-size="31" fill="#fff" stroke="#fff" stroke-width="0.45">9</text>
<text transform="translate(1194.42,2208.00) scale(1.000,1)" font-size="35.5" fill="#231815" stroke="#231815" stroke-width="0.45">H</text>
<text transform="translate(1220.06,2208.00) scale(1.000,1)" font-size="35.5" fill="#231815" stroke="#231815" stroke-width="0.45">2</text>
<line x1="1240.3" y1="2215.5" x2="1240.3" y2="2266.2" stroke="#231815" stroke-width="2.4" stroke-linecap="butt"/>
<line x1="941.4" y1="2252.4" x2="1031.0" y2="2264.5" stroke="#231815" stroke-width="2.4" stroke-linecap="butt"/>
<line x1="1072.4" y1="2270.7" x2="1175.9" y2="2285.0" stroke="#fff" stroke-width="5.6" stroke-linecap="butt"/>
<line x1="1072.4" y1="2270.7" x2="1175.9" y2="2285.0" stroke="#231815" stroke-width="2.4" stroke-linecap="butt"/>
<polygon points="1201.7,2288.6 1173.0,2291.7 1174.9,2277.8" fill="#231815" stroke="#fff" stroke-width="2.2"/>
<polygon points="1201.7,2288.6 1173.0,2291.7 1174.9,2277.8" fill="#231815" stroke="none" stroke-width="0"/>
<line x1="950.7" y1="2299.0" x2="1177.0" y2="2329.9" stroke="#fff" stroke-width="5.6" stroke-linecap="butt"/>
<line x1="950.7" y1="2299.0" x2="1177.0" y2="2329.9" stroke="#231815" stroke-width="2.4" stroke-linecap="butt"/>
<polygon points="1202.8,2333.4 1174.1,2336.6 1176.0,2322.7" fill="#231815" stroke="#fff" stroke-width="2.2"/>
<polygon points="1202.8,2333.4 1174.1,2336.6 1176.0,2322.7" fill="#231815" stroke="none" stroke-width="0"/>
<polygon points="1347.1,2047.2 1366.0,2014.6 1403.6,2014.6 1422.5,2047.2 1403.6,2079.8 1366.0,2079.8" fill="#231815" stroke="none" stroke-width="0"/>
<text x="1384.8" y="2060.7" font-size="37" fill="#fff" stroke="#fff" text-anchor="middle">34</text>
<text x="1425.5" y="2060.3" font-size="34" fill="#231815" textLength="40">X2</text>
<polygon points="1488.1,2115.9 1504.5,2087.6 1537.1,2087.6 1553.5,2115.9 1537.1,2144.2 1504.5,2144.2" fill="#231815" stroke="none" stroke-width="0"/>
<text x="1520.8" y="2128.1" font-size="33" fill="#fff" stroke="#fff" text-anchor="middle">32</text>
<line x1="1552.0" y1="2133.7" x2="1609.6" y2="2153.9" stroke="#231815" stroke-width="2.4" stroke-linecap="butt"/>
<rect x="1800.0" y="2041.0" width="38" height="38" rx="6" fill="#231815"/>
<text transform="translate(1804.52,2071.20) scale(0.840,1)" font-size="31" fill="#fff" stroke="#fff" stroke-width="0.45">1</text>
<text transform="translate(1819.00,2071.20) scale(0.840,1)" font-size="31" fill="#fff" stroke="#fff" stroke-width="0.45">4</text>
<text transform="translate(1751.12,2072.50) scale(1.000,1)" font-size="35.5" fill="#231815" stroke="#231815" stroke-width="0.45">H</text>
<text transform="translate(1776.76,2072.50) scale(1.000,1)" font-size="35.5" fill="#231815" stroke="#231815" stroke-width="0.45">1</text>
<line x1="1794.5" y1="2082.3" x2="1794.5" y2="2158.7" stroke="#231815" stroke-width="2.4" stroke-linecap="butt"/>
<rect x="1551.5" y="2404.5" width="38" height="38" rx="6" fill="#231815"/>
<text transform="translate(1556.02,2434.70) scale(0.840,1)" font-size="31" fill="#fff" stroke="#fff" stroke-width="0.45">1</text>
<text transform="translate(1570.50,2434.70) scale(0.840,1)" font-size="31" fill="#fff" stroke="#fff" stroke-width="0.45">5</text>
<text transform="translate(1502.62,2436.00) scale(1.000,1)" font-size="35.5" fill="#231815" stroke="#231815" stroke-width="0.45">H</text>
<text transform="translate(1528.26,2436.00) scale(1.000,1)" font-size="35.5" fill="#231815" stroke="#231815" stroke-width="0.45">1</text>
<line x1="1498.7" y1="2376.2" x2="1524.1" y2="2402.7" stroke="#231815" stroke-width="2.4" stroke-linecap="butt"/>
<rect x="1875.7" y="2020.8" width="184.0" height="323.2" rx="15" fill="none" stroke="#231815" stroke-width="2.4"/>
<rect x="1887.0" y="2356.0" width="50" height="50" rx="3" fill="#3e3a39"/>
<path d="M1905.4,2365.0 Q1905.4,2360.5 1912.0,2360.5 Q1918.6,2360.5 1918.6,2365.0 L1915.0,2388.0 Q1912.0,2391.0 1909.0,2388.0 Z" fill="#fff" stroke="#231815" stroke-width="1"/>
<circle cx="1912.0" cy="2396.0" r="4.4" fill="#fff" stroke="#231815" stroke-width="1"/>
<text x="1944" y="2379" font-size="23.5" fill="#231815" textLength="104">*注意安装</text>
<polygon points="129.3,2520.6 148.2,2488.0 185.8,2488.0 204.7,2520.6 185.8,2553.2 148.2,2553.2" fill="#231815" stroke="none" stroke-width="0"/>
<text x="167" y="2534.1" font-size="37" fill="#fff" stroke="#fff" text-anchor="middle">35</text>
<text x="209.5" y="2533.4" font-size="34" fill="#231815" textLength="40">X2</text>
<rect x="241.5" y="2588.5" width="38" height="38" rx="6" fill="#231815"/>
<text transform="translate(251.88,2618.70) scale(1.000,1)" font-size="31" fill="#fff" stroke="#fff" stroke-width="0.45">3</text>
<text transform="translate(194.58,2620.00) scale(1.000,1)" font-size="35.5" fill="#231815" stroke="#231815" stroke-width="0.45">A</text>
<text transform="translate(218.26,2620.00) scale(1.000,1)" font-size="35.5" fill="#231815" stroke="#231815" stroke-width="0.45">3</text>
<line x1="231.9" y1="2629.2" x2="231.9" y2="2674.0" stroke="#231815" stroke-width="2.4" stroke-linecap="butt"/>
<rect x="622.0" y="2557.5" width="38" height="38" rx="6" fill="#231815"/>
<text transform="translate(632.38,2587.70) scale(1.000,1)" font-size="31" fill="#fff" stroke="#fff" stroke-width="0.45">4</text>
<text transform="translate(575.08,2589.00) scale(1.000,1)" font-size="35.5" fill="#231815" stroke="#231815" stroke-width="0.45">A</text>
<text transform="translate(598.76,2589.00) scale(1.000,1)" font-size="35.5" fill="#231815" stroke="#231815" stroke-width="0.45">3</text>
<line x1="621.3" y1="2600.7" x2="621.3" y2="2642.6" stroke="#231815" stroke-width="2.4" stroke-linecap="butt"/>
<polygon points="757.2,2521.0 776.0,2488.4 813.8,2488.4 832.6,2521.0 813.8,2553.6 776.0,2553.6" fill="#231815" stroke="none" stroke-width="0"/>
<text x="794.9" y="2534.5" font-size="37" fill="#fff" stroke="#fff" text-anchor="middle">36</text>
<text x="837.5" y="2533.4" font-size="34" fill="#231815" textLength="40">X2</text>
<polygon points="966.7,2530.5 983.0,2502.2 1015.8,2502.2 1032.1,2530.5 1015.8,2558.8 983.0,2558.8" fill="#231815" stroke="none" stroke-width="0"/>
<text x="999.4" y="2542.7" font-size="33" fill="#fff" stroke="#fff" text-anchor="middle">35</text>
<line x1="1028.9" y1="2545.9" x2="1100.0" y2="2575.4" stroke="#231815" stroke-width="2.4" stroke-linecap="butt"/>
<rect x="847.3" y="2851.0" width="38" height="38" rx="6" fill="#231815"/>
<text transform="translate(851.82,2881.20) scale(0.840,1)" font-size="31" fill="#fff" stroke="#fff" stroke-width="0.45">1</text>
<text transform="translate(866.30,2881.20) scale(0.840,1)" font-size="31" fill="#fff" stroke="#fff" stroke-width="0.45">6</text>
<text transform="translate(800.38,2882.50) scale(1.000,1)" font-size="35.5" fill="#231815" stroke="#231815" stroke-width="0.45">E</text>
<text transform="translate(824.06,2882.50) scale(1.000,1)" font-size="35.5" fill="#231815" stroke="#231815" stroke-width="0.45">1</text>
<line x1="881.5" y1="2797.3" x2="846.4" y2="2843.1" stroke="#231815" stroke-width="2.4" stroke-linecap="butt"/>
<rect x="1344.5" y="2841.5" width="38" height="38" rx="6" fill="#231815"/>
<text transform="translate(1349.02,2871.70) scale(0.840,1)" font-size="31" fill="#fff" stroke="#fff" stroke-width="0.45">1</text>
<text transform="translate(1363.50,2871.70) scale(0.840,1)" font-size="31" fill="#fff" stroke="#fff" stroke-width="0.45">7</text>
<text transform="translate(1297.58,2873.00) scale(1.000,1)" font-size="35.5" fill="#231815" stroke="#231815" stroke-width="0.45">E</text>
<text transform="translate(1321.26,2873.00) scale(1.000,1)" font-size="35.5" fill="#231815" stroke="#231815" stroke-width="0.45">1</text>
<line x1="1341.5" y1="2795.4" x2="1341.5" y2="2837.5" stroke="#231815" stroke-width="2.4" stroke-linecap="butt"/>
<polygon points="1476.9,2520.9 1495.8,2488.3 1533.4,2488.3 1552.3,2520.9 1533.4,2553.5 1495.8,2553.5" fill="#231815" stroke="none" stroke-width="0"/>
<text x="1514.6" y="2534.4" font-size="37" fill="#fff" stroke="#fff" text-anchor="middle">37</text>
<text x="1558.5" y="2533.4" font-size="34" fill="#231815" textLength="40">X2</text>
<polygon points="1754.6,2559.5 1771.0,2531.2 1803.6,2531.2 1820.0,2559.5 1803.6,2587.8 1771.0,2587.8" fill="#231815" stroke="none" stroke-width="0"/>
<text x="1787.3" y="2571.7" font-size="33" fill="#fff" stroke="#fff" text-anchor="middle">35</text>
<line x1="1694.0" y1="2558.1" x2="1750.0" y2="2558.1" stroke="#231815" stroke-width="2.4" stroke-linecap="butt"/>
<rect x="1992.5" y="2741.0" width="38" height="38" rx="6" fill="#231815"/>
<text transform="translate(2002.88,2771.20) scale(1.000,1)" font-size="31" fill="#fff" stroke="#fff" stroke-width="0.45">9</text>
<text transform="translate(1943.62,2772.50) scale(1.000,1)" font-size="35.5" fill="#231815" stroke="#231815" stroke-width="0.45">H</text>
<text transform="translate(1969.26,2772.50) scale(1.000,1)" font-size="35.5" fill="#231815" stroke="#231815" stroke-width="0.45">1</text>
<line x1="1880.5" y1="2760.0" x2="1938.8" y2="2760.0" stroke="#231815" stroke-width="2.4" stroke-linecap="butt"/>
<path d="M1646.5,2843.9 V2881.2 H1729 L1750.9,2615.5 L1844.6,2617.8 L1836.2,2741.3 M1830.6,2791.7 L1825,2866" fill="none" stroke="#231815" stroke-width="2.4"/>
<polygon points="1823.2,2890.5 1818.3,2862.1 1832.3,2863.1" fill="#231815" stroke="none" stroke-width="0"/>
<polygon points="1479.8,554.9 1497.2,563.7 1499.3,555.1" fill="#231815" stroke="none" stroke-width="0"/>
<polygon points="1478.1,556.9 1481.9,576.1 1490.0,572.4" fill="#231815" stroke="none" stroke-width="0"/>
<polygon points="1852.3,589.1 1833.7,595.0 1838.2,602.6" fill="#231815" stroke="none" stroke-width="0"/>
<polygon points="1854.5,590.6 1847.7,608.9 1856.4,610.0" fill="#231815" stroke="none" stroke-width="0"/>
<polygon points="1907.0,299.6 1887.0,295.2 1887.0,304.0" fill="#231815" stroke="none" stroke-width="0"/>
<polygon points="1908.2,302.4 1890.9,313.5 1897.1,319.7" fill="#231815" stroke="none" stroke-width="0"/>
<polygon points="318.0,758.6 326.5,741.5 317.3,739.6" fill="#231815" stroke="none" stroke-width="0"/>
<polygon points="318.9,759.2 336.8,752.5 331.4,744.8" fill="#231815" stroke="none" stroke-width="0"/>
<polygon points="816.0,850.9 816.0,831.0 808.1,832.6" fill="#231815" stroke="none" stroke-width="0"/>
<polygon points="813.6,852.7 798.0,840.3 794.4,847.4" fill="#231815" stroke="none" stroke-width="0"/>
<polygon points="943.3,850.9 951.2,832.6 943.3,831.0" fill="#231815" stroke="none" stroke-width="0"/>
<polygon points="945.7,852.7 964.9,847.4 961.3,840.3" fill="#231815" stroke="none" stroke-width="0"/>
<polygon points="1459.4,1805.7 1465.4,1789.3 1457.5,1788.4" fill="#231815" stroke="none" stroke-width="0"/>
<polygon points="1461.7,1807.5 1478.9,1804.2 1475.6,1796.9" fill="#231815" stroke="none" stroke-width="0"/>
<polygon points="1932.1,1805.7 1934.0,1788.4 1926.1,1789.3" fill="#231815" stroke="none" stroke-width="0"/>
<polygon points="1929.8,1807.5 1915.9,1796.9 1912.6,1804.2" fill="#231815" stroke="none" stroke-width="0"/>
<polygon points="1596.7,1268.6 1603.8,1249.4 1594.8,1248.2" fill="#231815" stroke="none" stroke-width="0"/>
<polygon points="1597.5,1269.1 1617.3,1263.7 1613.0,1255.8" fill="#231815" stroke="none" stroke-width="0"/>
<polygon points="1827.7,1268.6 1829.6,1248.2 1820.6,1249.4" fill="#231815" stroke="none" stroke-width="0"/>
<polygon points="1826.9,1269.1 1811.4,1255.8 1807.1,1263.7" fill="#231815" stroke="none" stroke-width="0"/>
<polygon points="1089.5,2254.6 1105.1,2243.0 1099.1,2237.7" fill="#231815" stroke="none" stroke-width="0"/>
<polygon points="1090.5,2257.0 1109.2,2262.3 1109.7,2254.3" fill="#231815" stroke="none" stroke-width="0"/>
<polygon points="1264.1,2106.5 1279.4,2092.1 1272.0,2087.0" fill="#231815" stroke="none" stroke-width="0"/>
<polygon points="1264.8,2107.6 1285.5,2111.0 1285.0,2102.1" fill="#231815" stroke="none" stroke-width="0"/>
<line x1="1519.3" y1="2219.2" x2="1802.1" y2="2225.3" stroke="#fff" stroke-width="5.6" stroke-linecap="butt"/>
<line x1="1519.3" y1="2219.2" x2="1802.1" y2="2225.3" stroke="#231815" stroke-width="2.4" stroke-linecap="butt"/>
<polygon points="1828.1,2225.9 1800.0,2232.3 1800.3,2218.3" fill="#231815" stroke="#fff" stroke-width="2.2"/>
<polygon points="1828.1,2225.9 1800.0,2232.3 1800.3,2218.3" fill="#231815" stroke="none" stroke-width="0"/>
<line x1="1620.2" y1="2240.8" x2="1537.2" y2="2240.8" stroke="#fff" stroke-width="5.6" stroke-linecap="butt"/>
<line x1="1620.2" y1="2240.8" x2="1537.2" y2="2240.8" stroke="#231815" stroke-width="2.4" stroke-linecap="butt"/>
<polygon points="1511.2,2240.8 1539.2,2233.8 1539.2,2247.8" fill="#231815" stroke="#fff" stroke-width="2.2"/>
<polygon points="1511.2,2240.8 1539.2,2233.8 1539.2,2247.8" fill="#231815" stroke="none" stroke-width="0"/>
<line x1="1669.7" y1="2241.8" x2="1779.1" y2="2242.5" stroke="#fff" stroke-width="5.6" stroke-linecap="butt"/>
<line x1="1669.7" y1="2241.8" x2="1779.1" y2="2242.5" stroke="#231815" stroke-width="2.4" stroke-linecap="butt"/>
<polygon points="1805.1,2242.7 1777.1,2249.5 1777.1,2235.5" fill="#231815" stroke="#fff" stroke-width="2.2"/>
<polygon points="1805.1,2242.7 1777.1,2249.5 1777.1,2235.5" fill="#231815" stroke="none" stroke-width="0"/>
<line x1="268.3" y1="2706.3" x2="388.0" y2="2701.1" stroke="#fff" stroke-width="5.6" stroke-linecap="butt"/>
<line x1="268.3" y1="2706.3" x2="388.0" y2="2701.1" stroke="#231815" stroke-width="2.4" stroke-linecap="butt"/>
<polygon points="414.0,2700.0 386.3,2708.2 385.7,2694.2" fill="#231815" stroke="#fff" stroke-width="2.2"/>
<polygon points="414.0,2700.0 386.3,2708.2 385.7,2694.2" fill="#231815" stroke="none" stroke-width="0"/>
<line x1="289.7" y1="2808.8" x2="398.6" y2="2800.7" stroke="#fff" stroke-width="5.6" stroke-linecap="butt"/>
<line x1="289.7" y1="2808.8" x2="398.6" y2="2800.7" stroke="#231815" stroke-width="2.4" stroke-linecap="butt"/>
<polygon points="424.5,2798.8 397.1,2807.9 396.1,2793.9" fill="#231815" stroke="#fff" stroke-width="2.2"/>
<polygon points="424.5,2798.8 397.1,2807.9 396.1,2793.9" fill="#231815" stroke="none" stroke-width="0"/>
<line x1="619.2" y1="2682.4" x2="510.3" y2="2689.2" stroke="#fff" stroke-width="5.6" stroke-linecap="butt"/>
<line x1="619.2" y1="2682.4" x2="510.3" y2="2689.2" stroke="#231815" stroke-width="2.4" stroke-linecap="butt"/>
<polygon points="484.4,2690.8 511.9,2682.1 512.8,2696.0" fill="#231815" stroke="#fff" stroke-width="2.2"/>
<polygon points="484.4,2690.8 511.9,2682.1 512.8,2696.0" fill="#231815" stroke="none" stroke-width="0"/>
<line x1="611.7" y1="2783.7" x2="491.0" y2="2792.7" stroke="#fff" stroke-width="5.6" stroke-linecap="butt"/>
<line x1="611.7" y1="2783.7" x2="491.0" y2="2792.7" stroke="#231815" stroke-width="2.4" stroke-linecap="butt"/>
<polygon points="465.1,2794.6 492.5,2785.5 493.5,2799.5" fill="#231815" stroke="#fff" stroke-width="2.2"/>
<polygon points="465.1,2794.6 492.5,2785.5 493.5,2799.5" fill="#231815" stroke="none" stroke-width="0"/>
<line x1="1068.7" y1="2658.3" x2="946.2" y2="2666.0" stroke="#fff" stroke-width="5.6" stroke-linecap="butt"/>
<line x1="1068.7" y1="2658.3" x2="946.2" y2="2666.0" stroke="#231815" stroke-width="2.4" stroke-linecap="butt"/>
<polygon points="920.3,2667.6 947.8,2658.9 948.7,2672.8" fill="#231815" stroke="#fff" stroke-width="2.2"/>
<polygon points="920.3,2667.6 947.8,2658.9 948.7,2672.8" fill="#231815" stroke="none" stroke-width="0"/>
<line x1="932.9" y1="2732.2" x2="1047.4" y2="2724.5" stroke="#fff" stroke-width="5.6" stroke-linecap="butt"/>
<line x1="932.9" y1="2732.2" x2="1047.4" y2="2724.5" stroke="#231815" stroke-width="2.4" stroke-linecap="butt"/>
<polygon points="1073.3,2722.8 1045.8,2731.7 1044.9,2717.7" fill="#231815" stroke="#fff" stroke-width="2.2"/>
<polygon points="1073.3,2722.8 1045.8,2731.7 1044.9,2717.7" fill="#231815" stroke="none" stroke-width="0"/>
<line x1="925.9" y1="2790.2" x2="1047.4" y2="2782.5" stroke="#fff" stroke-width="5.6" stroke-linecap="butt"/>
<line x1="925.9" y1="2790.2" x2="1047.4" y2="2782.5" stroke="#231815" stroke-width="2.4" stroke-linecap="butt"/>
<polygon points="1073.3,2780.9 1045.8,2789.6 1044.9,2775.7" fill="#231815" stroke="#fff" stroke-width="2.2"/>
<polygon points="1073.3,2780.9 1045.8,2789.6 1044.9,2775.7" fill="#231815" stroke="none" stroke-width="0"/>
<line x1="1161.3" y1="2648.0" x2="1300.3" y2="2639.5" stroke="#231815" stroke-width="2.4" stroke-linecap="butt"/>
<line x1="1328.4" y1="2702.7" x2="1191.5" y2="2709.8" stroke="#fff" stroke-width="5.6" stroke-linecap="butt"/>
<line x1="1328.4" y1="2702.7" x2="1191.5" y2="2709.8" stroke="#231815" stroke-width="2.4" stroke-linecap="butt"/>
<polygon points="1165.5,2711.1 1193.1,2702.7 1193.8,2716.6" fill="#231815" stroke="#fff" stroke-width="2.2"/>
<polygon points="1165.5,2711.1 1193.1,2702.7 1193.8,2716.6" fill="#231815" stroke="none" stroke-width="0"/>
<line x1="1323.7" y1="2761.2" x2="1170.9" y2="2769.2" stroke="#fff" stroke-width="5.6" stroke-linecap="butt"/>
<line x1="1323.7" y1="2761.2" x2="1170.9" y2="2769.2" stroke="#231815" stroke-width="2.4" stroke-linecap="butt"/>
<polygon points="1144.9,2770.6 1172.5,2762.1 1173.2,2776.1" fill="#231815" stroke="#fff" stroke-width="2.2"/>
<polygon points="1144.9,2770.6 1172.5,2762.1 1173.2,2776.1" fill="#231815" stroke="none" stroke-width="0"/>
<text x="1544.2" y="2990.4" font-size="30" fill="#231815" textLength="478" lengthAdjust="spacingAndGlyphs">YIP FUNG SIM : CYCLONE HOPPER</text>
<polygon points="2032.4,2977.2 2050.2,2946.4 2085.8,2946.4 2103.6,2977.2 2085.8,3007.9 2050.2,3007.9" fill="#231815" stroke="none" stroke-width="0"/>
<rect x="2037.5" y="2946.4" width="5.3" height="61.5" fill="#b5b5b6"/>
<text x="2069" y="2990" font-size="36" font-weight="bold" fill="#fff" text-anchor="middle">10</text>
</svg>
</body></html>
